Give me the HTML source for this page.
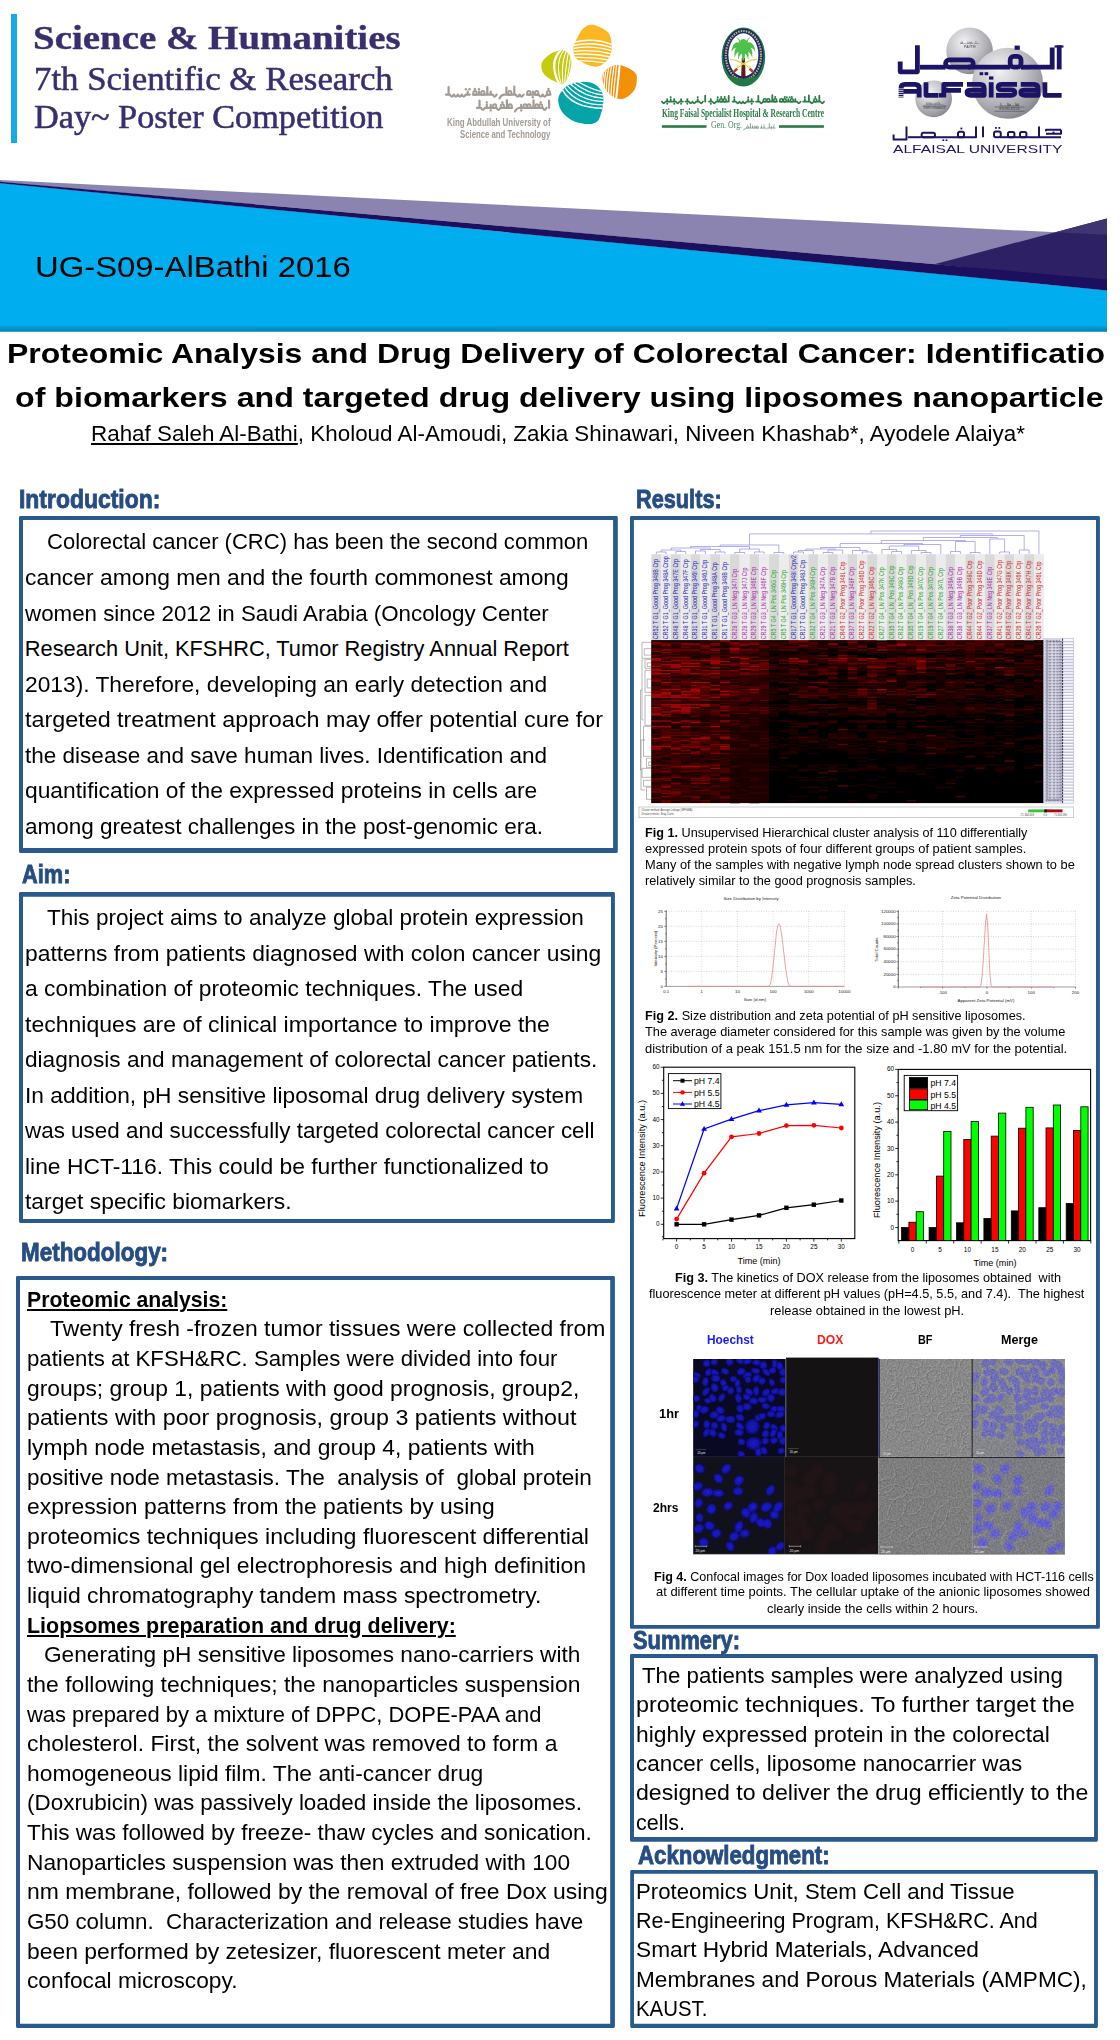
<!DOCTYPE html>
<html><head><meta charset="utf-8"><title>Poster</title>
<style>
html,body{margin:0;padding:0;background:#fff;}
body{width:1120px;height:2040px;overflow:hidden;position:relative;font-family:"Liberation Sans",sans-serif;color:#000;}
#pg{position:absolute;left:0;top:0;width:1120px;height:2040px;overflow:hidden;}
.t{position:absolute;white-space:pre;transform-origin:0 0;}
.bx{position:absolute;box-sizing:border-box;border:4px solid #285a8e;background:#fff;border-radius:1.5px;}
svg{position:absolute;overflow:visible;}
u{text-decoration-thickness:1.5px;text-underline-offset:2px;}
</style></head><body><div id="pg">

<!-- boxes -->
<svg style="left:0;top:0" width="1120" height="2040" viewBox="0 0 1120 2040"><path d="M20.4,516H616.4Q617.8,516 617.8,517.4V851.5Q617.8,852.9 616.4,852.9H20.4Q19,852.9 19,851.5V517.4Q19,516 20.4,516ZM23.0,520.1V848.1H613.1V520.1ZM20.4,892H613.5Q614.9,892 614.9,893.4V1221.5Q614.9,1222.9 613.5,1222.9H20.4Q19,1222.9 19,1221.5V893.4Q19,892 20.4,892ZM23.0,896.8V1219.0H611.0V896.8ZM17.4,1276.1H613.5Q614.9,1276.1 614.9,1277.5V2026.5Q614.9,2027.9 613.5,2027.9H17.4Q16,2027.9 16,2026.5V1277.5Q16,1276.1 17.4,1276.1ZM20.0,1280.1V2023.8H610.2V1280.1ZM631.4,516.1H1098.5Q1099.9,516.1 1099.9,517.5V1627.4Q1099.9,1628.8 1098.5,1628.8H631.4Q630,1628.8 630,1627.4V517.5Q630,516.1 631.4,516.1ZM633.9,519.9V1624.9H1096.0V519.9ZM631.4,1654.1H1096.5Q1097.9,1654.1 1097.9,1655.5V1840.3Q1097.9,1841.7 1096.5,1841.7H631.4Q630,1841.7 630,1840.3V1655.5Q630,1654.1 631.4,1654.1ZM634.0,1657.9V1837.1H1094.1V1657.9ZM631.6,1870.1H1096.5Q1097.9,1870.1 1097.9,1871.5V2026.5Q1097.9,2027.9 1096.5,2027.9H631.6Q630.2,2027.9 630.2,2026.5V1871.5Q630.2,1870.1 631.6,1870.1ZM634.0,1873.8V2023.8H1094.1V1873.8Z" fill="#285a8e" fill-rule="evenodd"/></svg>
<!-- cyan bar + banner -->
<div style="position:absolute;left:10.5px;top:14px;width:6.7px;height:129px;background:#19a9e6"></div>
<svg style="left:0;top:170px" width="1120" height="170" viewBox="0 170 1120 170">
<defs><linearGradient id="cy" x1="0" y1="0" x2="0" y2="1" gradientUnits="objectBoundingBox">
<stop offset="0" stop-color="#00aeef"/><stop offset="0.955" stop-color="#00aeef"/><stop offset="0.975" stop-color="#0294cd"/><stop offset="1" stop-color="#027fb2"/></linearGradient></defs>
<polygon points="0,183 1107,290.2 1107,331.8 0,331.8" fill="url(#cy)"/>
<polygon points="0,180 1107,234.8 1107,279.4 0,182" fill="#8b84b0"/>
<polygon points="934.4,264.3 1107,218.5 1107,281" fill="#2d2065"/>
<polygon points="0,181.8 1107,279.4 1107,290.4 0,183.2" fill="#1b0f5e"/>
<polygon points="1055.2,232.2 1107,218.5 1107,234.8" fill="#3f3570"/>
</svg>

<!-- logos -->
<svg style="left:430px;top:0" width="690" height="170" viewBox="430 0 690 170">
<defs>
<clipPath id="cy1"><path d="M592.8,24.8C596.9,25.4 604.8,28.8 607.9,32.2C611.1,35.6 611.6,41.2 611.7,45.4C611.9,49.7 611.4,54.2 608.9,57.8C606.4,61.3 601.8,66.4 596.6,66.7C591.4,67.1 581.5,62.6 577.6,59.6C573.8,56.7 573.5,52.7 573.4,49.2C573.2,45.8 575.0,42.3 576.7,38.8C578.4,35.4 580.6,30.7 583.3,28.4C586.0,26.1 588.7,24.2 592.8,24.8Z"/></clipPath>
<clipPath id="cg1"><path d="M561.1,50.2C558.6,50.7 553.4,51.8 550.2,54.0C547.0,56.2 542.6,60.0 541.7,63.4C540.7,66.9 541.7,71.5 544.5,74.8C547.4,78.1 555.4,81.9 558.7,83.3C562.0,84.7 562.7,84.7 564.4,83.3C566.1,81.9 567.9,78.1 569.1,74.8C570.3,71.5 571.3,66.6 571.5,63.4C571.6,60.3 571.1,57.9 570.1,55.9C569.0,53.8 566.8,52.1 565.3,51.1C563.8,50.2 563.6,49.7 561.1,50.2Z"/></clipPath>
<clipPath id="co1"><path d="M621.2,65.3C625.0,66.3 631.8,69.7 634.4,71.9C637.0,74.2 636.8,75.6 636.8,78.6C636.8,81.6 636.6,86.6 634.4,89.9C632.3,93.2 627.3,97.2 624.0,98.4C620.7,99.7 617.6,98.9 614.6,97.5C611.6,96.1 608.1,93.1 606.0,89.9C604.0,86.8 602.6,81.6 602.3,78.6C601.9,75.6 602.6,74.0 604.1,71.9C605.7,69.9 608.9,67.4 611.7,66.3C614.6,65.2 617.4,64.4 621.2,65.3Z"/></clipPath>
<clipPath id="ct1"><path d="M581.4,81.9C585.8,81.7 591.2,82.4 594.7,84.3C598.1,86.1 600.8,89.6 602.3,92.8C603.7,95.9 603.4,99.9 603.2,103.2C603.0,106.5 602.3,109.6 601.3,112.6C600.4,115.6 599.6,119.3 597.5,121.2C595.5,123.1 592.9,124.0 589.0,124.0C585.1,124.0 578.3,123.1 573.9,121.2C569.4,119.3 565.1,116.0 562.5,112.6C559.9,109.3 558.6,104.6 558.2,101.3C557.9,98.0 559.0,95.4 560.6,92.8C562.3,90.1 564.7,87.0 568.2,85.2C571.6,83.4 577.0,82.0 581.4,81.9Z"/></clipPath>
<radialGradient id="sp" cx="0.38" cy="0.32" r="0.75"><stop offset="0" stop-color="#f3f3f5"/><stop offset="0.42" stop-color="#cacace"/><stop offset="0.82" stop-color="#9a9aa0"/><stop offset="1" stop-color="#7e7e86"/></radialGradient>
</defs>
<g clip-path="url(#cy1)"><rect x="570" y="20" width="46" height="52" fill="#fbb823"/><path d="M572.0,42.8Q593.0,36.8 613.1,45.0" fill="none" stroke="#fff" stroke-width="1.3"/><path d="M572.0,45.7Q593.0,40.8 613.1,48.1" fill="none" stroke="#fff" stroke-width="1.3"/><path d="M572.0,48.7Q593.0,44.7 613.1,51.2" fill="none" stroke="#fff" stroke-width="1.3"/><path d="M572.0,51.6Q593.0,48.7 613.1,54.3" fill="none" stroke="#fff" stroke-width="1.3"/><path d="M572.0,54.5Q593.0,52.7 613.1,57.5" fill="none" stroke="#fff" stroke-width="1.3"/><path d="M572.0,57.5Q593.0,56.7 613.1,60.6" fill="none" stroke="#fff" stroke-width="1.3"/><path d="M572.0,60.4Q593.0,60.6 613.1,63.7" fill="none" stroke="#fff" stroke-width="1.3"/></g>
<g clip-path="url(#cg1)"><rect x="538" y="48" width="36" height="38" fill="#c7cb0f"/><path d="M561.7,49.2Q547.8,62.0 559.4,84.3" fill="none" stroke="#fff" stroke-width="2.2"/><path d="M564.4,49.7Q554.3,61.8 561.2,84.3" fill="none" stroke="#fff" stroke-width="1.1"/><path d="M566.8,50.2Q560.7,61.5 563.0,84.3" fill="none" stroke="#fff" stroke-width="1.1"/><path d="M568.8,51.1Q566.2,61.3 564.6,83.8" fill="none" stroke="#fff" stroke-width="1.1"/><path d="M570.6,53.0Q570.5,63.0 566.5,82.4" fill="none" stroke="#fff" stroke-width="1.0"/><path d="M572.0,55.9Q572.9,63.0 568.7,79.5" fill="none" stroke="#fff" stroke-width="0.9"/></g>
<g clip-path="url(#co1)"><rect x="600" y="63" width="40" height="38" fill="#f29108"/><path d="M619.7,64.4Q618.1,82.8 616.1,99.4" fill="none" stroke="#fff" stroke-width="2.0"/><path d="M616.6,64.8Q614.4,82.6 613.1,99.4" fill="none" stroke="#fff" stroke-width="1.2"/><path d="M614.0,65.3Q611.3,82.8 610.7,98.4" fill="none" stroke="#fff" stroke-width="1.2"/><path d="M611.4,65.8Q608.3,83.5 608.6,96.6" fill="none" stroke="#fff" stroke-width="1.2"/><path d="M608.9,66.7Q605.4,84.0 606.7,94.7" fill="none" stroke="#fff" stroke-width="1.1"/><path d="M606.4,68.2Q603.1,84.7 605.1,91.8" fill="none" stroke="#fff" stroke-width="1.1"/><path d="M604.3,70.5Q601.3,81.6 603.7,88.0" fill="none" stroke="#fff" stroke-width="1.0"/></g>
<g clip-path="url(#ct1)"><rect x="555" y="80" width="52" height="48" fill="#03a5a9"/><path d="M562.5,89.9Q572.0,108.1 604.1,108.4" fill="none" stroke="#fff" stroke-width="1.6"/><path d="M564.9,87.6Q576.5,104.8 604.1,104.9" fill="none" stroke="#fff" stroke-width="1.3"/><path d="M567.4,85.7Q580.9,101.4 604.1,101.5" fill="none" stroke="#fff" stroke-width="1.3"/><path d="M570.3,84.1Q585.1,97.8 604.1,98.3" fill="none" stroke="#fff" stroke-width="1.3"/><path d="M573.7,82.7Q589.3,94.5 603.7,94.9" fill="none" stroke="#fff" stroke-width="1.3"/><path d="M577.6,81.6Q593.7,90.4 602.3,91.6" fill="none" stroke="#fff" stroke-width="1.2"/></g>
<path d="M469.7,94.6H467.7V91.5M467.7,94.6H465.7Q463.7,98.7 461.8,94.6Q459.8,98.7 457.8,94.6Q455.9,98.7 453.9,94.6Q451.9,98.7 449.9,94.6H448.6V87.1M448.6,94.6H446.0M496.6,94.6Q494.6,98.7 492.7,94.6H490.7V91.5M490.7,94.6H488.7H487.3V87.1M487.3,94.6H484.8H480.8H478.9V91.5M478.9,94.6H476.9H472.9M523.6,94.6Q521.6,98.7 519.6,94.6Q517.6,98.7 515.7,94.6H514.3V86.6M514.3,94.6H511.7H507.8H506.4V87.6M506.4,94.6H503.8Q500.7,95.4 499.5,98.3M550.5,94.6H546.6Q544.6,98.7 542.6,94.6Q540.6,98.7 538.7,94.6H534.7H532.8V91.5M532.8,94.6H530.8H526.8" fill="none" stroke="#a39b94" stroke-width="2.2" stroke-linecap="round" stroke-linejoin="round"/><ellipse cx="482.8" cy="93.0" rx="1.7" ry="2.0" fill="none" stroke="#a39b94" stroke-width="1.87"/><ellipse cx="474.9" cy="93.0" rx="1.7" ry="2.0" fill="none" stroke="#a39b94" stroke-width="1.87"/><ellipse cx="509.8" cy="93.0" rx="1.7" ry="2.0" fill="none" stroke="#a39b94" stroke-width="1.87"/><ellipse cx="548.5" cy="93.0" rx="1.7" ry="2.0" fill="none" stroke="#a39b94" stroke-width="1.87"/><ellipse cx="536.7" cy="93.0" rx="1.7" ry="2.0" fill="none" stroke="#a39b94" stroke-width="1.87"/><ellipse cx="528.8" cy="93.0" rx="1.7" ry="2.0" fill="none" stroke="#a39b94" stroke-width="1.87"/><circle cx="465.9" cy="89.2" r="1.21" fill="#a39b94"/><circle cx="469.5" cy="89.2" r="1.21" fill="#a39b94"/><circle cx="478.9" cy="89.2" r="1.21" fill="#a39b94"/><circle cx="474.9" cy="89.0" r="1.21" fill="#a39b94"/><circle cx="548.5" cy="89.0" r="1.21" fill="#a39b94"/><circle cx="532.8" cy="97.2" r="1.21" fill="#a39b94"/>
<path d="M512.1,107.8H508.2H506.9V100.2M506.9,107.8H504.3H500.4Q498.5,111.8 496.5,107.8H492.6H490.7V104.8M490.7,107.8H488.7H486.8V104.8M486.8,107.8H484.8Q482.9,111.8 480.9,107.8H479.5V100.7M479.5,107.8H477.0M550.5,107.8M549.1,100.7V107.8M546.6,107.8Q544.6,111.8 542.7,107.8H538.8H534.9H533.5V100.3M533.5,107.8H531.0H527.1H523.2H521.2V104.8M521.2,107.8H519.3Q516.1,108.6 515.0,111.4" fill="none" stroke="#a39b94" stroke-width="2.2" stroke-linecap="round" stroke-linejoin="round"/><ellipse cx="510.2" cy="106.2" rx="1.6" ry="1.9" fill="none" stroke="#a39b94" stroke-width="1.87"/><ellipse cx="502.4" cy="106.2" rx="1.6" ry="1.9" fill="none" stroke="#a39b94" stroke-width="1.87"/><ellipse cx="494.6" cy="106.2" rx="1.6" ry="1.9" fill="none" stroke="#a39b94" stroke-width="1.87"/><ellipse cx="540.7" cy="106.2" rx="1.6" ry="1.9" fill="none" stroke="#a39b94" stroke-width="1.87"/><ellipse cx="536.8" cy="106.2" rx="1.6" ry="1.9" fill="none" stroke="#a39b94" stroke-width="1.87"/><ellipse cx="529.0" cy="106.2" rx="1.6" ry="1.9" fill="none" stroke="#a39b94" stroke-width="1.87"/><ellipse cx="525.1" cy="106.2" rx="1.6" ry="1.9" fill="none" stroke="#a39b94" stroke-width="1.87"/><circle cx="502.4" cy="102.4" r="1.21" fill="#a39b94"/><circle cx="490.7" cy="110.4" r="1.21" fill="#a39b94"/><circle cx="486.8" cy="102.5" r="1.21" fill="#a39b94"/><circle cx="540.7" cy="102.4" r="1.21" fill="#a39b94"/><circle cx="521.2" cy="110.4" r="1.21" fill="#a39b94"/>
<g>
<ellipse cx="743.4" cy="57" rx="21.8" ry="29.4" fill="#217a46"/>
<ellipse cx="743.4" cy="55.4" rx="20.2" ry="27" fill="#1b2a78"/>
<ellipse cx="743.4" cy="55.4" rx="17.6" ry="24.4" fill="none" stroke="#d6cb48" stroke-width="2.1" stroke-dasharray="1.5 1.1" opacity="0.9"/>
<ellipse cx="743.4" cy="54.9" rx="15" ry="21.6" fill="#fff"/>
<path d="M741.8,58 L745,58 L745.6,77.6 L741.2,77.6 Z" fill="#5e1c12"/>
<path d="M730.6,75.6 Q743.4,82.6 756.2,75.6 Q752.6,85.6 743.4,86 Q734.2,85.6 730.6,75.6Z" fill="#217a46"/>
<g fill="#4fc04a">
<path d="M743.4,46 C738,39 732.5,42 731.4,52 C734,46.5 738,46.5 743.4,51 Z"/>
<path d="M743.4,46 C748.8,39 754.3,42 755.4,52 C752.8,46.5 748.8,46.5 743.4,51 Z"/>
<path d="M743.4,47 C737.5,43 733.5,48 734.6,58 C736,52 739.5,50 743.4,52 Z"/>
<path d="M743.4,47 C749.3,43 753.3,48 752.2,58 C750.8,52 747.3,50 743.4,52 Z"/>
<path d="M743.4,48 C739.5,47 737,52 738.6,60 C739.6,55 741,53 743.4,53 Z"/>
<path d="M743.4,48 C747.3,47 749.8,52 748.2,60 C747.2,55 745.8,53 743.4,53 Z"/>
<path d="M743.4,47 C741,41 738,37.5 736.6,37 C739,40 740.6,44 741.6,50 Z"/>
<path d="M743.4,47 C745.8,41 748.8,37.5 750.2,37 C747.8,40 746.2,44 745.2,50 Z"/>
<ellipse cx="743.4" cy="46.5" rx="5.2" ry="7.6"/>
<path d="M741.6,52 L742.4,60.5 L744.4,60.5 L745.2,52 Z"/>
</g>
<path d="M729.6,59.4 Q740,59.4 752.6,70.6" fill="none" stroke="#e6d64e" stroke-width="1.2"/>
<path d="M757.2,59.4 Q746.8,59.4 734.2,70.6" fill="none" stroke="#e6d64e" stroke-width="1.2"/>
<path d="M749.6,68.8 L753.6,72.4" stroke="#a8472a" stroke-width="2.6"/>
<path d="M737.2,68.8 L733.2,72.4" stroke="#a8472a" stroke-width="2.6"/>
<circle cx="737.6" cy="66.4" r="1.1" fill="#ece468"/><circle cx="749.4" cy="66.4" r="1.1" fill="#ece468"/>
</g>
<path d="M682.9,101.6H681.1V99.1M681.1,101.6H679.4Q677.7,104.9 675.9,101.6H674.2V99.1M674.2,101.6H672.4H670.7V99.1M670.7,101.6H669.0H667.2V99.1M667.2,101.6H665.5Q663.7,104.9 662.0,101.6M706.4,101.6M705.2,95.7V101.6M702.9,101.6Q701.2,104.9 699.4,101.6H697.7V99.1M697.7,101.6H696.0Q694.2,104.9 692.5,101.6Q690.7,104.9 689.0,101.6H687.3V99.1M687.3,101.6H685.5M729.9,101.6M728.7,96.0V101.6H726.4H723.0H719.5H717.7V99.1M717.7,101.6H716.0Q714.3,104.9 712.5,101.6H710.8V99.1M710.8,101.6H709.0M753.4,101.6H751.7V99.1M751.7,101.6H750.0H748.2V99.1M748.2,101.6H746.5Q744.7,104.9 743.0,101.6Q741.3,104.9 739.5,101.6Q737.8,104.9 736.0,101.6H734.3V99.1M734.3,101.6H732.6M777.0,101.6H773.5H772.3V95.2M772.3,101.6H770.0H766.5H763.0Q761.3,104.9 759.6,101.6H758.3V95.8M758.3,101.6H756.1M800.5,101.6Q798.7,104.9 797.0,101.6H795.3V99.1M795.3,101.6H793.5H790.0H788.3V99.1M788.3,101.6H786.6H783.1H779.6M824.0,101.6Q822.3,104.9 820.5,101.6H819.3V95.7M819.3,101.6H817.0H813.6Q811.8,104.9 810.1,101.6H808.9V95.4M808.9,101.6H806.6H804.9V99.1M804.9,101.6H803.1" fill="none" stroke="#2c7a45" stroke-width="1.8" stroke-linecap="round" stroke-linejoin="round"/><ellipse cx="724.7" cy="100.3" rx="1.5" ry="1.6" fill="none" stroke="#2c7a45" stroke-width="1.53"/><ellipse cx="721.2" cy="100.3" rx="1.5" ry="1.6" fill="none" stroke="#2c7a45" stroke-width="1.53"/><ellipse cx="775.2" cy="100.3" rx="1.5" ry="1.6" fill="none" stroke="#2c7a45" stroke-width="1.53"/><ellipse cx="768.3" cy="100.3" rx="1.5" ry="1.6" fill="none" stroke="#2c7a45" stroke-width="1.53"/><ellipse cx="764.8" cy="100.3" rx="1.5" ry="1.6" fill="none" stroke="#2c7a45" stroke-width="1.53"/><ellipse cx="791.8" cy="100.3" rx="1.5" ry="1.6" fill="none" stroke="#2c7a45" stroke-width="1.53"/><ellipse cx="784.8" cy="100.3" rx="1.5" ry="1.6" fill="none" stroke="#2c7a45" stroke-width="1.53"/><ellipse cx="781.3" cy="100.3" rx="1.5" ry="1.6" fill="none" stroke="#2c7a45" stroke-width="1.53"/><ellipse cx="815.3" cy="100.3" rx="1.5" ry="1.6" fill="none" stroke="#2c7a45" stroke-width="1.53"/><circle cx="681.1" cy="103.7" r="0.99" fill="#2c7a45"/><circle cx="674.2" cy="103.7" r="0.99" fill="#2c7a45"/><circle cx="670.7" cy="97.2" r="0.99" fill="#2c7a45"/><circle cx="667.2" cy="103.7" r="0.99" fill="#2c7a45"/><circle cx="697.7" cy="97.2" r="0.99" fill="#2c7a45"/><circle cx="687.3" cy="103.7" r="0.99" fill="#2c7a45"/><circle cx="724.7" cy="97.1" r="0.99" fill="#2c7a45"/><circle cx="721.2" cy="97.1" r="0.99" fill="#2c7a45"/><circle cx="717.7" cy="97.2" r="0.99" fill="#2c7a45"/><circle cx="710.8" cy="103.7" r="0.99" fill="#2c7a45"/><circle cx="751.7" cy="103.7" r="0.99" fill="#2c7a45"/><circle cx="748.2" cy="97.2" r="0.99" fill="#2c7a45"/><circle cx="734.3" cy="97.2" r="0.99" fill="#2c7a45"/><circle cx="775.2" cy="97.1" r="0.99" fill="#2c7a45"/><circle cx="791.8" cy="97.1" r="0.99" fill="#2c7a45"/><circle cx="786.9" cy="97.2" r="0.99" fill="#2c7a45"/><circle cx="789.7" cy="97.2" r="0.99" fill="#2c7a45"/><circle cx="784.8" cy="97.1" r="0.99" fill="#2c7a45"/><circle cx="815.3" cy="97.1" r="0.99" fill="#2c7a45"/><circle cx="804.9" cy="97.2" r="0.99" fill="#2c7a45"/>
<rect x="661.9" y="125.2" width="44.6" height="2.6" fill="#2c7a45"/><rect x="779" y="125.2" width="44.9" height="2.6" fill="#2c7a45"/>
<path d="M758.6,128.0H756.2H753.7H752.5V126.3M752.5,128.0H751.3H750.4V123.6M750.4,128.0H748.9H746.4Q744.5,128.4 743.8,130.0M775.0,128.0H773.8V126.3M773.8,128.0H772.6H771.4V126.3M771.4,128.0H770.1H769.3V123.7M769.3,128.0H767.7Q766.5,130.2 765.3,128.0H764.1V126.3M764.1,128.0H762.8H761.6V126.3M761.6,128.0H760.4" fill="none" stroke="#6a8f78" stroke-width="0.8" stroke-linecap="round" stroke-linejoin="round"/><ellipse cx="757.4" cy="127.1" rx="1.0" ry="1.1" fill="none" stroke="#6a8f78" stroke-width="0.68"/><ellipse cx="755.0" cy="127.1" rx="1.0" ry="1.1" fill="none" stroke="#6a8f78" stroke-width="0.68"/><ellipse cx="747.7" cy="127.1" rx="1.0" ry="1.1" fill="none" stroke="#6a8f78" stroke-width="0.68"/><circle cx="752.5" cy="125.0" r="0.44" fill="#6a8f78"/><circle cx="747.7" cy="124.9" r="0.44" fill="#6a8f78"/><circle cx="773.1" cy="125.0" r="0.44" fill="#6a8f78"/><circle cx="774.4" cy="125.0" r="0.44" fill="#6a8f78"/><circle cx="771.4" cy="129.4" r="0.44" fill="#6a8f78"/><circle cx="763.4" cy="125.0" r="0.44" fill="#6a8f78"/><circle cx="764.7" cy="125.0" r="0.44" fill="#6a8f78"/><circle cx="761.6" cy="125.0" r="0.44" fill="#6a8f78"/>
<g>
<circle cx="969.6" cy="50.9" r="23.3" fill="url(#sp)"/>
<circle cx="933.6" cy="98.8" r="18.4" fill="url(#sp)"/>
<circle cx="1007.6" cy="83.2" r="35.5" fill="url(#sp)"/>
</g>
<g><path d="M1059.2,45.3 V69.4" fill="none" stroke="#1b1464" stroke-width="4.8" stroke-linecap="butt" stroke-linejoin="miter"/><path d="M1054.5,46.5 H1063.5" fill="none" stroke="#1b1464" stroke-width="2.2" stroke-linecap="butt" stroke-linejoin="miter"/><path d="M1052.2,47.5 V67.2 H1030" fill="none" stroke="#1b1464" stroke-width="4.8" stroke-linecap="butt" stroke-linejoin="miter"/><rect x="1010.2" y="56.3" width="10.8" height="10.9" rx="3.6" fill="none" stroke="#1b1464" stroke-width="4.8"/><rect x="1014.6" y="45.6" width="5.2" height="4.2" fill="#1b1464"/><path d="M1021,67.2 H1030" fill="none" stroke="#1b1464" stroke-width="4.8" stroke-linecap="butt" stroke-linejoin="miter"/><path d="M1010.2,67.2 H968" fill="none" stroke="#1b1464" stroke-width="4.8" stroke-linecap="butt" stroke-linejoin="miter"/><rect x="979.6" y="72.2" width="3.6" height="3" fill="#1b1464"/><rect x="984.6" y="72.2" width="3.6" height="3" fill="#1b1464"/><rect x="945.6" y="59.8" width="27.6" height="7.4" rx="3.7" fill="none" stroke="#1b1464" stroke-width="4.8"/><path d="M945.6,67.2 H920" fill="none" stroke="#1b1464" stroke-width="4.8" stroke-linecap="butt" stroke-linejoin="miter"/><path d="M917.4,45.3 V71.8 H900.2 V61.5" fill="none" stroke="#1b1464" stroke-width="4.8" stroke-linecap="butt" stroke-linejoin="round"/></g>
<g><path d="M901,97.5 V88.4 Q901,84.4 905,84.4 H915 Q919.2,84.4 919.2,88.4 V97.5 M901,91.44999999999999 H919.2" fill="none" stroke="#1b1464" stroke-width="4.8" stroke-linejoin="round"/><path d="M926,82.2 V95.3 H938.2" fill="none" stroke="#1b1464" stroke-width="4.8" stroke-linejoin="round"/><rect x="938.6" y="93.1" width="3.6" height="4.4" fill="#1b1464"/><path d="M943.8,97.5 V84.4 H963 M943.8,90.44999999999999 H961" fill="none" stroke="#1b1464" stroke-width="4.8" stroke-linejoin="round"/><path d="M967,84.4 H980 Q984.2,84.4 984.2,88.4 V95.3 H971 Q967,95.3 967,92.3 Q967,90.25 971,90.25 H984.2" fill="none" stroke="#1b1464" stroke-width="4.8" stroke-linejoin="round"/><path d="M991.2,82.2 V97.5" fill="none" stroke="#1b1464" stroke-width="4.8" stroke-linejoin="round"/><rect x="989" y="76.4" width="4.4" height="3.2" fill="#1b1464"/><path d="M1017,84.4 H1002 Q998.2,84.4 998.2,87.2 Q998.2,89.85 1002,89.85 H1011 Q1014.8,89.85 1014.8,92.55 Q1014.8,95.3 1011,95.3 H996" fill="none" stroke="#1b1464" stroke-width="4.8" stroke-linejoin="round"/><path d="M1020.8,84.4 H1034 Q1038,84.4 1038,88.4 V95.3 H1025 Q1020.8,95.3 1020.8,92.3 Q1020.8,90.25 1025,90.25 H1038" fill="none" stroke="#1b1464" stroke-width="4.8" stroke-linejoin="round"/><path d="M1044.9,82.2 V95.3 H1061.6" fill="none" stroke="#1b1464" stroke-width="4.8" stroke-linejoin="round"/></g>
<rect x="898" y="88.5" width="5.5" height="0.7" fill="#fff"/><rect x="898" y="90.4" width="5.5" height="0.7" fill="#fff"/><rect x="898" y="92.3" width="5.5" height="0.7" fill="#fff"/><rect x="898" y="94.2" width="5.5" height="0.7" fill="#fff"/><rect x="898" y="96.1" width="5.5" height="0.7" fill="#fff"/>
<g font-family="'Liberation Sans',sans-serif" font-weight="bold" fill="#55555c" text-anchor="middle">
<text x="969.9" y="48" font-size="3.4" letter-spacing="0.4">FAITH</text>
<text x="1009.5" y="110.2" font-size="3" letter-spacing="0.1">KNOWLEDGE</text>
<text x="934.5" y="108.8" font-size="2.8">PERFORMANCE</text></g>
<path d="M994.5,107 H1024.5 M994.5,111.3 H1024.5" stroke="#3a3a44" stroke-width="0.5"/>
<path d="M922.5,105.9 H946.5" stroke="#3a3a44" stroke-width="0.5"/>
<path d="M979.0,43.4Q978.3,44.7 977.7,43.4Q977.0,44.7 976.4,43.4H975.9V41.2M975.9,43.4H975.0Q974.4,44.7 973.7,43.4Q973.1,44.7 972.4,43.4H971.7V42.4M971.7,43.4H971.1H970.4V42.4M970.4,43.4H969.8H969.1V42.4M969.1,43.4H968.4H967.8V42.4M967.8,43.4H967.1Q966.4,44.7 965.8,43.4Q965.1,44.7 964.5,43.4Q963.8,44.7 963.1,43.4H962.5V42.4M962.5,43.4H961.8H960.5" fill="none" stroke="#70707a" stroke-width="0.6" stroke-linecap="round" stroke-linejoin="round"/><ellipse cx="961.2" cy="42.9" rx="0.6" ry="0.6" fill="none" stroke="#70707a" stroke-width="0.51"/><circle cx="971.7" cy="41.7" r="0.33" fill="#70707a"/><circle cx="970.4" cy="44.2" r="0.33" fill="#70707a"/><circle cx="969.1" cy="41.7" r="0.33" fill="#70707a"/><circle cx="967.8" cy="41.7" r="0.33" fill="#70707a"/><circle cx="962.5" cy="41.7" r="0.33" fill="#70707a"/><circle cx="961.2" cy="41.6" r="0.33" fill="#70707a"/>
<path d="M1019.0,105.6H1017.6H1016.3H1015.8V103.1M1015.8,105.6H1014.9Q1014.2,107.0 1013.6,105.6Q1012.9,107.0 1012.2,105.6Q1011.5,107.0 1010.9,105.6H1009.5H1008.1H1007.7V103.1M1007.7,105.6H1006.8Q1006.1,107.0 1005.4,105.6Q1004.7,107.0 1004.1,105.6Q1003.4,107.0 1002.7,105.6Q1002.0,107.0 1001.4,105.6H1000.9V103.1M1000.9,105.6H1000.0" fill="none" stroke="#50505a" stroke-width="0.6" stroke-linecap="round" stroke-linejoin="round"/><ellipse cx="1018.3" cy="105.0" rx="0.6" ry="0.7" fill="none" stroke="#50505a" stroke-width="0.51"/><ellipse cx="1017.0" cy="105.0" rx="0.6" ry="0.7" fill="none" stroke="#50505a" stroke-width="0.51"/><ellipse cx="1010.2" cy="105.0" rx="0.6" ry="0.7" fill="none" stroke="#50505a" stroke-width="0.51"/><ellipse cx="1008.8" cy="105.0" rx="0.6" ry="0.7" fill="none" stroke="#50505a" stroke-width="0.51"/><circle cx="1018.3" cy="103.7" r="0.33" fill="#50505a"/><circle cx="1017.0" cy="103.7" r="0.33" fill="#50505a"/><circle cx="1008.8" cy="103.7" r="0.33" fill="#50505a"/>
<path d="M943.0,104.4Q942.3,105.7 941.7,104.4Q941.0,105.7 940.4,104.4H939.7V103.4M939.7,104.4H939.1H938.6V101.9M938.6,104.4H937.8H937.1V103.4M937.1,104.4H936.5H935.2H933.8Q933.2,105.7 932.5,104.4H931.2H930.6V103.4M930.6,104.4H929.9H929.3V103.4M929.3,104.4H928.6H927.3H926.7V103.4M926.7,104.4H926.0" fill="none" stroke="#70707a" stroke-width="0.6" stroke-linecap="round" stroke-linejoin="round"/><ellipse cx="935.8" cy="103.9" rx="0.5" ry="0.6" fill="none" stroke="#70707a" stroke-width="0.51"/><ellipse cx="934.5" cy="103.9" rx="0.5" ry="0.6" fill="none" stroke="#70707a" stroke-width="0.51"/><ellipse cx="931.9" cy="103.9" rx="0.5" ry="0.6" fill="none" stroke="#70707a" stroke-width="0.51"/><ellipse cx="928.0" cy="103.9" rx="0.5" ry="0.6" fill="none" stroke="#70707a" stroke-width="0.51"/><circle cx="939.7" cy="102.7" r="0.33" fill="#70707a"/><circle cx="936.6" cy="102.7" r="0.33" fill="#70707a"/><circle cx="937.6" cy="102.7" r="0.33" fill="#70707a"/><circle cx="930.6" cy="102.7" r="0.33" fill="#70707a"/><circle cx="928.8" cy="102.7" r="0.33" fill="#70707a"/><circle cx="929.7" cy="102.7" r="0.33" fill="#70707a"/><circle cx="926.2" cy="102.7" r="0.33" fill="#70707a"/><circle cx="927.1" cy="102.7" r="0.33" fill="#70707a"/>
<g><path d="M1061,129.7 H1046 V131.2 M1061,129.7 V133.79999999999998 H1046 M1061,137.2 H1030" fill="none" stroke="#1b1464" stroke-width="2.0" stroke-linejoin="round"/><rect x="1052.5" y="131.6" width="2" height="1.8" fill="#1b1464"/><path d="M1039,126.6 V137.2" fill="none" stroke="#1b1464" stroke-width="2.0" stroke-linejoin="round"/><path d="M1030,137.2 H1000" fill="none" stroke="#1b1464" stroke-width="2.0" stroke-linejoin="round"/><rect x="1020" y="132.0" width="6.4" height="5.2" rx="1.6" fill="none" stroke="#1b1464" stroke-width="2"/><rect x="1008" y="132.0" width="6.4" height="5.2" rx="1.6" fill="none" stroke="#1b1464" stroke-width="2"/><rect x="994" y="131.39999999999998" width="6.8" height="5.8" rx="2" fill="none" stroke="#1b1464" stroke-width="2"/><rect x="995" y="126.99999999999999" width="1.8" height="1.8" fill="#1b1464"/><rect x="998.4" y="126.99999999999999" width="1.8" height="1.8" fill="#1b1464"/><path d="M983,126.6 V137.2" fill="none" stroke="#1b1464" stroke-width="2.0" stroke-linejoin="round"/><path d="M976,126.6 V137.2 H958" fill="none" stroke="#1b1464" stroke-width="2.0" stroke-linejoin="round"/><rect x="958" y="131.79999999999998" width="6" height="5.4" rx="1.8" fill="none" stroke="#1b1464" stroke-width="2"/><rect x="960.4" y="127.6" width="1.9" height="1.8" fill="#1b1464"/><path d="M958,137.2 H922" fill="none" stroke="#1b1464" stroke-width="2.0" stroke-linejoin="round"/><rect x="942.4" y="139.39999999999998" width="1.8" height="1.6" fill="#1b1464"/><rect x="945.6" y="139.39999999999998" width="1.8" height="1.6" fill="#1b1464"/><rect x="921.6" y="132.79999999999998" width="13.4" height="4.4" rx="2" fill="none" stroke="#1b1464" stroke-width="2"/><path d="M921.6,137.2 H908" fill="none" stroke="#1b1464" stroke-width="2.0" stroke-linejoin="round"/><path d="M906.5,126.6 V139.6 H893.6 V134.6" fill="none" stroke="#1b1464" stroke-width="2.0" stroke-linejoin="round"/></g>
</svg>
<!-- fig1 -->
<svg style="left:630px;top:515px" width="470" height="310" viewBox="630 515 470 310">
<defs>
<filter id="hm" x="0" y="0" width="100%" height="100%" color-interpolation-filters="sRGB">
<feTurbulence type="fractalNoise" baseFrequency="0.045 0.42" numOctaves="2" seed="7" result="n"/>
<feColorMatrix in="n" type="matrix" values="2.6 0 0 0 -0.95  0 0 0 0 0  0 0 0 0 0  0 0 0 0 1"/>
</filter>
<linearGradient id="hmx" x1="0" x2="1" y1="0" y2="0">
<stop offset="0" stop-color="#000" stop-opacity="0.05"/><stop offset="0.2" stop-color="#000" stop-opacity="0.25"/><stop offset="0.3" stop-color="#000" stop-opacity="0.55"/><stop offset="0.45" stop-color="#000" stop-opacity="0.72"/><stop offset="1" stop-color="#000" stop-opacity="0.8"/></linearGradient>
<linearGradient id="hmy" x1="0" x2="0" y1="0" y2="1">
<stop offset="0" stop-color="#000" stop-opacity="0"/><stop offset="0.45" stop-color="#000" stop-opacity="0.15"/><stop offset="1" stop-color="#000" stop-opacity="0.6"/></linearGradient>
<linearGradient id="hml" x1="0" x2="1" y1="0" y2="0">
<stop offset="0" stop-color="#8a0000" stop-opacity="0.6"/><stop offset="0.22" stop-color="#700000" stop-opacity="0.45"/><stop offset="0.34" stop-color="#400000" stop-opacity="0.2"/><stop offset="0.5" stop-color="#300000" stop-opacity="0"/></linearGradient>
</defs>
<rect x="651.40" y="554.2" width="9.86" height="86.1" fill="#d9d9d9"/><rect x="661.21" y="554.2" width="9.86" height="86.1" fill="#ececec"/><rect x="671.02" y="554.2" width="9.86" height="86.1" fill="#d9d9d9"/><rect x="680.83" y="554.2" width="9.86" height="86.1" fill="#ececec"/><rect x="690.64" y="554.2" width="9.86" height="86.1" fill="#d9d9d9"/><rect x="700.45" y="554.2" width="9.86" height="86.1" fill="#ececec"/><rect x="710.26" y="554.2" width="9.86" height="86.1" fill="#d9d9d9"/><rect x="720.07" y="554.2" width="9.86" height="86.1" fill="#ececec"/><rect x="729.88" y="554.2" width="9.86" height="86.1" fill="#d9d9d9"/><rect x="739.69" y="554.2" width="9.86" height="86.1" fill="#ececec"/><rect x="749.50" y="554.2" width="9.86" height="86.1" fill="#d9d9d9"/><rect x="759.31" y="554.2" width="9.86" height="86.1" fill="#ececec"/><rect x="769.12" y="554.2" width="9.86" height="86.1" fill="#d9d9d9"/><rect x="778.93" y="554.2" width="9.86" height="86.1" fill="#ececec"/><rect x="788.74" y="554.2" width="9.86" height="86.1" fill="#d9d9d9"/><rect x="798.55" y="554.2" width="9.86" height="86.1" fill="#ececec"/><rect x="808.36" y="554.2" width="9.86" height="86.1" fill="#d9d9d9"/><rect x="818.17" y="554.2" width="9.86" height="86.1" fill="#ececec"/><rect x="827.98" y="554.2" width="9.86" height="86.1" fill="#d9d9d9"/><rect x="837.79" y="554.2" width="9.86" height="86.1" fill="#ececec"/><rect x="847.60" y="554.2" width="9.86" height="86.1" fill="#d9d9d9"/><rect x="857.41" y="554.2" width="9.86" height="86.1" fill="#ececec"/><rect x="867.22" y="554.2" width="9.86" height="86.1" fill="#d9d9d9"/><rect x="877.03" y="554.2" width="9.86" height="86.1" fill="#ececec"/><rect x="886.84" y="554.2" width="9.86" height="86.1" fill="#d9d9d9"/><rect x="896.65" y="554.2" width="9.86" height="86.1" fill="#ececec"/><rect x="906.46" y="554.2" width="9.86" height="86.1" fill="#d9d9d9"/><rect x="916.27" y="554.2" width="9.86" height="86.1" fill="#ececec"/><rect x="926.08" y="554.2" width="9.86" height="86.1" fill="#d9d9d9"/><rect x="935.89" y="554.2" width="9.86" height="86.1" fill="#ececec"/><rect x="945.70" y="554.2" width="9.86" height="86.1" fill="#d9d9d9"/><rect x="955.51" y="554.2" width="9.86" height="86.1" fill="#ececec"/><rect x="965.32" y="554.2" width="9.86" height="86.1" fill="#d9d9d9"/><rect x="975.13" y="554.2" width="9.86" height="86.1" fill="#ececec"/><rect x="984.94" y="554.2" width="9.86" height="86.1" fill="#d9d9d9"/><rect x="994.75" y="554.2" width="9.86" height="86.1" fill="#ececec"/><rect x="1004.56" y="554.2" width="9.86" height="86.1" fill="#d9d9d9"/><rect x="1014.37" y="554.2" width="9.86" height="86.1" fill="#ececec"/><rect x="1024.18" y="554.2" width="9.86" height="86.1" fill="#d9d9d9"/><rect x="1033.99" y="554.2" width="9.86" height="86.1" fill="#ececec"/>
<g font-family="'Liberation Sans',sans-serif" font-size="6.4"><text transform="translate(658.20 639.3) rotate(-90) scale(.845 1)" fill="#2a2ab0">CR52 T G1_Good Prog 348B Crp</text><text transform="translate(668.01 639.3) rotate(-90) scale(.845 1)" fill="#2a2ab0">CR52 T G1_Good Prog 348A Crop</text><text transform="translate(677.82 639.3) rotate(-90) scale(.845 1)" fill="#2a2ab0">CR48 T G1_Good Prog 347E Crp</text><text transform="translate(687.63 639.3) rotate(-90) scale(.845 1)" fill="#2a2ab0">CR48 T G1_Good Prog 347F Crp</text><text transform="translate(697.44 639.3) rotate(-90) scale(.845 1)" fill="#2a2ab0">CR31 T G1_Good Prog 346I Crp</text><text transform="translate(707.25 639.3) rotate(-90) scale(.845 1)" fill="#2a2ab0">CR31 T G1_Good Prog 346J Crp</text><text transform="translate(717.06 639.3) rotate(-90) scale(.845 1)" fill="#2a2ab0">CR1 T G1_Good Prog 348A Crp</text><text transform="translate(726.87 639.3) rotate(-90) scale(.845 1)" fill="#2a2ab0">CR1 T G1_Good Prog 348B Crp</text><text transform="translate(736.68 639.3) rotate(-90) scale(.845 1)" fill="#b02ab0">CR28 T G3_LN Neg 347I Crp</text><text transform="translate(746.50 639.3) rotate(-90) scale(.845 1)" fill="#b02ab0">CR28 T G3_LN Neg 347J Crp</text><text transform="translate(756.30 639.3) rotate(-90) scale(.845 1)" fill="#b02ab0">CR29 T G3_LN Neg 346E Crp</text><text transform="translate(766.11 639.3) rotate(-90) scale(.845 1)" fill="#b02ab0">CR29 T G3_LN Neg 346F Crp</text><text transform="translate(775.92 639.3) rotate(-90) scale(.845 1)" fill="#2aa52a">CR5 T G4_LN Pos 346G Crp</text><text transform="translate(785.73 639.3) rotate(-90) scale(.845 1)" fill="#2aa52a">CR5 T G4_LN Pos 346H Crp</text><text transform="translate(795.54 639.3) rotate(-90) scale(.845 1)" fill="#2a2ab0">CR17 T G1_Good Prog 348I Crpv2</text><text transform="translate(805.35 639.3) rotate(-90) scale(.845 1)" fill="#2a2ab0">CR17 T G1_Good Prog 348J Crp</text><text transform="translate(815.16 639.3) rotate(-90) scale(.845 1)" fill="#2aa52a">CR32 T G4_LN Pos 348H Crp</text><text transform="translate(824.97 639.3) rotate(-90) scale(.845 1)" fill="#b02ab0">CR21 T G3_LN Neg 347A Crp</text><text transform="translate(834.78 639.3) rotate(-90) scale(.845 1)" fill="#b02ab0">CR21 T G3_LN Neg 347B Crp</text><text transform="translate(844.59 639.3) rotate(-90) scale(.845 1)" fill="#d42a2a">CR49 T G2_Poor Prog 348L Crp</text><text transform="translate(854.40 639.3) rotate(-90) scale(.845 1)" fill="#b02ab0">CR37 T G3_LN Neg 348F Crp</text><text transform="translate(864.21 639.3) rotate(-90) scale(.845 1)" fill="#d42a2a">CR22 T G2_Poor Prog 346D Crp</text><text transform="translate(874.02 639.3) rotate(-90) scale(.845 1)" fill="#d42a2a">CR22 T G2_LN Neg 346C Crp</text><text transform="translate(883.83 639.3) rotate(-90) scale(.845 1)" fill="#2aa52a">CR27 T G4_LN Pos 347K Crp</text><text transform="translate(893.64 639.3) rotate(-90) scale(.845 1)" fill="#2aa52a">CR35 T G4_LN_Pos 349C Crp</text><text transform="translate(903.45 639.3) rotate(-90) scale(.845 1)" fill="#2aa52a">CR32 T G4_LN Pos 348G Crp</text><text transform="translate(913.26 639.3) rotate(-90) scale(.845 1)" fill="#2aa52a">CR35 T G4_LN_Pos 349D Crp</text><text transform="translate(923.07 639.3) rotate(-90) scale(.845 1)" fill="#2aa52a">CR19 T G4_LN Pos 347C Crp</text><text transform="translate(932.88 639.3) rotate(-90) scale(.845 1)" fill="#2aa52a">CR19 T G4_LN Pos 347D Crp</text><text transform="translate(942.69 639.3) rotate(-90) scale(.845 1)" fill="#2aa52a">CR27 T G4_LN Pos 347L Crp</text><text transform="translate(952.50 639.3) rotate(-90) scale(.845 1)" fill="#b02ab0">CR38 T G3_LN Neg 349A Crp</text><text transform="translate(962.31 639.3) rotate(-90) scale(.845 1)" fill="#b02ab0">CR38 T G3_LN Neg 349B Crp</text><text transform="translate(972.12 639.3) rotate(-90) scale(.845 1)" fill="#d42a2a">CR44 T G2_Poor Prog 348C Crp</text><text transform="translate(981.93 639.3) rotate(-90) scale(.845 1)" fill="#d42a2a">CR44 T G2_Poor Prog 348D Crp</text><text transform="translate(991.74 639.3) rotate(-90) scale(.845 1)" fill="#b02ab0">CR37 T G3_LN Neg 348E Crp</text><text transform="translate(1001.55 639.3) rotate(-90) scale(.845 1)" fill="#d42a2a">CR41 T G2_Poor Prog 347G Crp</text><text transform="translate(1011.36 639.3) rotate(-90) scale(.845 1)" fill="#d42a2a">CR49 T G2_Poor Prog 348K Crp</text><text transform="translate(1021.17 639.3) rotate(-90) scale(.845 1)" fill="#d42a2a">CR26 T G2_Poor Prog 346K Crp</text><text transform="translate(1030.99 639.3) rotate(-90) scale(.845 1)" fill="#d42a2a">CR41 T G2_Poor Prog 347H Crp</text><text transform="translate(1040.80 639.3) rotate(-90) scale(.845 1)" fill="#d42a2a">CR26 T G2_Poor Prog 346L Crp</text></g>
<path d="M656.3,554.0V552.0H666.1V554.0M675.9,554.0V551.5H685.7V554.0M695.5,554.0V551.0H705.4V554.0M715.2,554.0V552.0H725.0V554.0M734.8,554.0V552.5H744.6V554.0M754.4,554.0V552.0H764.2V554.0M774.0,554.0V552.5H783.8V554.0M793.6,554.0V552.0H803.5V554.0M823.1,554.0V552.5H832.9V554.0M862.3,554.0V552.0H872.1V554.0M891.7,554.0V551.5H901.6V554.0M921.2,554.0V552.5H931.0V554.0M950.6,554.0V551.5H960.4V554.0M970.2,554.0V552.5H980.0V554.0M999.7,554.0V552.0H1009.5V554.0M1019.3,554.0V550.0H1029.1V554.0M661.2,552.0V550.0H680.8V551.5M700.5,551.0V549.5H720.1V552.0M671.0,550.0V548.0H710.3V549.5M739.7,552.5V549.0H759.3V552.0M690.6,548.0V546.5H749.5V549.0M778.9,552.5V545.0H720.1V546.5M798.5,552.0V550.5H813.3V554.0M828.0,552.5V550.0H842.7V554.0M805.9,550.5V549.0H835.3V550.0M852.5,554.0V550.5H867.2V552.0M820.6,549.0V547.5H859.9V550.5M881.9,554.0V549.5H896.6V551.5M911.4,554.0V550.5H926.1V552.5M889.3,549.5V546.0H918.7V550.5M904.0,546.0V544.5H940.8V554.0M840.2,547.5V543.5H922.4V544.5M955.5,551.5V541.5H975.1V552.5M881.3,543.5V540.5H965.3V541.5M989.8,554.0V539.0H1004.6V552.0M923.3,540.5V537.5H997.2V539.0M960.3,537.5V535.5H1024.2V550.0M749.5,545.0V533.9H992.2V535.5M870.9,533.9V531.0H1038.9V554.0" fill="none" stroke="#7b7be6" stroke-width="0.6"/>
<rect x="651.4" y="640.3" width="392.4" height="162.8" fill="#000"/>
<path d="M651.4,640.3h9.81v1.48h-9.81zM651.4,644.7h9.81v1.48h-9.81zM651.4,652.1h9.81v2.96h-9.81zM651.4,684.7h9.81v1.48h-9.81zM651.4,698.0h9.81v1.48h-9.81zM651.4,705.4h9.81v1.48h-9.81zM651.4,715.8h9.81v1.48h-9.81zM651.4,718.7h9.81v1.48h-9.81zM651.4,723.2h9.81v1.48h-9.81zM651.4,729.1h9.81v1.48h-9.81zM651.4,732.1h9.81v1.48h-9.81zM651.4,735.0h9.81v1.48h-9.81zM651.4,760.2h9.81v1.48h-9.81zM651.4,766.1h9.81v1.48h-9.81zM651.4,773.5h9.81v4.44h-9.81zM651.4,782.4h9.81v1.48h-9.81zM651.4,792.7h9.81v1.48h-9.81zM651.4,795.7h9.81v1.48h-9.81zM651.4,798.7h9.81v1.48h-9.81zM651.4,801.6h9.81v1.48h-9.81zM661.2,640.3h9.81v1.48h-9.81zM661.2,655.1h9.81v1.48h-9.81zM661.2,659.5h9.81v1.48h-9.81zM661.2,671.4h9.81v1.48h-9.81zM661.2,717.3h9.81v2.96h-9.81zM661.2,721.7h9.81v1.48h-9.81zM661.2,740.9h9.81v1.48h-9.81zM661.2,748.3h9.81v1.48h-9.81zM661.2,757.2h9.81v2.96h-9.81zM661.2,761.7h9.81v2.96h-9.81zM661.2,769.1h9.81v1.48h-9.81zM661.2,773.5h9.81v2.96h-9.81zM661.2,780.9h9.81v1.48h-9.81zM661.2,788.3h9.81v1.48h-9.81zM661.2,797.2h9.81v1.48h-9.81zM671.0,640.3h9.81v1.48h-9.81zM671.0,652.1h9.81v1.48h-9.81zM671.0,655.1h9.81v1.48h-9.81zM671.0,668.4h9.81v1.48h-9.81zM671.0,672.9h9.81v1.48h-9.81zM671.0,675.8h9.81v1.48h-9.81zM671.0,680.3h9.81v1.48h-9.81zM671.0,683.2h9.81v1.48h-9.81zM671.0,702.5h9.81v1.48h-9.81zM671.0,717.3h9.81v1.48h-9.81zM671.0,723.2h9.81v5.92h-9.81zM671.0,730.6h9.81v1.48h-9.81zM671.0,736.5h9.81v1.48h-9.81zM671.0,751.3h9.81v1.48h-9.81zM671.0,767.6h9.81v1.48h-9.81zM671.0,773.5h9.81v1.48h-9.81zM671.0,777.9h9.81v4.44h-9.81zM671.0,786.8h9.81v1.48h-9.81zM671.0,801.6h9.81v1.48h-9.81zM680.8,640.3h9.81v1.48h-9.81zM680.8,675.8h9.81v1.48h-9.81zM680.8,701.0h9.81v1.48h-9.81zM680.8,714.3h9.81v5.92h-9.81zM680.8,736.5h9.81v1.48h-9.81zM680.8,742.4h9.81v1.48h-9.81zM680.8,751.3h9.81v1.48h-9.81zM680.8,754.3h9.81v1.48h-9.81zM680.8,761.7h9.81v2.96h-9.81zM680.8,773.5h9.81v1.48h-9.81zM680.8,779.4h9.81v2.96h-9.81zM680.8,783.9h9.81v1.48h-9.81zM680.8,792.7h9.81v1.48h-9.81zM680.8,797.2h9.81v1.48h-9.81zM680.8,800.1h9.81v1.48h-9.81zM690.6,640.3h9.81v2.96h-9.81zM690.6,652.1h9.81v2.96h-9.81zM690.6,656.6h9.81v2.96h-9.81zM690.6,675.8h9.81v1.48h-9.81zM690.6,678.8h9.81v1.48h-9.81zM690.6,683.2h9.81v1.48h-9.81zM690.6,705.4h9.81v1.48h-9.81zM690.6,717.3h9.81v2.96h-9.81zM690.6,723.2h9.81v1.48h-9.81zM690.6,727.6h9.81v2.96h-9.81zM690.6,748.3h9.81v2.96h-9.81zM690.6,755.7h9.81v1.48h-9.81zM690.6,758.7h9.81v2.96h-9.81zM690.6,772.0h9.81v1.48h-9.81zM690.6,775.0h9.81v1.48h-9.81zM690.6,780.9h9.81v1.48h-9.81zM690.6,783.9h9.81v1.48h-9.81zM690.6,788.3h9.81v1.48h-9.81zM690.6,801.6h9.81v1.48h-9.81zM700.4,655.1h9.81v2.96h-9.81zM700.4,662.5h9.81v2.96h-9.81zM700.4,680.3h9.81v1.48h-9.81zM700.4,701.0h9.81v1.48h-9.81zM700.4,706.9h9.81v1.48h-9.81zM700.4,709.9h9.81v1.48h-9.81zM700.4,715.8h9.81v5.92h-9.81zM700.4,724.7h9.81v1.48h-9.81zM700.4,743.9h9.81v1.48h-9.81zM700.4,755.7h9.81v1.48h-9.81zM700.4,760.2h9.81v2.96h-9.81zM700.4,767.6h9.81v1.48h-9.81zM700.4,783.9h9.81v1.48h-9.81zM700.4,794.2h9.81v1.48h-9.81zM700.4,797.2h9.81v2.96h-9.81zM710.3,641.8h9.81v1.48h-9.81zM710.3,646.2h9.81v1.48h-9.81zM710.3,653.6h9.81v1.48h-9.81zM710.3,665.5h9.81v1.48h-9.81zM710.3,668.4h9.81v1.48h-9.81zM710.3,678.8h9.81v1.48h-9.81zM710.3,681.7h9.81v2.96h-9.81zM710.3,690.6h9.81v2.96h-9.81zM710.3,701.0h9.81v2.96h-9.81zM710.3,706.9h9.81v1.48h-9.81zM710.3,717.3h9.81v2.96h-9.81zM710.3,727.6h9.81v1.48h-9.81zM710.3,757.2h9.81v1.48h-9.81zM710.3,760.2h9.81v1.48h-9.81zM710.3,769.1h9.81v1.48h-9.81zM710.3,776.5h9.81v1.48h-9.81zM710.3,779.4h9.81v2.96h-9.81zM710.3,783.9h9.81v1.48h-9.81zM710.3,788.3h9.81v2.96h-9.81zM710.3,800.1h9.81v2.96h-9.81zM720.1,643.3h9.81v1.48h-9.81zM720.1,646.2h9.81v1.48h-9.81zM720.1,649.2h9.81v2.96h-9.81zM720.1,653.6h9.81v1.48h-9.81zM720.1,656.6h9.81v1.48h-9.81zM720.1,659.5h9.81v1.48h-9.81zM720.1,665.5h9.81v1.48h-9.81zM720.1,668.4h9.81v1.48h-9.81zM720.1,677.3h9.81v2.96h-9.81zM720.1,698.0h9.81v1.48h-9.81zM720.1,701.0h9.81v1.48h-9.81zM720.1,711.3h9.81v2.96h-9.81zM720.1,717.3h9.81v2.96h-9.81zM720.1,726.1h9.81v1.48h-9.81zM720.1,729.1h9.81v1.48h-9.81zM720.1,732.1h9.81v1.48h-9.81zM720.1,739.5h9.81v1.48h-9.81zM720.1,751.3h9.81v1.48h-9.81zM720.1,755.7h9.81v1.48h-9.81zM720.1,761.7h9.81v1.48h-9.81zM720.1,766.1h9.81v1.48h-9.81zM720.1,773.5h9.81v2.96h-9.81zM720.1,792.7h9.81v2.96h-9.81zM720.1,798.7h9.81v1.48h-9.81zM729.9,640.3h9.81v1.48h-9.81zM729.9,653.6h9.81v1.48h-9.81zM729.9,661.0h9.81v1.48h-9.81zM729.9,666.9h9.81v1.48h-9.81zM729.9,677.3h9.81v1.48h-9.81zM729.9,680.3h9.81v1.48h-9.81zM729.9,683.2h9.81v1.48h-9.81zM729.9,698.0h9.81v1.48h-9.81zM729.9,714.3h9.81v5.92h-9.81zM729.9,721.7h9.81v1.48h-9.81zM729.9,724.7h9.81v1.48h-9.81zM729.9,727.6h9.81v2.96h-9.81zM729.9,732.1h9.81v2.96h-9.81zM729.9,742.4h9.81v4.44h-9.81zM729.9,751.3h9.81v1.48h-9.81zM729.9,754.3h9.81v2.96h-9.81zM729.9,758.7h9.81v7.40h-9.81zM729.9,767.6h9.81v10.36h-9.81zM729.9,779.4h9.81v2.96h-9.81zM729.9,783.9h9.81v1.48h-9.81zM729.9,786.8h9.81v4.44h-9.81zM729.9,792.7h9.81v1.48h-9.81zM729.9,795.7h9.81v1.48h-9.81zM729.9,798.7h9.81v4.44h-9.81zM739.7,641.8h9.81v1.48h-9.81zM739.7,646.2h9.81v1.48h-9.81zM739.7,653.6h9.81v1.48h-9.81zM739.7,669.9h9.81v1.48h-9.81zM739.7,675.8h9.81v1.48h-9.81zM739.7,684.7h9.81v1.48h-9.81zM739.7,687.7h9.81v1.48h-9.81zM739.7,702.5h9.81v2.96h-9.81zM739.7,711.3h9.81v1.48h-9.81zM739.7,714.3h9.81v1.48h-9.81zM739.7,717.3h9.81v2.96h-9.81zM739.7,721.7h9.81v1.48h-9.81zM739.7,727.6h9.81v2.96h-9.81zM739.7,732.1h9.81v7.40h-9.81zM739.7,740.9h9.81v1.48h-9.81zM739.7,743.9h9.81v2.96h-9.81zM739.7,751.3h9.81v1.48h-9.81zM739.7,754.3h9.81v10.36h-9.81zM739.7,766.1h9.81v10.36h-9.81zM739.7,777.9h9.81v11.84h-9.81zM739.7,791.3h9.81v2.96h-9.81zM739.7,795.7h9.81v1.48h-9.81zM739.7,798.7h9.81v2.96h-9.81zM749.5,653.6h9.81v2.96h-9.81zM749.5,658.1h9.81v1.48h-9.81zM749.5,662.5h9.81v1.48h-9.81zM749.5,683.2h9.81v2.96h-9.81zM749.5,702.5h9.81v1.48h-9.81zM749.5,712.8h9.81v1.48h-9.81zM749.5,715.8h9.81v1.48h-9.81zM749.5,718.7h9.81v1.48h-9.81zM749.5,721.7h9.81v1.48h-9.81zM749.5,726.1h9.81v4.44h-9.81zM749.5,732.1h9.81v8.88h-9.81zM749.5,742.4h9.81v1.48h-9.81zM749.5,746.9h9.81v5.92h-9.81zM749.5,754.3h9.81v10.36h-9.81zM749.5,766.1h9.81v2.96h-9.81zM749.5,772.0h9.81v4.44h-9.81zM749.5,780.9h9.81v4.44h-9.81zM749.5,788.3h9.81v2.96h-9.81zM749.5,794.2h9.81v2.96h-9.81zM749.5,798.7h9.81v4.44h-9.81zM759.3,643.3h9.81v1.48h-9.81zM759.3,647.7h9.81v1.48h-9.81zM759.3,650.7h9.81v1.48h-9.81zM759.3,656.6h9.81v1.48h-9.81zM759.3,661.0h9.81v1.48h-9.81zM759.3,677.3h9.81v2.96h-9.81zM759.3,689.1h9.81v1.48h-9.81zM759.3,701.0h9.81v2.96h-9.81zM759.3,705.4h9.81v1.48h-9.81zM759.3,714.3h9.81v16.28h-9.81zM759.3,733.5h9.81v1.48h-9.81zM759.3,736.5h9.81v1.48h-9.81zM759.3,742.4h9.81v1.48h-9.81zM759.3,745.4h9.81v1.48h-9.81zM759.3,749.8h9.81v2.96h-9.81zM759.3,754.3h9.81v10.36h-9.81zM759.3,766.1h9.81v2.96h-9.81zM759.3,772.0h9.81v13.32h-9.81zM759.3,788.3h9.81v2.96h-9.81zM759.3,794.2h9.81v8.88h-9.81zM769.1,640.3h9.81v1.48h-9.81zM769.1,646.2h9.81v2.96h-9.81zM769.1,652.1h9.81v1.48h-9.81zM769.1,658.1h9.81v4.44h-9.81zM769.1,671.4h9.81v1.48h-9.81zM769.1,674.3h9.81v1.48h-9.81zM769.1,677.3h9.81v2.96h-9.81zM769.1,686.2h9.81v2.96h-9.81zM769.1,690.6h9.81v1.48h-9.81zM769.1,695.1h9.81v5.92h-9.81zM769.1,703.9h9.81v1.48h-9.81zM769.1,706.9h9.81v1.48h-9.81zM769.1,712.8h9.81v4.44h-9.81zM769.1,720.2h9.81v1.48h-9.81zM769.1,736.5h9.81v1.48h-9.81zM769.1,739.5h9.81v1.48h-9.81zM769.1,742.4h9.81v1.48h-9.81zM769.1,745.4h9.81v2.96h-9.81zM769.1,766.1h9.81v1.48h-9.81zM769.1,769.1h9.81v1.48h-9.81zM778.9,640.3h9.81v1.48h-9.81zM778.9,653.6h9.81v5.92h-9.81zM778.9,665.5h9.81v1.48h-9.81zM778.9,668.4h9.81v4.44h-9.81zM778.9,675.8h9.81v5.92h-9.81zM778.9,690.6h9.81v1.48h-9.81zM778.9,695.1h9.81v4.44h-9.81zM778.9,703.9h9.81v1.48h-9.81zM778.9,706.9h9.81v1.48h-9.81zM778.9,709.9h9.81v1.48h-9.81zM778.9,730.6h9.81v1.48h-9.81zM778.9,738.0h9.81v1.48h-9.81zM778.9,743.9h9.81v2.96h-9.81zM778.9,751.3h9.81v2.96h-9.81zM778.9,764.6h9.81v1.48h-9.81zM778.9,769.1h9.81v1.48h-9.81zM788.7,650.7h9.81v1.48h-9.81zM788.7,653.6h9.81v2.96h-9.81zM788.7,666.9h9.81v1.48h-9.81zM788.7,680.3h9.81v1.48h-9.81zM788.7,687.7h9.81v1.48h-9.81zM788.7,690.6h9.81v2.96h-9.81zM788.7,696.5h9.81v1.48h-9.81zM788.7,701.0h9.81v1.48h-9.81zM788.7,703.9h9.81v1.48h-9.81zM788.7,709.9h9.81v4.44h-9.81zM788.7,720.2h9.81v4.44h-9.81zM788.7,729.1h9.81v5.92h-9.81zM788.7,738.0h9.81v1.48h-9.81zM788.7,740.9h9.81v1.48h-9.81zM788.7,743.9h9.81v1.48h-9.81zM788.7,746.9h9.81v7.40h-9.81zM788.7,764.6h9.81v2.96h-9.81zM788.7,776.5h9.81v1.48h-9.81zM788.7,795.7h9.81v1.48h-9.81zM788.7,800.1h9.81v1.48h-9.81zM798.5,643.3h9.81v1.48h-9.81zM798.5,647.7h9.81v1.48h-9.81zM798.5,650.7h9.81v4.44h-9.81zM798.5,658.1h9.81v1.48h-9.81zM798.5,665.5h9.81v4.44h-9.81zM798.5,675.8h9.81v1.48h-9.81zM798.5,681.7h9.81v4.44h-9.81zM798.5,699.5h9.81v2.96h-9.81zM798.5,703.9h9.81v1.48h-9.81zM798.5,706.9h9.81v1.48h-9.81zM798.5,714.3h9.81v1.48h-9.81zM798.5,721.7h9.81v4.44h-9.81zM798.5,733.5h9.81v1.48h-9.81zM798.5,738.0h9.81v5.92h-9.81zM798.5,745.4h9.81v1.48h-9.81zM798.5,748.3h9.81v1.48h-9.81zM798.5,769.1h9.81v2.96h-9.81zM798.5,776.5h9.81v1.48h-9.81zM798.5,779.4h9.81v1.48h-9.81zM798.5,786.8h9.81v1.48h-9.81zM798.5,795.7h9.81v1.48h-9.81zM808.4,640.3h9.81v1.48h-9.81zM808.4,644.7h9.81v1.48h-9.81zM808.4,649.2h9.81v1.48h-9.81zM808.4,659.5h9.81v4.44h-9.81zM808.4,665.5h9.81v2.96h-9.81zM808.4,671.4h9.81v1.48h-9.81zM808.4,675.8h9.81v1.48h-9.81zM808.4,680.3h9.81v1.48h-9.81zM808.4,690.6h9.81v1.48h-9.81zM808.4,693.6h9.81v1.48h-9.81zM808.4,705.4h9.81v1.48h-9.81zM808.4,712.8h9.81v1.48h-9.81zM808.4,729.1h9.81v4.44h-9.81zM808.4,735.0h9.81v5.92h-9.81zM808.4,746.9h9.81v1.48h-9.81zM808.4,752.8h9.81v1.48h-9.81zM808.4,764.6h9.81v2.96h-9.81zM808.4,769.1h9.81v1.48h-9.81zM808.4,779.4h9.81v1.48h-9.81zM808.4,791.3h9.81v1.48h-9.81zM818.2,640.3h9.81v7.40h-9.81zM818.2,656.6h9.81v1.48h-9.81zM818.2,659.5h9.81v1.48h-9.81zM818.2,662.5h9.81v1.48h-9.81zM818.2,665.5h9.81v1.48h-9.81zM818.2,678.8h9.81v1.48h-9.81zM818.2,683.2h9.81v2.96h-9.81zM818.2,708.4h9.81v2.96h-9.81zM818.2,715.8h9.81v1.48h-9.81zM818.2,721.7h9.81v4.44h-9.81zM818.2,738.0h9.81v4.44h-9.81zM818.2,743.9h9.81v1.48h-9.81zM818.2,746.9h9.81v1.48h-9.81zM818.2,764.6h9.81v1.48h-9.81zM818.2,767.6h9.81v1.48h-9.81zM818.2,776.5h9.81v1.48h-9.81zM818.2,779.4h9.81v1.48h-9.81zM818.2,786.8h9.81v1.48h-9.81zM818.2,795.7h9.81v2.96h-9.81zM828.0,647.7h9.81v1.48h-9.81zM828.0,652.1h9.81v1.48h-9.81zM828.0,664.0h9.81v1.48h-9.81zM828.0,674.3h9.81v2.96h-9.81zM828.0,678.8h9.81v1.48h-9.81zM828.0,683.2h9.81v1.48h-9.81zM828.0,686.2h9.81v1.48h-9.81zM828.0,690.6h9.81v1.48h-9.81zM828.0,698.0h9.81v1.48h-9.81zM828.0,705.4h9.81v1.48h-9.81zM828.0,735.0h9.81v1.48h-9.81zM828.0,738.0h9.81v1.48h-9.81zM828.0,740.9h9.81v5.92h-9.81zM828.0,764.6h9.81v4.44h-9.81zM828.0,777.9h9.81v2.96h-9.81zM837.8,640.3h9.81v1.48h-9.81zM837.8,647.7h9.81v1.48h-9.81zM837.8,650.7h9.81v4.44h-9.81zM837.8,665.5h9.81v1.48h-9.81zM837.8,668.4h9.81v1.48h-9.81zM837.8,671.4h9.81v1.48h-9.81zM837.8,675.8h9.81v1.48h-9.81zM837.8,678.8h9.81v1.48h-9.81zM837.8,681.7h9.81v2.96h-9.81zM837.8,687.7h9.81v1.48h-9.81zM837.8,692.1h9.81v1.48h-9.81zM837.8,696.5h9.81v4.44h-9.81zM837.8,702.5h9.81v2.96h-9.81zM837.8,706.9h9.81v1.48h-9.81zM837.8,709.9h9.81v2.96h-9.81zM837.8,714.3h9.81v2.96h-9.81zM837.8,727.6h9.81v1.48h-9.81zM837.8,732.1h9.81v4.44h-9.81zM837.8,739.5h9.81v1.48h-9.81zM837.8,742.4h9.81v1.48h-9.81zM837.8,746.9h9.81v4.44h-9.81zM837.8,764.6h9.81v1.48h-9.81zM837.8,767.6h9.81v1.48h-9.81zM837.8,770.5h9.81v1.48h-9.81zM847.6,650.7h9.81v1.48h-9.81zM847.6,665.5h9.81v1.48h-9.81zM847.6,674.3h9.81v2.96h-9.81zM847.6,680.3h9.81v2.96h-9.81zM847.6,687.7h9.81v1.48h-9.81zM847.6,690.6h9.81v1.48h-9.81zM847.6,699.5h9.81v1.48h-9.81zM847.6,703.9h9.81v2.96h-9.81zM847.6,711.3h9.81v4.44h-9.81zM847.6,721.7h9.81v1.48h-9.81zM847.6,729.1h9.81v1.48h-9.81zM847.6,733.5h9.81v2.96h-9.81zM847.6,738.0h9.81v2.96h-9.81zM847.6,742.4h9.81v1.48h-9.81zM847.6,748.3h9.81v5.92h-9.81zM847.6,757.2h9.81v1.48h-9.81zM847.6,769.1h9.81v2.96h-9.81zM847.6,776.5h9.81v1.48h-9.81zM847.6,785.3h9.81v1.48h-9.81zM847.6,791.3h9.81v1.48h-9.81zM847.6,800.1h9.81v1.48h-9.81zM857.4,641.8h9.81v2.96h-9.81zM857.4,650.7h9.81v1.48h-9.81zM857.4,656.6h9.81v1.48h-9.81zM857.4,664.0h9.81v1.48h-9.81zM857.4,668.4h9.81v2.96h-9.81zM857.4,683.2h9.81v1.48h-9.81zM857.4,699.5h9.81v1.48h-9.81zM857.4,702.5h9.81v1.48h-9.81zM857.4,706.9h9.81v1.48h-9.81zM857.4,724.7h9.81v1.48h-9.81zM857.4,729.1h9.81v2.96h-9.81zM857.4,738.0h9.81v2.96h-9.81zM857.4,743.9h9.81v1.48h-9.81zM857.4,746.9h9.81v2.96h-9.81zM857.4,751.3h9.81v2.96h-9.81zM857.4,757.2h9.81v1.48h-9.81zM857.4,760.2h9.81v1.48h-9.81zM857.4,764.6h9.81v1.48h-9.81zM857.4,767.6h9.81v2.96h-9.81zM857.4,783.9h9.81v1.48h-9.81zM867.2,641.8h9.81v2.96h-9.81zM867.2,650.7h9.81v1.48h-9.81zM867.2,653.6h9.81v1.48h-9.81zM867.2,664.0h9.81v1.48h-9.81zM867.2,668.4h9.81v1.48h-9.81zM867.2,683.2h9.81v1.48h-9.81zM867.2,686.2h9.81v1.48h-9.81zM867.2,690.6h9.81v1.48h-9.81zM867.2,698.0h9.81v1.48h-9.81zM867.2,701.0h9.81v1.48h-9.81zM867.2,709.9h9.81v1.48h-9.81zM867.2,712.8h9.81v4.44h-9.81zM867.2,721.7h9.81v1.48h-9.81zM867.2,729.1h9.81v7.40h-9.81zM867.2,738.0h9.81v2.96h-9.81zM867.2,742.4h9.81v1.48h-9.81zM867.2,745.4h9.81v1.48h-9.81zM867.2,748.3h9.81v1.48h-9.81zM867.2,751.3h9.81v1.48h-9.81zM867.2,758.7h9.81v1.48h-9.81zM867.2,764.6h9.81v1.48h-9.81zM867.2,767.6h9.81v2.96h-9.81zM867.2,779.4h9.81v1.48h-9.81zM867.2,785.3h9.81v1.48h-9.81zM867.2,794.2h9.81v4.44h-9.81zM877.0,655.1h9.81v1.48h-9.81zM877.0,658.1h9.81v1.48h-9.81zM877.0,668.4h9.81v1.48h-9.81zM877.0,671.4h9.81v2.96h-9.81zM877.0,678.8h9.81v1.48h-9.81zM877.0,683.2h9.81v2.96h-9.81zM877.0,698.0h9.81v1.48h-9.81zM877.0,701.0h9.81v1.48h-9.81zM877.0,706.9h9.81v4.44h-9.81zM877.0,715.8h9.81v1.48h-9.81zM877.0,726.1h9.81v1.48h-9.81zM877.0,729.1h9.81v2.96h-9.81zM877.0,733.5h9.81v2.96h-9.81zM877.0,739.5h9.81v1.48h-9.81zM877.0,742.4h9.81v1.48h-9.81zM877.0,745.4h9.81v4.44h-9.81zM877.0,752.8h9.81v1.48h-9.81zM877.0,767.6h9.81v2.96h-9.81zM877.0,776.5h9.81v1.48h-9.81zM877.0,786.8h9.81v1.48h-9.81zM877.0,791.3h9.81v1.48h-9.81zM886.8,640.3h9.81v2.96h-9.81zM886.8,652.1h9.81v5.92h-9.81zM886.8,666.9h9.81v7.40h-9.81zM886.8,675.8h9.81v2.96h-9.81zM886.8,681.7h9.81v2.96h-9.81zM886.8,686.2h9.81v2.96h-9.81zM886.8,696.5h9.81v2.96h-9.81zM886.8,701.0h9.81v2.96h-9.81zM886.8,705.4h9.81v1.48h-9.81zM886.8,721.7h9.81v1.48h-9.81zM886.8,730.6h9.81v2.96h-9.81zM886.8,735.0h9.81v1.48h-9.81zM886.8,740.9h9.81v4.44h-9.81zM886.8,746.9h9.81v1.48h-9.81zM886.8,751.3h9.81v1.48h-9.81zM886.8,764.6h9.81v1.48h-9.81zM886.8,782.4h9.81v1.48h-9.81zM886.8,786.8h9.81v1.48h-9.81zM896.6,646.2h9.81v2.96h-9.81zM896.6,652.1h9.81v1.48h-9.81zM896.6,668.4h9.81v1.48h-9.81zM896.6,674.3h9.81v7.40h-9.81zM896.6,683.2h9.81v1.48h-9.81zM896.6,686.2h9.81v1.48h-9.81zM896.6,696.5h9.81v10.36h-9.81zM896.6,708.4h9.81v2.96h-9.81zM896.6,712.8h9.81v4.44h-9.81zM896.6,720.2h9.81v4.44h-9.81zM896.6,730.6h9.81v1.48h-9.81zM896.6,735.0h9.81v5.92h-9.81zM896.6,743.9h9.81v8.88h-9.81zM896.6,766.1h9.81v5.92h-9.81zM896.6,791.3h9.81v1.48h-9.81zM906.5,647.7h9.81v1.48h-9.81zM906.5,653.6h9.81v1.48h-9.81zM906.5,666.9h9.81v2.96h-9.81zM906.5,674.3h9.81v1.48h-9.81zM906.5,677.3h9.81v1.48h-9.81zM906.5,683.2h9.81v1.48h-9.81zM906.5,687.7h9.81v1.48h-9.81zM906.5,692.1h9.81v1.48h-9.81zM906.5,698.0h9.81v1.48h-9.81zM906.5,706.9h9.81v1.48h-9.81zM906.5,712.8h9.81v4.44h-9.81zM906.5,720.2h9.81v1.48h-9.81zM906.5,732.1h9.81v4.44h-9.81zM906.5,738.0h9.81v1.48h-9.81zM906.5,743.9h9.81v1.48h-9.81zM906.5,746.9h9.81v1.48h-9.81zM906.5,752.8h9.81v1.48h-9.81zM906.5,764.6h9.81v4.44h-9.81zM906.5,770.5h9.81v1.48h-9.81zM916.3,655.1h9.81v1.48h-9.81zM916.3,669.9h9.81v1.48h-9.81zM916.3,672.9h9.81v4.44h-9.81zM916.3,678.8h9.81v1.48h-9.81zM916.3,683.2h9.81v1.48h-9.81zM916.3,692.1h9.81v1.48h-9.81zM916.3,695.1h9.81v1.48h-9.81zM916.3,708.4h9.81v4.44h-9.81zM916.3,715.8h9.81v1.48h-9.81zM916.3,724.7h9.81v1.48h-9.81zM916.3,733.5h9.81v1.48h-9.81zM916.3,740.9h9.81v5.92h-9.81zM916.3,748.3h9.81v1.48h-9.81zM916.3,752.8h9.81v1.48h-9.81zM916.3,770.5h9.81v1.48h-9.81zM926.1,652.1h9.81v1.48h-9.81zM926.1,659.5h9.81v1.48h-9.81zM926.1,662.5h9.81v2.96h-9.81zM926.1,668.4h9.81v1.48h-9.81zM926.1,672.9h9.81v1.48h-9.81zM926.1,675.8h9.81v1.48h-9.81zM926.1,687.7h9.81v1.48h-9.81zM926.1,702.5h9.81v1.48h-9.81zM926.1,709.9h9.81v2.96h-9.81zM926.1,714.3h9.81v1.48h-9.81zM926.1,721.7h9.81v1.48h-9.81zM926.1,736.5h9.81v10.36h-9.81zM926.1,749.8h9.81v1.48h-9.81zM926.1,764.6h9.81v1.48h-9.81zM926.1,767.6h9.81v1.48h-9.81zM926.1,776.5h9.81v1.48h-9.81zM935.9,647.7h9.81v1.48h-9.81zM935.9,659.5h9.81v1.48h-9.81zM935.9,662.5h9.81v2.96h-9.81zM935.9,671.4h9.81v11.84h-9.81zM935.9,684.7h9.81v4.44h-9.81zM935.9,692.1h9.81v1.48h-9.81zM935.9,696.5h9.81v1.48h-9.81zM935.9,699.5h9.81v2.96h-9.81zM935.9,703.9h9.81v2.96h-9.81zM935.9,708.4h9.81v5.92h-9.81zM935.9,720.2h9.81v1.48h-9.81zM935.9,726.1h9.81v1.48h-9.81zM935.9,729.1h9.81v1.48h-9.81zM935.9,733.5h9.81v1.48h-9.81zM935.9,738.0h9.81v5.92h-9.81zM935.9,745.4h9.81v2.96h-9.81zM935.9,749.8h9.81v4.44h-9.81zM935.9,766.1h9.81v1.48h-9.81zM935.9,786.8h9.81v1.48h-9.81zM945.7,652.1h9.81v2.96h-9.81zM945.7,661.0h9.81v1.48h-9.81zM945.7,666.9h9.81v1.48h-9.81zM945.7,669.9h9.81v2.96h-9.81zM945.7,678.8h9.81v1.48h-9.81zM945.7,683.2h9.81v1.48h-9.81zM945.7,687.7h9.81v1.48h-9.81zM945.7,693.6h9.81v2.96h-9.81zM945.7,698.0h9.81v1.48h-9.81zM945.7,701.0h9.81v7.40h-9.81zM945.7,709.9h9.81v7.40h-9.81zM945.7,726.1h9.81v1.48h-9.81zM945.7,729.1h9.81v2.96h-9.81zM945.7,733.5h9.81v4.44h-9.81zM945.7,739.5h9.81v5.92h-9.81zM945.7,746.9h9.81v1.48h-9.81zM945.7,751.3h9.81v2.96h-9.81zM945.7,764.6h9.81v2.96h-9.81zM945.7,779.4h9.81v1.48h-9.81zM945.7,786.8h9.81v1.48h-9.81zM955.5,641.8h9.81v2.96h-9.81zM955.5,649.2h9.81v5.92h-9.81zM955.5,658.1h9.81v1.48h-9.81zM955.5,665.5h9.81v1.48h-9.81zM955.5,675.8h9.81v1.48h-9.81zM955.5,678.8h9.81v1.48h-9.81zM955.5,683.2h9.81v2.96h-9.81zM955.5,687.7h9.81v1.48h-9.81zM955.5,690.6h9.81v1.48h-9.81zM955.5,693.6h9.81v1.48h-9.81zM955.5,698.0h9.81v4.44h-9.81zM955.5,705.4h9.81v2.96h-9.81zM955.5,712.8h9.81v1.48h-9.81zM955.5,715.8h9.81v1.48h-9.81zM955.5,720.2h9.81v2.96h-9.81zM955.5,729.1h9.81v1.48h-9.81zM955.5,738.0h9.81v1.48h-9.81zM955.5,740.9h9.81v1.48h-9.81zM955.5,743.9h9.81v1.48h-9.81zM955.5,751.3h9.81v1.48h-9.81zM955.5,766.1h9.81v1.48h-9.81zM955.5,769.1h9.81v2.96h-9.81zM955.5,776.5h9.81v1.48h-9.81zM965.3,653.6h9.81v1.48h-9.81zM965.3,666.9h9.81v2.96h-9.81zM965.3,672.9h9.81v1.48h-9.81zM965.3,678.8h9.81v2.96h-9.81zM965.3,683.2h9.81v1.48h-9.81zM965.3,687.7h9.81v1.48h-9.81zM965.3,690.6h9.81v1.48h-9.81zM965.3,699.5h9.81v2.96h-9.81zM965.3,703.9h9.81v2.96h-9.81zM965.3,711.3h9.81v2.96h-9.81zM965.3,715.8h9.81v1.48h-9.81zM965.3,720.2h9.81v1.48h-9.81zM965.3,724.7h9.81v1.48h-9.81zM965.3,729.1h9.81v2.96h-9.81zM965.3,733.5h9.81v1.48h-9.81zM965.3,738.0h9.81v1.48h-9.81zM965.3,740.9h9.81v1.48h-9.81zM965.3,743.9h9.81v4.44h-9.81zM965.3,764.6h9.81v2.96h-9.81zM975.1,655.1h9.81v1.48h-9.81zM975.1,659.5h9.81v1.48h-9.81zM975.1,665.5h9.81v1.48h-9.81zM975.1,669.9h9.81v2.96h-9.81zM975.1,675.8h9.81v1.48h-9.81zM975.1,678.8h9.81v1.48h-9.81zM975.1,683.2h9.81v1.48h-9.81zM975.1,690.6h9.81v2.96h-9.81zM975.1,695.1h9.81v1.48h-9.81zM975.1,698.0h9.81v1.48h-9.81zM975.1,702.5h9.81v1.48h-9.81zM975.1,705.4h9.81v2.96h-9.81zM975.1,715.8h9.81v1.48h-9.81zM975.1,721.7h9.81v1.48h-9.81zM975.1,726.1h9.81v1.48h-9.81zM975.1,729.1h9.81v1.48h-9.81zM975.1,732.1h9.81v1.48h-9.81zM975.1,735.0h9.81v4.44h-9.81zM975.1,740.9h9.81v1.48h-9.81zM975.1,743.9h9.81v2.96h-9.81zM975.1,749.8h9.81v1.48h-9.81zM975.1,752.8h9.81v1.48h-9.81zM975.1,764.6h9.81v2.96h-9.81zM984.9,644.7h9.81v1.48h-9.81zM984.9,656.6h9.81v1.48h-9.81zM984.9,662.5h9.81v1.48h-9.81zM984.9,666.9h9.81v1.48h-9.81zM984.9,669.9h9.81v1.48h-9.81zM984.9,675.8h9.81v2.96h-9.81zM984.9,680.3h9.81v1.48h-9.81zM984.9,683.2h9.81v1.48h-9.81zM984.9,690.6h9.81v4.44h-9.81zM984.9,696.5h9.81v1.48h-9.81zM984.9,699.5h9.81v1.48h-9.81zM984.9,703.9h9.81v1.48h-9.81zM984.9,711.3h9.81v2.96h-9.81zM984.9,720.2h9.81v2.96h-9.81zM984.9,736.5h9.81v2.96h-9.81zM984.9,740.9h9.81v1.48h-9.81zM984.9,745.4h9.81v1.48h-9.81zM984.9,751.3h9.81v2.96h-9.81zM984.9,764.6h9.81v1.48h-9.81zM994.8,652.1h9.81v1.48h-9.81zM994.8,656.6h9.81v1.48h-9.81zM994.8,662.5h9.81v2.96h-9.81zM994.8,671.4h9.81v2.96h-9.81zM994.8,678.8h9.81v1.48h-9.81zM994.8,690.6h9.81v1.48h-9.81zM994.8,693.6h9.81v1.48h-9.81zM994.8,698.0h9.81v1.48h-9.81zM994.8,701.0h9.81v1.48h-9.81zM994.8,703.9h9.81v4.44h-9.81zM994.8,711.3h9.81v1.48h-9.81zM994.8,721.7h9.81v1.48h-9.81zM994.8,726.1h9.81v1.48h-9.81zM994.8,732.1h9.81v1.48h-9.81zM994.8,735.0h9.81v1.48h-9.81zM994.8,740.9h9.81v1.48h-9.81zM994.8,745.4h9.81v1.48h-9.81zM994.8,748.3h9.81v1.48h-9.81zM994.8,751.3h9.81v2.96h-9.81zM994.8,764.6h9.81v1.48h-9.81zM994.8,767.6h9.81v4.44h-9.81zM1004.6,641.8h9.81v1.48h-9.81zM1004.6,646.2h9.81v1.48h-9.81zM1004.6,665.5h9.81v1.48h-9.81zM1004.6,677.3h9.81v1.48h-9.81zM1004.6,681.7h9.81v1.48h-9.81zM1004.6,695.1h9.81v2.96h-9.81zM1004.6,703.9h9.81v4.44h-9.81zM1004.6,709.9h9.81v2.96h-9.81zM1004.6,715.8h9.81v1.48h-9.81zM1004.6,721.7h9.81v1.48h-9.81zM1004.6,726.1h9.81v1.48h-9.81zM1004.6,729.1h9.81v1.48h-9.81zM1004.6,735.0h9.81v1.48h-9.81zM1004.6,738.0h9.81v1.48h-9.81zM1004.6,743.9h9.81v4.44h-9.81zM1004.6,766.1h9.81v4.44h-9.81zM1014.4,640.3h9.81v1.48h-9.81zM1014.4,646.2h9.81v1.48h-9.81zM1014.4,652.1h9.81v4.44h-9.81zM1014.4,658.1h9.81v1.48h-9.81zM1014.4,664.0h9.81v1.48h-9.81zM1014.4,668.4h9.81v1.48h-9.81zM1014.4,671.4h9.81v1.48h-9.81zM1014.4,678.8h9.81v2.96h-9.81zM1014.4,684.7h9.81v4.44h-9.81zM1014.4,690.6h9.81v1.48h-9.81zM1014.4,693.6h9.81v1.48h-9.81zM1014.4,696.5h9.81v1.48h-9.81zM1014.4,709.9h9.81v1.48h-9.81zM1014.4,714.3h9.81v1.48h-9.81zM1014.4,721.7h9.81v1.48h-9.81zM1014.4,726.1h9.81v1.48h-9.81zM1014.4,738.0h9.81v2.96h-9.81zM1014.4,749.8h9.81v1.48h-9.81zM1024.2,643.3h9.81v1.48h-9.81zM1024.2,649.2h9.81v2.96h-9.81zM1024.2,655.1h9.81v4.44h-9.81zM1024.2,664.0h9.81v1.48h-9.81zM1024.2,668.4h9.81v4.44h-9.81zM1024.2,675.8h9.81v1.48h-9.81zM1024.2,681.7h9.81v4.44h-9.81zM1024.2,687.7h9.81v2.96h-9.81zM1024.2,692.1h9.81v1.48h-9.81zM1024.2,699.5h9.81v1.48h-9.81zM1024.2,705.4h9.81v2.96h-9.81zM1024.2,709.9h9.81v1.48h-9.81zM1024.2,712.8h9.81v1.48h-9.81zM1024.2,715.8h9.81v1.48h-9.81zM1024.2,720.2h9.81v1.48h-9.81zM1024.2,736.5h9.81v1.48h-9.81zM1024.2,745.4h9.81v4.44h-9.81zM1024.2,751.3h9.81v1.48h-9.81zM1024.2,766.1h9.81v2.96h-9.81zM1034.0,640.3h9.81v2.96h-9.81zM1034.0,646.2h9.81v2.96h-9.81zM1034.0,650.7h9.81v2.96h-9.81zM1034.0,659.5h9.81v1.48h-9.81zM1034.0,664.0h9.81v1.48h-9.81zM1034.0,666.9h9.81v1.48h-9.81zM1034.0,669.9h9.81v1.48h-9.81zM1034.0,674.3h9.81v2.96h-9.81zM1034.0,678.8h9.81v1.48h-9.81zM1034.0,681.7h9.81v1.48h-9.81zM1034.0,686.2h9.81v14.80h-9.81zM1034.0,703.9h9.81v1.48h-9.81zM1034.0,706.9h9.81v2.96h-9.81zM1034.0,711.3h9.81v1.48h-9.81zM1034.0,720.2h9.81v2.96h-9.81zM1034.0,735.0h9.81v4.44h-9.81zM1034.0,745.4h9.81v1.48h-9.81zM1034.0,749.8h9.81v2.96h-9.81z" fill="#1c0000"/>
<path d="M651.4,646.2h9.81v1.48h-9.81zM651.4,656.6h9.81v1.48h-9.81zM651.4,666.9h9.81v1.48h-9.81zM651.4,675.8h9.81v1.48h-9.81zM651.4,681.7h9.81v1.48h-9.81zM651.4,717.3h9.81v1.48h-9.81zM651.4,724.7h9.81v1.48h-9.81zM651.4,730.6h9.81v1.48h-9.81zM651.4,739.5h9.81v1.48h-9.81zM651.4,742.4h9.81v2.96h-9.81zM651.4,751.3h9.81v1.48h-9.81zM651.4,754.3h9.81v1.48h-9.81zM651.4,758.7h9.81v1.48h-9.81zM651.4,761.7h9.81v2.96h-9.81zM651.4,767.6h9.81v1.48h-9.81zM651.4,783.9h9.81v1.48h-9.81zM651.4,786.8h9.81v1.48h-9.81zM651.4,794.2h9.81v1.48h-9.81zM651.4,800.1h9.81v1.48h-9.81zM661.2,641.8h9.81v1.48h-9.81zM661.2,646.2h9.81v2.96h-9.81zM661.2,650.7h9.81v1.48h-9.81zM661.2,668.4h9.81v1.48h-9.81zM661.2,674.3h9.81v1.48h-9.81zM661.2,680.3h9.81v1.48h-9.81zM661.2,686.2h9.81v1.48h-9.81zM661.2,698.0h9.81v1.48h-9.81zM661.2,701.0h9.81v1.48h-9.81zM661.2,709.9h9.81v1.48h-9.81zM661.2,712.8h9.81v1.48h-9.81zM661.2,723.2h9.81v1.48h-9.81zM661.2,727.6h9.81v1.48h-9.81zM661.2,749.8h9.81v1.48h-9.81zM661.2,752.8h9.81v1.48h-9.81zM661.2,782.4h9.81v1.48h-9.81zM661.2,794.2h9.81v1.48h-9.81zM661.2,798.7h9.81v1.48h-9.81zM671.0,644.7h9.81v4.44h-9.81zM671.0,658.1h9.81v1.48h-9.81zM671.0,677.3h9.81v1.48h-9.81zM671.0,693.6h9.81v1.48h-9.81zM671.0,714.3h9.81v1.48h-9.81zM671.0,718.7h9.81v1.48h-9.81zM671.0,733.5h9.81v1.48h-9.81zM671.0,745.4h9.81v1.48h-9.81zM671.0,749.8h9.81v1.48h-9.81zM671.0,755.7h9.81v1.48h-9.81zM671.0,758.7h9.81v1.48h-9.81zM671.0,769.1h9.81v4.44h-9.81zM671.0,789.8h9.81v1.48h-9.81zM671.0,795.7h9.81v1.48h-9.81zM671.0,798.7h9.81v1.48h-9.81zM680.8,641.8h9.81v1.48h-9.81zM680.8,647.7h9.81v1.48h-9.81zM680.8,650.7h9.81v5.92h-9.81zM680.8,666.9h9.81v1.48h-9.81zM680.8,677.3h9.81v1.48h-9.81zM680.8,686.2h9.81v1.48h-9.81zM680.8,689.1h9.81v1.48h-9.81zM680.8,724.7h9.81v1.48h-9.81zM680.8,727.6h9.81v2.96h-9.81zM680.8,757.2h9.81v4.44h-9.81zM680.8,769.1h9.81v1.48h-9.81zM680.8,772.0h9.81v1.48h-9.81zM680.8,775.0h9.81v1.48h-9.81zM680.8,777.9h9.81v1.48h-9.81zM680.8,782.4h9.81v1.48h-9.81zM680.8,786.8h9.81v1.48h-9.81zM680.8,794.2h9.81v1.48h-9.81zM680.8,798.7h9.81v1.48h-9.81zM690.6,646.2h9.81v2.96h-9.81zM690.6,655.1h9.81v1.48h-9.81zM690.6,661.0h9.81v1.48h-9.81zM690.6,674.3h9.81v1.48h-9.81zM690.6,695.1h9.81v1.48h-9.81zM690.6,701.0h9.81v1.48h-9.81zM690.6,712.8h9.81v2.96h-9.81zM690.6,724.7h9.81v1.48h-9.81zM690.6,730.6h9.81v1.48h-9.81zM690.6,733.5h9.81v1.48h-9.81zM690.6,739.5h9.81v1.48h-9.81zM690.6,757.2h9.81v1.48h-9.81zM690.6,761.7h9.81v1.48h-9.81zM690.6,769.1h9.81v1.48h-9.81zM690.6,773.5h9.81v1.48h-9.81zM690.6,776.5h9.81v1.48h-9.81zM690.6,791.3h9.81v4.44h-9.81zM690.6,798.7h9.81v1.48h-9.81zM700.4,640.3h9.81v4.44h-9.81zM700.4,649.2h9.81v1.48h-9.81zM700.4,653.6h9.81v1.48h-9.81zM700.4,668.4h9.81v1.48h-9.81zM700.4,675.8h9.81v1.48h-9.81zM700.4,702.5h9.81v1.48h-9.81zM700.4,712.8h9.81v2.96h-9.81zM700.4,723.2h9.81v1.48h-9.81zM700.4,727.6h9.81v5.92h-9.81zM700.4,735.0h9.81v1.48h-9.81zM700.4,752.8h9.81v2.96h-9.81zM700.4,757.2h9.81v2.96h-9.81zM700.4,763.1h9.81v1.48h-9.81zM700.4,772.0h9.81v4.44h-9.81zM700.4,780.9h9.81v1.48h-9.81zM700.4,785.3h9.81v2.96h-9.81zM700.4,791.3h9.81v1.48h-9.81zM700.4,795.7h9.81v1.48h-9.81zM710.3,650.7h9.81v1.48h-9.81zM710.3,674.3h9.81v1.48h-9.81zM710.3,686.2h9.81v1.48h-9.81zM710.3,695.1h9.81v1.48h-9.81zM710.3,698.0h9.81v1.48h-9.81zM710.3,715.8h9.81v1.48h-9.81zM710.3,721.7h9.81v1.48h-9.81zM710.3,729.1h9.81v1.48h-9.81zM710.3,732.1h9.81v1.48h-9.81zM710.3,735.0h9.81v1.48h-9.81zM710.3,738.0h9.81v2.96h-9.81zM710.3,746.9h9.81v1.48h-9.81zM710.3,749.8h9.81v1.48h-9.81zM710.3,754.3h9.81v2.96h-9.81zM710.3,761.7h9.81v2.96h-9.81zM710.3,766.1h9.81v1.48h-9.81zM710.3,772.0h9.81v1.48h-9.81zM710.3,782.4h9.81v1.48h-9.81zM710.3,795.7h9.81v1.48h-9.81zM710.3,798.7h9.81v1.48h-9.81zM720.1,641.8h9.81v1.48h-9.81zM720.1,644.7h9.81v1.48h-9.81zM720.1,652.1h9.81v1.48h-9.81zM720.1,662.5h9.81v1.48h-9.81zM720.1,683.2h9.81v2.96h-9.81zM720.1,687.7h9.81v1.48h-9.81zM720.1,703.9h9.81v1.48h-9.81zM720.1,723.2h9.81v2.96h-9.81zM720.1,727.6h9.81v1.48h-9.81zM720.1,740.9h9.81v2.96h-9.81zM720.1,749.8h9.81v1.48h-9.81zM720.1,754.3h9.81v1.48h-9.81zM720.1,757.2h9.81v2.96h-9.81zM720.1,763.1h9.81v2.96h-9.81zM720.1,780.9h9.81v8.88h-9.81zM720.1,791.3h9.81v1.48h-9.81zM720.1,800.1h9.81v2.96h-9.81zM729.9,655.1h9.81v1.48h-9.81zM729.9,658.1h9.81v2.96h-9.81zM729.9,668.4h9.81v1.48h-9.81zM729.9,671.4h9.81v1.48h-9.81zM729.9,675.8h9.81v1.48h-9.81zM729.9,689.1h9.81v1.48h-9.81zM729.9,696.5h9.81v1.48h-9.81zM729.9,701.0h9.81v5.92h-9.81zM729.9,711.3h9.81v1.48h-9.81zM729.9,726.1h9.81v1.48h-9.81zM729.9,730.6h9.81v1.48h-9.81zM729.9,735.0h9.81v2.96h-9.81zM729.9,739.5h9.81v2.96h-9.81zM729.9,746.9h9.81v1.48h-9.81zM729.9,749.8h9.81v1.48h-9.81zM729.9,752.8h9.81v1.48h-9.81zM729.9,757.2h9.81v1.48h-9.81zM729.9,777.9h9.81v1.48h-9.81zM729.9,782.4h9.81v1.48h-9.81zM729.9,785.3h9.81v1.48h-9.81zM729.9,791.3h9.81v1.48h-9.81zM729.9,794.2h9.81v1.48h-9.81zM729.9,797.2h9.81v1.48h-9.81zM739.7,647.7h9.81v1.48h-9.81zM739.7,650.7h9.81v1.48h-9.81zM739.7,655.1h9.81v1.48h-9.81zM739.7,659.5h9.81v1.48h-9.81zM739.7,666.9h9.81v1.48h-9.81zM739.7,678.8h9.81v1.48h-9.81zM739.7,681.7h9.81v2.96h-9.81zM739.7,695.1h9.81v1.48h-9.81zM739.7,701.0h9.81v1.48h-9.81zM739.7,705.4h9.81v1.48h-9.81zM739.7,708.4h9.81v1.48h-9.81zM739.7,715.8h9.81v1.48h-9.81zM739.7,720.2h9.81v1.48h-9.81zM739.7,723.2h9.81v2.96h-9.81zM739.7,730.6h9.81v1.48h-9.81zM739.7,742.4h9.81v1.48h-9.81zM739.7,746.9h9.81v4.44h-9.81zM739.7,752.8h9.81v1.48h-9.81zM739.7,764.6h9.81v1.48h-9.81zM739.7,776.5h9.81v1.48h-9.81zM739.7,789.8h9.81v1.48h-9.81zM739.7,794.2h9.81v1.48h-9.81zM739.7,797.2h9.81v1.48h-9.81zM739.7,801.6h9.81v1.48h-9.81zM749.5,644.7h9.81v1.48h-9.81zM749.5,647.7h9.81v1.48h-9.81zM749.5,650.7h9.81v1.48h-9.81zM749.5,671.4h9.81v1.48h-9.81zM749.5,675.8h9.81v7.40h-9.81zM749.5,693.6h9.81v4.44h-9.81zM749.5,699.5h9.81v2.96h-9.81zM749.5,703.9h9.81v2.96h-9.81zM749.5,711.3h9.81v1.48h-9.81zM749.5,714.3h9.81v1.48h-9.81zM749.5,723.2h9.81v2.96h-9.81zM749.5,730.6h9.81v1.48h-9.81zM749.5,740.9h9.81v1.48h-9.81zM749.5,752.8h9.81v1.48h-9.81zM749.5,764.6h9.81v1.48h-9.81zM749.5,769.1h9.81v2.96h-9.81zM749.5,776.5h9.81v4.44h-9.81zM749.5,785.3h9.81v2.96h-9.81zM749.5,791.3h9.81v2.96h-9.81zM749.5,797.2h9.81v1.48h-9.81zM759.3,640.3h9.81v1.48h-9.81zM759.3,649.2h9.81v1.48h-9.81zM759.3,653.6h9.81v2.96h-9.81zM759.3,658.1h9.81v1.48h-9.81zM759.3,669.9h9.81v1.48h-9.81zM759.3,674.3h9.81v2.96h-9.81zM759.3,680.3h9.81v4.44h-9.81zM759.3,690.6h9.81v8.88h-9.81zM759.3,703.9h9.81v1.48h-9.81zM759.3,708.4h9.81v1.48h-9.81zM759.3,730.6h9.81v2.96h-9.81zM759.3,735.0h9.81v1.48h-9.81zM759.3,739.5h9.81v2.96h-9.81zM759.3,743.9h9.81v1.48h-9.81zM759.3,746.9h9.81v2.96h-9.81zM759.3,752.8h9.81v1.48h-9.81zM759.3,764.6h9.81v1.48h-9.81zM759.3,769.1h9.81v2.96h-9.81zM759.3,785.3h9.81v2.96h-9.81zM759.3,791.3h9.81v2.96h-9.81zM769.1,641.8h9.81v1.48h-9.81zM769.1,656.6h9.81v1.48h-9.81zM769.1,664.0h9.81v5.92h-9.81zM769.1,672.9h9.81v1.48h-9.81zM769.1,675.8h9.81v1.48h-9.81zM769.1,680.3h9.81v1.48h-9.81zM769.1,689.1h9.81v1.48h-9.81zM769.1,692.1h9.81v1.48h-9.81zM769.1,708.4h9.81v1.48h-9.81zM769.1,711.3h9.81v1.48h-9.81zM778.9,641.8h9.81v4.44h-9.81zM778.9,647.7h9.81v1.48h-9.81zM778.9,661.0h9.81v1.48h-9.81zM778.9,672.9h9.81v2.96h-9.81zM778.9,687.7h9.81v1.48h-9.81zM778.9,708.4h9.81v1.48h-9.81zM778.9,720.2h9.81v1.48h-9.81zM778.9,757.2h9.81v1.48h-9.81zM788.7,647.7h9.81v1.48h-9.81zM788.7,656.6h9.81v1.48h-9.81zM788.7,665.5h9.81v1.48h-9.81zM788.7,669.9h9.81v1.48h-9.81zM788.7,674.3h9.81v1.48h-9.81zM788.7,677.3h9.81v2.96h-9.81zM788.7,686.2h9.81v1.48h-9.81zM788.7,699.5h9.81v1.48h-9.81zM788.7,705.4h9.81v2.96h-9.81zM788.7,726.1h9.81v1.48h-9.81zM788.7,736.5h9.81v1.48h-9.81zM798.5,655.1h9.81v2.96h-9.81zM798.5,662.5h9.81v1.48h-9.81zM798.5,669.9h9.81v2.96h-9.81zM798.5,680.3h9.81v1.48h-9.81zM798.5,686.2h9.81v4.44h-9.81zM798.5,692.1h9.81v1.48h-9.81zM798.5,705.4h9.81v1.48h-9.81zM798.5,711.3h9.81v2.96h-9.81zM798.5,726.1h9.81v1.48h-9.81zM808.4,647.7h9.81v1.48h-9.81zM808.4,650.7h9.81v1.48h-9.81zM808.4,655.1h9.81v1.48h-9.81zM808.4,658.1h9.81v1.48h-9.81zM808.4,668.4h9.81v2.96h-9.81zM808.4,674.3h9.81v1.48h-9.81zM808.4,687.7h9.81v2.96h-9.81zM808.4,692.1h9.81v1.48h-9.81zM808.4,696.5h9.81v2.96h-9.81zM808.4,706.9h9.81v1.48h-9.81zM808.4,714.3h9.81v1.48h-9.81zM808.4,721.7h9.81v1.48h-9.81zM808.4,786.8h9.81v1.48h-9.81zM818.2,649.2h9.81v1.48h-9.81zM818.2,652.1h9.81v1.48h-9.81zM818.2,661.0h9.81v1.48h-9.81zM818.2,666.9h9.81v1.48h-9.81zM818.2,674.3h9.81v1.48h-9.81zM818.2,680.3h9.81v1.48h-9.81zM818.2,693.6h9.81v1.48h-9.81zM818.2,699.5h9.81v1.48h-9.81zM818.2,711.3h9.81v1.48h-9.81zM818.2,789.8h9.81v1.48h-9.81zM828.0,640.3h9.81v1.48h-9.81zM828.0,644.7h9.81v1.48h-9.81zM828.0,656.6h9.81v1.48h-9.81zM828.0,661.0h9.81v1.48h-9.81zM828.0,665.5h9.81v1.48h-9.81zM828.0,668.4h9.81v2.96h-9.81zM828.0,681.7h9.81v1.48h-9.81zM828.0,684.7h9.81v1.48h-9.81zM828.0,687.7h9.81v1.48h-9.81zM828.0,692.1h9.81v1.48h-9.81zM828.0,695.1h9.81v1.48h-9.81zM828.0,712.8h9.81v2.96h-9.81zM828.0,720.2h9.81v2.96h-9.81zM828.0,733.5h9.81v1.48h-9.81zM828.0,736.5h9.81v1.48h-9.81zM828.0,746.9h9.81v1.48h-9.81zM837.8,641.8h9.81v1.48h-9.81zM837.8,664.0h9.81v1.48h-9.81zM837.8,666.9h9.81v1.48h-9.81zM837.8,684.7h9.81v1.48h-9.81zM837.8,690.6h9.81v1.48h-9.81zM837.8,705.4h9.81v1.48h-9.81zM837.8,712.8h9.81v1.48h-9.81zM837.8,736.5h9.81v2.96h-9.81zM847.6,643.3h9.81v4.44h-9.81zM847.6,649.2h9.81v1.48h-9.81zM847.6,655.1h9.81v1.48h-9.81zM847.6,659.5h9.81v2.96h-9.81zM847.6,669.9h9.81v1.48h-9.81zM847.6,672.9h9.81v1.48h-9.81zM847.6,678.8h9.81v1.48h-9.81zM847.6,684.7h9.81v1.48h-9.81zM847.6,689.1h9.81v1.48h-9.81zM847.6,693.6h9.81v1.48h-9.81zM847.6,696.5h9.81v1.48h-9.81zM847.6,709.9h9.81v1.48h-9.81zM847.6,720.2h9.81v1.48h-9.81zM847.6,736.5h9.81v1.48h-9.81zM847.6,745.4h9.81v1.48h-9.81zM857.4,640.3h9.81v1.48h-9.81zM857.4,665.5h9.81v2.96h-9.81zM857.4,675.8h9.81v5.92h-9.81zM857.4,684.7h9.81v1.48h-9.81zM857.4,696.5h9.81v1.48h-9.81zM857.4,705.4h9.81v1.48h-9.81zM857.4,709.9h9.81v1.48h-9.81zM857.4,712.8h9.81v2.96h-9.81zM857.4,720.2h9.81v2.96h-9.81zM857.4,726.1h9.81v1.48h-9.81zM867.2,649.2h9.81v1.48h-9.81zM867.2,652.1h9.81v1.48h-9.81zM867.2,671.4h9.81v1.48h-9.81zM867.2,678.8h9.81v1.48h-9.81zM867.2,684.7h9.81v1.48h-9.81zM867.2,693.6h9.81v1.48h-9.81zM867.2,736.5h9.81v1.48h-9.81zM867.2,766.1h9.81v1.48h-9.81zM877.0,644.7h9.81v1.48h-9.81zM877.0,647.7h9.81v1.48h-9.81zM877.0,652.1h9.81v1.48h-9.81zM877.0,677.3h9.81v1.48h-9.81zM877.0,680.3h9.81v1.48h-9.81zM877.0,686.2h9.81v1.48h-9.81zM877.0,693.6h9.81v1.48h-9.81zM877.0,696.5h9.81v1.48h-9.81zM877.0,705.4h9.81v1.48h-9.81zM877.0,711.3h9.81v4.44h-9.81zM877.0,720.2h9.81v2.96h-9.81zM877.0,736.5h9.81v1.48h-9.81zM877.0,749.8h9.81v1.48h-9.81zM886.8,643.3h9.81v1.48h-9.81zM886.8,647.7h9.81v1.48h-9.81zM886.8,664.0h9.81v1.48h-9.81zM886.8,684.7h9.81v1.48h-9.81zM886.8,689.1h9.81v1.48h-9.81zM886.8,695.1h9.81v1.48h-9.81zM886.8,709.9h9.81v2.96h-9.81zM886.8,736.5h9.81v2.96h-9.81zM896.6,650.7h9.81v1.48h-9.81zM896.6,655.1h9.81v1.48h-9.81zM896.6,661.0h9.81v1.48h-9.81zM896.6,665.5h9.81v1.48h-9.81zM896.6,671.4h9.81v1.48h-9.81zM896.6,687.7h9.81v1.48h-9.81zM896.6,690.6h9.81v1.48h-9.81zM896.6,695.1h9.81v1.48h-9.81zM896.6,726.1h9.81v1.48h-9.81zM896.6,742.4h9.81v1.48h-9.81zM906.5,641.8h9.81v1.48h-9.81zM906.5,646.2h9.81v1.48h-9.81zM906.5,650.7h9.81v2.96h-9.81zM906.5,665.5h9.81v1.48h-9.81zM906.5,669.9h9.81v2.96h-9.81zM906.5,680.3h9.81v1.48h-9.81zM906.5,684.7h9.81v1.48h-9.81zM906.5,695.1h9.81v1.48h-9.81zM906.5,699.5h9.81v1.48h-9.81zM906.5,703.9h9.81v1.48h-9.81zM906.5,711.3h9.81v1.48h-9.81zM906.5,736.5h9.81v1.48h-9.81zM916.3,640.3h9.81v1.48h-9.81zM916.3,652.1h9.81v1.48h-9.81zM916.3,680.3h9.81v1.48h-9.81zM916.3,684.7h9.81v1.48h-9.81zM916.3,687.7h9.81v1.48h-9.81zM916.3,705.4h9.81v1.48h-9.81zM916.3,714.3h9.81v1.48h-9.81zM916.3,720.2h9.81v1.48h-9.81zM916.3,736.5h9.81v1.48h-9.81zM916.3,773.5h9.81v1.48h-9.81zM926.1,646.2h9.81v2.96h-9.81zM926.1,665.5h9.81v1.48h-9.81zM926.1,671.4h9.81v1.48h-9.81zM926.1,674.3h9.81v1.48h-9.81zM926.1,680.3h9.81v2.96h-9.81zM926.1,695.1h9.81v2.96h-9.81zM926.1,705.4h9.81v1.48h-9.81zM926.1,708.4h9.81v1.48h-9.81zM926.1,712.8h9.81v1.48h-9.81zM926.1,726.1h9.81v1.48h-9.81zM935.9,641.8h9.81v1.48h-9.81zM935.9,652.1h9.81v1.48h-9.81zM935.9,655.1h9.81v2.96h-9.81zM935.9,661.0h9.81v1.48h-9.81zM935.9,668.4h9.81v1.48h-9.81zM935.9,690.6h9.81v1.48h-9.81zM935.9,693.6h9.81v2.96h-9.81zM935.9,698.0h9.81v1.48h-9.81zM935.9,706.9h9.81v1.48h-9.81zM935.9,736.5h9.81v1.48h-9.81zM945.7,646.2h9.81v1.48h-9.81zM945.7,656.6h9.81v1.48h-9.81zM945.7,659.5h9.81v1.48h-9.81zM945.7,662.5h9.81v1.48h-9.81zM945.7,680.3h9.81v1.48h-9.81zM945.7,684.7h9.81v2.96h-9.81zM945.7,692.1h9.81v1.48h-9.81zM945.7,696.5h9.81v1.48h-9.81zM945.7,708.4h9.81v1.48h-9.81zM945.7,745.4h9.81v1.48h-9.81zM945.7,782.4h9.81v1.48h-9.81zM955.5,646.2h9.81v1.48h-9.81zM955.5,656.6h9.81v1.48h-9.81zM955.5,668.4h9.81v1.48h-9.81zM955.5,671.4h9.81v2.96h-9.81zM955.5,680.3h9.81v2.96h-9.81zM955.5,686.2h9.81v1.48h-9.81zM955.5,689.1h9.81v1.48h-9.81zM955.5,692.1h9.81v1.48h-9.81zM955.5,695.1h9.81v1.48h-9.81zM955.5,708.4h9.81v1.48h-9.81zM955.5,745.4h9.81v1.48h-9.81zM965.3,640.3h9.81v1.48h-9.81zM965.3,644.7h9.81v1.48h-9.81zM965.3,650.7h9.81v2.96h-9.81zM965.3,655.1h9.81v5.92h-9.81zM965.3,664.0h9.81v2.96h-9.81zM965.3,669.9h9.81v1.48h-9.81zM965.3,692.1h9.81v1.48h-9.81zM965.3,698.0h9.81v1.48h-9.81zM965.3,709.9h9.81v1.48h-9.81zM965.3,721.7h9.81v1.48h-9.81zM975.1,646.2h9.81v4.44h-9.81zM975.1,652.1h9.81v1.48h-9.81zM975.1,656.6h9.81v1.48h-9.81zM975.1,661.0h9.81v1.48h-9.81zM975.1,664.0h9.81v1.48h-9.81zM975.1,672.9h9.81v2.96h-9.81zM975.1,680.3h9.81v1.48h-9.81zM975.1,684.7h9.81v1.48h-9.81zM975.1,687.7h9.81v2.96h-9.81zM975.1,693.6h9.81v1.48h-9.81zM975.1,703.9h9.81v1.48h-9.81zM975.1,708.4h9.81v4.44h-9.81zM975.1,742.4h9.81v1.48h-9.81zM984.9,641.8h9.81v1.48h-9.81zM984.9,647.7h9.81v1.48h-9.81zM984.9,652.1h9.81v1.48h-9.81zM984.9,659.5h9.81v2.96h-9.81zM984.9,665.5h9.81v1.48h-9.81zM984.9,668.4h9.81v1.48h-9.81zM984.9,681.7h9.81v1.48h-9.81zM984.9,695.1h9.81v1.48h-9.81zM984.9,706.9h9.81v2.96h-9.81zM984.9,755.7h9.81v1.48h-9.81zM994.8,647.7h9.81v1.48h-9.81zM994.8,655.1h9.81v1.48h-9.81zM994.8,661.0h9.81v1.48h-9.81zM994.8,668.4h9.81v2.96h-9.81zM994.8,674.3h9.81v1.48h-9.81zM994.8,680.3h9.81v1.48h-9.81zM994.8,684.7h9.81v1.48h-9.81zM994.8,687.7h9.81v2.96h-9.81zM994.8,692.1h9.81v1.48h-9.81zM994.8,695.1h9.81v1.48h-9.81zM994.8,708.4h9.81v1.48h-9.81zM1004.6,644.7h9.81v1.48h-9.81zM1004.6,650.7h9.81v1.48h-9.81zM1004.6,656.6h9.81v1.48h-9.81zM1004.6,671.4h9.81v1.48h-9.81zM1004.6,684.7h9.81v2.96h-9.81zM1004.6,689.1h9.81v1.48h-9.81zM1004.6,692.1h9.81v1.48h-9.81zM1004.6,708.4h9.81v1.48h-9.81zM1004.6,712.8h9.81v1.48h-9.81zM1004.6,720.2h9.81v1.48h-9.81zM1014.4,641.8h9.81v2.96h-9.81zM1014.4,647.7h9.81v1.48h-9.81zM1014.4,650.7h9.81v1.48h-9.81zM1014.4,665.5h9.81v2.96h-9.81zM1014.4,669.9h9.81v1.48h-9.81zM1014.4,681.7h9.81v1.48h-9.81zM1014.4,692.1h9.81v1.48h-9.81zM1014.4,708.4h9.81v1.48h-9.81zM1024.2,641.8h9.81v1.48h-9.81zM1024.2,652.1h9.81v1.48h-9.81zM1024.2,661.0h9.81v1.48h-9.81zM1024.2,665.5h9.81v2.96h-9.81zM1024.2,672.9h9.81v1.48h-9.81zM1024.2,690.6h9.81v1.48h-9.81zM1024.2,693.6h9.81v1.48h-9.81zM1024.2,738.0h9.81v1.48h-9.81zM1034.0,649.2h9.81v1.48h-9.81zM1034.0,656.6h9.81v1.48h-9.81zM1034.0,661.0h9.81v2.96h-9.81zM1034.0,665.5h9.81v1.48h-9.81zM1034.0,672.9h9.81v1.48h-9.81zM1034.0,684.7h9.81v1.48h-9.81zM1034.0,780.9h9.81v1.48h-9.81z" fill="#300000"/>
<path d="M651.4,647.7h9.81v1.48h-9.81zM651.4,661.0h9.81v1.48h-9.81zM651.4,677.3h9.81v1.48h-9.81zM651.4,683.2h9.81v1.48h-9.81zM651.4,687.7h9.81v2.96h-9.81zM651.4,699.5h9.81v4.44h-9.81zM651.4,721.7h9.81v1.48h-9.81zM651.4,727.6h9.81v1.48h-9.81zM651.4,733.5h9.81v1.48h-9.81zM651.4,736.5h9.81v1.48h-9.81zM651.4,740.9h9.81v1.48h-9.81zM651.4,749.8h9.81v1.48h-9.81zM651.4,752.8h9.81v1.48h-9.81zM651.4,755.7h9.81v2.96h-9.81zM651.4,769.1h9.81v4.44h-9.81zM651.4,780.9h9.81v1.48h-9.81zM651.4,785.3h9.81v1.48h-9.81zM661.2,653.6h9.81v1.48h-9.81zM661.2,662.5h9.81v1.48h-9.81zM661.2,677.3h9.81v1.48h-9.81zM661.2,684.7h9.81v1.48h-9.81zM661.2,687.7h9.81v1.48h-9.81zM661.2,702.5h9.81v1.48h-9.81zM661.2,706.9h9.81v1.48h-9.81zM661.2,724.7h9.81v1.48h-9.81zM661.2,729.1h9.81v1.48h-9.81zM661.2,732.1h9.81v2.96h-9.81zM661.2,742.4h9.81v1.48h-9.81zM661.2,751.3h9.81v1.48h-9.81zM661.2,754.3h9.81v2.96h-9.81zM661.2,760.2h9.81v1.48h-9.81zM661.2,766.1h9.81v1.48h-9.81zM661.2,772.0h9.81v1.48h-9.81zM661.2,776.5h9.81v1.48h-9.81zM661.2,783.9h9.81v1.48h-9.81zM671.0,641.8h9.81v2.96h-9.81zM671.0,653.6h9.81v1.48h-9.81zM671.0,661.0h9.81v2.96h-9.81zM671.0,678.8h9.81v1.48h-9.81zM671.0,687.7h9.81v1.48h-9.81zM671.0,692.1h9.81v1.48h-9.81zM671.0,698.0h9.81v1.48h-9.81zM671.0,708.4h9.81v1.48h-9.81zM671.0,712.8h9.81v1.48h-9.81zM671.0,715.8h9.81v1.48h-9.81zM671.0,720.2h9.81v1.48h-9.81zM671.0,739.5h9.81v1.48h-9.81zM671.0,742.4h9.81v2.96h-9.81zM671.0,754.3h9.81v1.48h-9.81zM671.0,757.2h9.81v1.48h-9.81zM671.0,760.2h9.81v5.92h-9.81zM671.0,775.0h9.81v1.48h-9.81zM671.0,783.9h9.81v2.96h-9.81zM671.0,797.2h9.81v1.48h-9.81zM671.0,800.1h9.81v1.48h-9.81zM680.8,644.7h9.81v1.48h-9.81zM680.8,678.8h9.81v1.48h-9.81zM680.8,683.2h9.81v2.96h-9.81zM680.8,698.0h9.81v2.96h-9.81zM680.8,702.5h9.81v1.48h-9.81zM680.8,721.7h9.81v2.96h-9.81zM680.8,730.6h9.81v1.48h-9.81zM680.8,733.5h9.81v1.48h-9.81zM680.8,738.0h9.81v1.48h-9.81zM680.8,740.9h9.81v1.48h-9.81zM680.8,748.3h9.81v1.48h-9.81zM680.8,755.7h9.81v1.48h-9.81zM680.8,767.6h9.81v1.48h-9.81zM680.8,776.5h9.81v1.48h-9.81zM680.8,788.3h9.81v2.96h-9.81zM680.8,801.6h9.81v1.48h-9.81zM690.6,644.7h9.81v1.48h-9.81zM690.6,650.7h9.81v1.48h-9.81zM690.6,666.9h9.81v1.48h-9.81zM690.6,669.9h9.81v2.96h-9.81zM690.6,677.3h9.81v1.48h-9.81zM690.6,702.5h9.81v1.48h-9.81zM690.6,708.4h9.81v2.96h-9.81zM690.6,726.1h9.81v1.48h-9.81zM690.6,732.1h9.81v1.48h-9.81zM690.6,736.5h9.81v1.48h-9.81zM690.6,754.3h9.81v1.48h-9.81zM690.6,763.1h9.81v1.48h-9.81zM690.6,767.6h9.81v1.48h-9.81zM690.6,785.3h9.81v2.96h-9.81zM690.6,789.8h9.81v1.48h-9.81zM690.6,800.1h9.81v1.48h-9.81zM700.4,652.1h9.81v1.48h-9.81zM700.4,658.1h9.81v1.48h-9.81zM700.4,666.9h9.81v1.48h-9.81zM700.4,671.4h9.81v1.48h-9.81zM700.4,677.3h9.81v2.96h-9.81zM700.4,683.2h9.81v2.96h-9.81zM700.4,690.6h9.81v4.44h-9.81zM700.4,696.5h9.81v1.48h-9.81zM700.4,708.4h9.81v1.48h-9.81zM700.4,711.3h9.81v1.48h-9.81zM700.4,721.7h9.81v1.48h-9.81zM700.4,726.1h9.81v1.48h-9.81zM700.4,733.5h9.81v1.48h-9.81zM700.4,739.5h9.81v1.48h-9.81zM700.4,742.4h9.81v1.48h-9.81zM700.4,751.3h9.81v1.48h-9.81zM700.4,769.1h9.81v1.48h-9.81zM700.4,788.3h9.81v1.48h-9.81zM700.4,792.7h9.81v1.48h-9.81zM700.4,801.6h9.81v1.48h-9.81zM710.3,640.3h9.81v1.48h-9.81zM710.3,655.1h9.81v1.48h-9.81zM710.3,680.3h9.81v1.48h-9.81zM710.3,708.4h9.81v1.48h-9.81zM710.3,712.8h9.81v2.96h-9.81zM710.3,720.2h9.81v1.48h-9.81zM710.3,723.2h9.81v2.96h-9.81zM710.3,736.5h9.81v1.48h-9.81zM710.3,740.9h9.81v2.96h-9.81zM710.3,758.7h9.81v1.48h-9.81zM710.3,770.5h9.81v1.48h-9.81zM710.3,773.5h9.81v2.96h-9.81zM710.3,786.8h9.81v1.48h-9.81zM710.3,792.7h9.81v2.96h-9.81zM710.3,797.2h9.81v1.48h-9.81zM720.1,655.1h9.81v1.48h-9.81zM720.1,666.9h9.81v1.48h-9.81zM720.1,671.4h9.81v5.92h-9.81zM720.1,689.1h9.81v1.48h-9.81zM720.1,692.1h9.81v1.48h-9.81zM720.1,696.5h9.81v1.48h-9.81zM720.1,699.5h9.81v1.48h-9.81zM720.1,702.5h9.81v1.48h-9.81zM720.1,715.8h9.81v1.48h-9.81zM720.1,721.7h9.81v1.48h-9.81zM720.1,733.5h9.81v2.96h-9.81zM720.1,760.2h9.81v1.48h-9.81zM720.1,767.6h9.81v5.92h-9.81zM720.1,776.5h9.81v1.48h-9.81zM720.1,789.8h9.81v1.48h-9.81zM729.9,644.7h9.81v2.96h-9.81zM729.9,665.5h9.81v1.48h-9.81zM729.9,672.9h9.81v1.48h-9.81zM729.9,678.8h9.81v1.48h-9.81zM729.9,681.7h9.81v1.48h-9.81zM729.9,686.2h9.81v2.96h-9.81zM729.9,693.6h9.81v1.48h-9.81zM729.9,699.5h9.81v1.48h-9.81zM729.9,706.9h9.81v4.44h-9.81zM729.9,712.8h9.81v1.48h-9.81zM729.9,738.0h9.81v1.48h-9.81zM729.9,748.3h9.81v1.48h-9.81zM729.9,766.1h9.81v1.48h-9.81zM739.7,652.1h9.81v1.48h-9.81zM739.7,677.3h9.81v1.48h-9.81zM739.7,680.3h9.81v1.48h-9.81zM739.7,690.6h9.81v4.44h-9.81zM739.7,696.5h9.81v2.96h-9.81zM739.7,706.9h9.81v1.48h-9.81zM739.7,709.9h9.81v1.48h-9.81zM739.7,726.1h9.81v1.48h-9.81zM739.7,739.5h9.81v1.48h-9.81zM749.5,640.3h9.81v1.48h-9.81zM749.5,646.2h9.81v1.48h-9.81zM749.5,652.1h9.81v1.48h-9.81zM749.5,661.0h9.81v1.48h-9.81zM749.5,666.9h9.81v1.48h-9.81zM749.5,687.7h9.81v1.48h-9.81zM749.5,690.6h9.81v1.48h-9.81zM749.5,698.0h9.81v1.48h-9.81zM749.5,706.9h9.81v1.48h-9.81zM749.5,709.9h9.81v1.48h-9.81zM749.5,717.3h9.81v1.48h-9.81zM749.5,720.2h9.81v1.48h-9.81zM749.5,743.9h9.81v2.96h-9.81zM759.3,641.8h9.81v1.48h-9.81zM759.3,644.7h9.81v1.48h-9.81zM759.3,652.1h9.81v1.48h-9.81zM759.3,671.4h9.81v1.48h-9.81zM759.3,684.7h9.81v1.48h-9.81zM759.3,687.7h9.81v1.48h-9.81zM759.3,709.9h9.81v1.48h-9.81zM759.3,712.8h9.81v1.48h-9.81zM759.3,738.0h9.81v1.48h-9.81zM769.1,643.3h9.81v2.96h-9.81zM769.1,649.2h9.81v1.48h-9.81zM778.9,646.2h9.81v1.48h-9.81zM778.9,662.5h9.81v1.48h-9.81zM778.9,666.9h9.81v1.48h-9.81zM778.9,681.7h9.81v1.48h-9.81zM778.9,689.1h9.81v1.48h-9.81zM788.7,643.3h9.81v1.48h-9.81zM788.7,671.4h9.81v2.96h-9.81zM788.7,681.7h9.81v1.48h-9.81zM788.7,708.4h9.81v1.48h-9.81zM798.5,641.8h9.81v1.48h-9.81zM798.5,664.0h9.81v1.48h-9.81zM798.5,672.9h9.81v2.96h-9.81zM798.5,690.6h9.81v1.48h-9.81zM798.5,693.6h9.81v4.44h-9.81zM798.5,708.4h9.81v1.48h-9.81zM798.5,736.5h9.81v1.48h-9.81zM808.4,641.8h9.81v1.48h-9.81zM808.4,646.2h9.81v1.48h-9.81zM808.4,656.6h9.81v1.48h-9.81zM808.4,664.0h9.81v1.48h-9.81zM808.4,703.9h9.81v1.48h-9.81zM808.4,723.2h9.81v1.48h-9.81zM808.4,740.9h9.81v1.48h-9.81zM818.2,647.7h9.81v1.48h-9.81zM818.2,669.9h9.81v2.96h-9.81zM818.2,687.7h9.81v5.92h-9.81zM818.2,695.1h9.81v1.48h-9.81zM818.2,703.9h9.81v1.48h-9.81zM818.2,706.9h9.81v1.48h-9.81zM818.2,772.0h9.81v1.48h-9.81zM828.0,646.2h9.81v1.48h-9.81zM828.0,662.5h9.81v1.48h-9.81zM828.0,671.4h9.81v1.48h-9.81zM828.0,693.6h9.81v1.48h-9.81zM828.0,696.5h9.81v1.48h-9.81zM828.0,703.9h9.81v1.48h-9.81zM828.0,706.9h9.81v1.48h-9.81zM837.8,649.2h9.81v1.48h-9.81zM837.8,656.6h9.81v1.48h-9.81zM837.8,662.5h9.81v1.48h-9.81zM837.8,693.6h9.81v1.48h-9.81zM847.6,656.6h9.81v2.96h-9.81zM847.6,664.0h9.81v1.48h-9.81zM847.6,671.4h9.81v1.48h-9.81zM847.6,692.1h9.81v1.48h-9.81zM847.6,695.1h9.81v1.48h-9.81zM847.6,706.9h9.81v2.96h-9.81zM857.4,644.7h9.81v1.48h-9.81zM857.4,681.7h9.81v1.48h-9.81zM857.4,687.7h9.81v1.48h-9.81zM857.4,690.6h9.81v1.48h-9.81zM857.4,695.1h9.81v1.48h-9.81zM857.4,708.4h9.81v1.48h-9.81zM867.2,640.3h9.81v1.48h-9.81zM867.2,659.5h9.81v1.48h-9.81zM867.2,662.5h9.81v1.48h-9.81zM867.2,669.9h9.81v1.48h-9.81zM867.2,672.9h9.81v1.48h-9.81zM867.2,689.1h9.81v1.48h-9.81zM867.2,692.1h9.81v1.48h-9.81zM867.2,699.5h9.81v1.48h-9.81zM867.2,703.9h9.81v2.96h-9.81zM867.2,711.3h9.81v1.48h-9.81zM867.2,720.2h9.81v1.48h-9.81zM877.0,641.8h9.81v2.96h-9.81zM877.0,662.5h9.81v2.96h-9.81zM877.0,669.9h9.81v1.48h-9.81zM877.0,674.3h9.81v1.48h-9.81zM877.0,690.6h9.81v2.96h-9.81zM886.8,646.2h9.81v1.48h-9.81zM886.8,659.5h9.81v1.48h-9.81zM886.8,678.8h9.81v1.48h-9.81zM886.8,690.6h9.81v1.48h-9.81zM886.8,708.4h9.81v1.48h-9.81zM896.6,641.8h9.81v1.48h-9.81zM896.6,649.2h9.81v1.48h-9.81zM896.6,656.6h9.81v4.44h-9.81zM896.6,664.0h9.81v1.48h-9.81zM896.6,666.9h9.81v1.48h-9.81zM896.6,692.1h9.81v2.96h-9.81zM896.6,711.3h9.81v1.48h-9.81zM906.5,644.7h9.81v1.48h-9.81zM906.5,656.6h9.81v1.48h-9.81zM906.5,661.0h9.81v4.44h-9.81zM906.5,672.9h9.81v1.48h-9.81zM906.5,681.7h9.81v1.48h-9.81zM906.5,686.2h9.81v1.48h-9.81zM906.5,693.6h9.81v1.48h-9.81zM906.5,800.1h9.81v1.48h-9.81zM916.3,641.8h9.81v2.96h-9.81zM916.3,646.2h9.81v2.96h-9.81zM916.3,650.7h9.81v1.48h-9.81zM916.3,656.6h9.81v2.96h-9.81zM916.3,690.6h9.81v1.48h-9.81zM916.3,706.9h9.81v1.48h-9.81zM916.3,726.1h9.81v1.48h-9.81zM926.1,641.8h9.81v1.48h-9.81zM926.1,649.2h9.81v1.48h-9.81zM926.1,692.1h9.81v1.48h-9.81zM935.9,640.3h9.81v1.48h-9.81zM935.9,646.2h9.81v1.48h-9.81zM935.9,658.1h9.81v1.48h-9.81zM935.9,689.1h9.81v1.48h-9.81zM935.9,748.3h9.81v1.48h-9.81zM945.7,641.8h9.81v4.44h-9.81zM945.7,647.7h9.81v1.48h-9.81zM945.7,690.6h9.81v1.48h-9.81zM955.5,640.3h9.81v1.48h-9.81zM955.5,647.7h9.81v1.48h-9.81zM955.5,659.5h9.81v1.48h-9.81zM955.5,662.5h9.81v1.48h-9.81zM955.5,666.9h9.81v1.48h-9.81zM955.5,696.5h9.81v1.48h-9.81zM955.5,795.7h9.81v1.48h-9.81zM965.3,641.8h9.81v1.48h-9.81zM965.3,647.7h9.81v1.48h-9.81zM965.3,662.5h9.81v1.48h-9.81zM965.3,689.1h9.81v1.48h-9.81zM965.3,693.6h9.81v1.48h-9.81zM965.3,706.9h9.81v2.96h-9.81zM965.3,755.7h9.81v1.48h-9.81zM975.1,641.8h9.81v1.48h-9.81zM975.1,644.7h9.81v1.48h-9.81zM975.1,662.5h9.81v1.48h-9.81zM975.1,668.4h9.81v1.48h-9.81zM975.1,718.7h9.81v1.48h-9.81zM975.1,767.6h9.81v1.48h-9.81zM984.9,640.3h9.81v1.48h-9.81zM984.9,643.3h9.81v1.48h-9.81zM984.9,646.2h9.81v1.48h-9.81zM984.9,649.2h9.81v2.96h-9.81zM994.8,640.3h9.81v1.48h-9.81zM994.8,646.2h9.81v1.48h-9.81zM994.8,650.7h9.81v1.48h-9.81zM994.8,712.8h9.81v1.48h-9.81zM1004.6,640.3h9.81v1.48h-9.81zM1004.6,643.3h9.81v1.48h-9.81zM1004.6,647.7h9.81v1.48h-9.81zM1004.6,661.0h9.81v1.48h-9.81zM1004.6,666.9h9.81v2.96h-9.81zM1004.6,672.9h9.81v1.48h-9.81zM1004.6,690.6h9.81v1.48h-9.81zM1004.6,693.6h9.81v1.48h-9.81zM1004.6,699.5h9.81v1.48h-9.81zM1004.6,742.4h9.81v1.48h-9.81zM1014.4,662.5h9.81v1.48h-9.81zM1014.4,672.9h9.81v1.48h-9.81zM1014.4,695.1h9.81v1.48h-9.81zM1024.2,644.7h9.81v4.44h-9.81zM1024.2,659.5h9.81v1.48h-9.81zM1024.2,662.5h9.81v1.48h-9.81zM1024.2,674.3h9.81v1.48h-9.81zM1024.2,708.4h9.81v1.48h-9.81zM1034.0,643.3h9.81v1.48h-9.81zM1034.0,668.4h9.81v1.48h-9.81zM1034.0,764.6h9.81v1.48h-9.81z" fill="#460000"/>
<path d="M651.4,649.2h9.81v1.48h-9.81zM651.4,655.1h9.81v1.48h-9.81zM651.4,662.5h9.81v2.96h-9.81zM651.4,678.8h9.81v1.48h-9.81zM651.4,686.2h9.81v1.48h-9.81zM651.4,692.1h9.81v1.48h-9.81zM651.4,703.9h9.81v1.48h-9.81zM651.4,711.3h9.81v1.48h-9.81zM651.4,777.9h9.81v2.96h-9.81zM651.4,788.3h9.81v2.96h-9.81zM651.4,797.2h9.81v1.48h-9.81zM661.2,656.6h9.81v2.96h-9.81zM661.2,665.5h9.81v2.96h-9.81zM661.2,675.8h9.81v1.48h-9.81zM661.2,678.8h9.81v1.48h-9.81zM661.2,683.2h9.81v1.48h-9.81zM661.2,690.6h9.81v1.48h-9.81zM661.2,699.5h9.81v1.48h-9.81zM661.2,708.4h9.81v1.48h-9.81zM661.2,715.8h9.81v1.48h-9.81zM661.2,730.6h9.81v1.48h-9.81zM661.2,735.0h9.81v1.48h-9.81zM661.2,738.0h9.81v1.48h-9.81zM661.2,743.9h9.81v1.48h-9.81zM661.2,746.9h9.81v1.48h-9.81zM661.2,764.6h9.81v1.48h-9.81zM661.2,767.6h9.81v1.48h-9.81zM661.2,779.4h9.81v1.48h-9.81zM661.2,789.8h9.81v2.96h-9.81zM661.2,800.1h9.81v2.96h-9.81zM671.0,650.7h9.81v1.48h-9.81zM671.0,674.3h9.81v1.48h-9.81zM671.0,684.7h9.81v2.96h-9.81zM671.0,690.6h9.81v1.48h-9.81zM671.0,701.0h9.81v1.48h-9.81zM671.0,729.1h9.81v1.48h-9.81zM671.0,732.1h9.81v1.48h-9.81zM671.0,735.0h9.81v1.48h-9.81zM671.0,738.0h9.81v1.48h-9.81zM671.0,788.3h9.81v1.48h-9.81zM671.0,794.2h9.81v1.48h-9.81zM680.8,658.1h9.81v1.48h-9.81zM680.8,661.0h9.81v1.48h-9.81zM680.8,664.0h9.81v1.48h-9.81zM680.8,674.3h9.81v1.48h-9.81zM680.8,680.3h9.81v2.96h-9.81zM680.8,687.7h9.81v1.48h-9.81zM680.8,732.1h9.81v1.48h-9.81zM680.8,735.0h9.81v1.48h-9.81zM680.8,743.9h9.81v1.48h-9.81zM680.8,746.9h9.81v1.48h-9.81zM680.8,752.8h9.81v1.48h-9.81zM680.8,764.6h9.81v1.48h-9.81zM680.8,770.5h9.81v1.48h-9.81zM680.8,785.3h9.81v1.48h-9.81zM680.8,791.3h9.81v1.48h-9.81zM680.8,795.7h9.81v1.48h-9.81zM690.6,664.0h9.81v1.48h-9.81zM690.6,668.4h9.81v1.48h-9.81zM690.6,680.3h9.81v1.48h-9.81zM690.6,686.2h9.81v1.48h-9.81zM690.6,699.5h9.81v1.48h-9.81zM690.6,711.3h9.81v1.48h-9.81zM690.6,715.8h9.81v1.48h-9.81zM690.6,735.0h9.81v1.48h-9.81zM690.6,743.9h9.81v1.48h-9.81zM690.6,764.6h9.81v1.48h-9.81zM690.6,770.5h9.81v1.48h-9.81zM690.6,779.4h9.81v1.48h-9.81zM690.6,795.7h9.81v2.96h-9.81zM700.4,647.7h9.81v1.48h-9.81zM700.4,650.7h9.81v1.48h-9.81zM700.4,661.0h9.81v1.48h-9.81zM700.4,665.5h9.81v1.48h-9.81zM700.4,687.7h9.81v2.96h-9.81zM700.4,698.0h9.81v1.48h-9.81zM700.4,740.9h9.81v1.48h-9.81zM700.4,745.4h9.81v2.96h-9.81zM700.4,749.8h9.81v1.48h-9.81zM700.4,764.6h9.81v1.48h-9.81zM700.4,770.5h9.81v1.48h-9.81zM700.4,777.9h9.81v1.48h-9.81zM700.4,789.8h9.81v1.48h-9.81zM700.4,800.1h9.81v1.48h-9.81zM710.3,644.7h9.81v1.48h-9.81zM710.3,647.7h9.81v1.48h-9.81zM710.3,652.1h9.81v1.48h-9.81zM710.3,656.6h9.81v1.48h-9.81zM710.3,664.0h9.81v1.48h-9.81zM710.3,671.4h9.81v1.48h-9.81zM710.3,675.8h9.81v2.96h-9.81zM710.3,687.7h9.81v1.48h-9.81zM710.3,693.6h9.81v1.48h-9.81zM710.3,699.5h9.81v1.48h-9.81zM710.3,703.9h9.81v2.96h-9.81zM710.3,709.9h9.81v2.96h-9.81zM710.3,730.6h9.81v1.48h-9.81zM710.3,733.5h9.81v1.48h-9.81zM710.3,745.4h9.81v1.48h-9.81zM710.3,748.3h9.81v1.48h-9.81zM710.3,751.3h9.81v1.48h-9.81zM710.3,777.9h9.81v1.48h-9.81zM710.3,785.3h9.81v1.48h-9.81zM710.3,791.3h9.81v1.48h-9.81zM720.1,647.7h9.81v1.48h-9.81zM720.1,658.1h9.81v1.48h-9.81zM720.1,669.9h9.81v1.48h-9.81zM720.1,680.3h9.81v1.48h-9.81zM720.1,686.2h9.81v1.48h-9.81zM720.1,706.9h9.81v2.96h-9.81zM720.1,730.6h9.81v1.48h-9.81zM720.1,746.9h9.81v1.48h-9.81zM720.1,752.8h9.81v1.48h-9.81zM720.1,779.4h9.81v1.48h-9.81zM720.1,795.7h9.81v2.96h-9.81zM729.9,650.7h9.81v2.96h-9.81zM729.9,662.5h9.81v1.48h-9.81zM729.9,674.3h9.81v1.48h-9.81zM729.9,684.7h9.81v1.48h-9.81zM729.9,692.1h9.81v1.48h-9.81zM729.9,695.1h9.81v1.48h-9.81zM729.9,720.2h9.81v1.48h-9.81zM729.9,723.2h9.81v1.48h-9.81zM739.7,640.3h9.81v1.48h-9.81zM739.7,661.0h9.81v1.48h-9.81zM739.7,664.0h9.81v2.96h-9.81zM739.7,671.4h9.81v1.48h-9.81zM739.7,674.3h9.81v1.48h-9.81zM739.7,686.2h9.81v1.48h-9.81zM739.7,689.1h9.81v1.48h-9.81zM739.7,699.5h9.81v1.48h-9.81zM739.7,712.8h9.81v1.48h-9.81zM749.5,641.8h9.81v1.48h-9.81zM749.5,656.6h9.81v1.48h-9.81zM749.5,659.5h9.81v1.48h-9.81zM749.5,672.9h9.81v2.96h-9.81zM749.5,686.2h9.81v1.48h-9.81zM749.5,708.4h9.81v1.48h-9.81zM759.3,664.0h9.81v4.44h-9.81zM759.3,672.9h9.81v1.48h-9.81zM759.3,686.2h9.81v1.48h-9.81zM759.3,699.5h9.81v1.48h-9.81zM759.3,706.9h9.81v1.48h-9.81zM759.3,711.3h9.81v1.48h-9.81zM778.9,649.2h9.81v1.48h-9.81zM778.9,659.5h9.81v1.48h-9.81zM788.7,641.8h9.81v1.48h-9.81zM788.7,646.2h9.81v1.48h-9.81zM788.7,649.2h9.81v1.48h-9.81zM788.7,659.5h9.81v1.48h-9.81zM788.7,662.5h9.81v1.48h-9.81zM788.7,668.4h9.81v1.48h-9.81zM788.7,693.6h9.81v1.48h-9.81zM798.5,646.2h9.81v1.48h-9.81zM808.4,643.3h9.81v1.48h-9.81zM808.4,681.7h9.81v1.48h-9.81zM808.4,695.1h9.81v1.48h-9.81zM808.4,711.3h9.81v1.48h-9.81zM818.2,655.1h9.81v1.48h-9.81zM818.2,658.1h9.81v1.48h-9.81zM818.2,668.4h9.81v1.48h-9.81zM818.2,672.9h9.81v1.48h-9.81zM828.0,658.1h9.81v1.48h-9.81zM828.0,666.9h9.81v1.48h-9.81zM828.0,672.9h9.81v1.48h-9.81zM828.0,677.3h9.81v1.48h-9.81zM828.0,770.5h9.81v1.48h-9.81zM837.8,646.2h9.81v1.48h-9.81zM837.8,661.0h9.81v1.48h-9.81zM837.8,729.1h9.81v1.48h-9.81zM837.8,743.9h9.81v1.48h-9.81zM837.8,785.3h9.81v1.48h-9.81zM847.6,640.3h9.81v1.48h-9.81zM847.6,647.7h9.81v1.48h-9.81zM847.6,662.5h9.81v1.48h-9.81zM847.6,666.9h9.81v1.48h-9.81zM857.4,649.2h9.81v1.48h-9.81zM857.4,662.5h9.81v1.48h-9.81zM857.4,692.1h9.81v2.96h-9.81zM867.2,647.7h9.81v1.48h-9.81zM867.2,661.0h9.81v1.48h-9.81zM867.2,674.3h9.81v2.96h-9.81zM867.2,680.3h9.81v2.96h-9.81zM867.2,696.5h9.81v1.48h-9.81zM867.2,702.5h9.81v1.48h-9.81zM867.2,706.9h9.81v2.96h-9.81zM877.0,659.5h9.81v2.96h-9.81zM877.0,665.5h9.81v1.48h-9.81zM877.0,681.7h9.81v1.48h-9.81zM877.0,740.9h9.81v1.48h-9.81zM886.8,649.2h9.81v1.48h-9.81zM886.8,658.1h9.81v1.48h-9.81zM886.8,661.0h9.81v1.48h-9.81zM886.8,665.5h9.81v1.48h-9.81zM886.8,693.6h9.81v1.48h-9.81zM896.6,640.3h9.81v1.48h-9.81zM896.6,662.5h9.81v1.48h-9.81zM896.6,672.9h9.81v1.48h-9.81zM896.6,689.1h9.81v1.48h-9.81zM906.5,640.3h9.81v1.48h-9.81zM906.5,643.3h9.81v1.48h-9.81zM906.5,649.2h9.81v1.48h-9.81zM906.5,659.5h9.81v1.48h-9.81zM906.5,690.6h9.81v1.48h-9.81zM916.3,644.7h9.81v1.48h-9.81zM916.3,662.5h9.81v4.44h-9.81zM916.3,681.7h9.81v1.48h-9.81zM916.3,689.1h9.81v1.48h-9.81zM916.3,693.6h9.81v1.48h-9.81zM916.3,696.5h9.81v1.48h-9.81zM926.1,640.3h9.81v1.48h-9.81zM926.1,643.3h9.81v1.48h-9.81zM926.1,650.7h9.81v1.48h-9.81zM926.1,658.1h9.81v1.48h-9.81zM926.1,661.0h9.81v1.48h-9.81zM926.1,666.9h9.81v1.48h-9.81zM926.1,735.0h9.81v1.48h-9.81zM926.1,746.9h9.81v1.48h-9.81zM926.1,752.8h9.81v1.48h-9.81zM935.9,644.7h9.81v1.48h-9.81zM935.9,649.2h9.81v1.48h-9.81zM945.7,640.3h9.81v1.48h-9.81zM945.7,649.2h9.81v1.48h-9.81zM945.7,658.1h9.81v1.48h-9.81zM945.7,664.0h9.81v2.96h-9.81zM945.7,668.4h9.81v1.48h-9.81zM945.7,672.9h9.81v1.48h-9.81zM945.7,681.7h9.81v1.48h-9.81zM955.5,644.7h9.81v1.48h-9.81zM965.3,643.3h9.81v1.48h-9.81zM965.3,646.2h9.81v1.48h-9.81zM965.3,649.2h9.81v1.48h-9.81zM965.3,681.7h9.81v1.48h-9.81zM975.1,640.3h9.81v1.48h-9.81zM975.1,643.3h9.81v1.48h-9.81zM975.1,658.1h9.81v1.48h-9.81zM975.1,666.9h9.81v1.48h-9.81zM994.8,644.7h9.81v1.48h-9.81zM994.8,658.1h9.81v1.48h-9.81zM1004.6,649.2h9.81v1.48h-9.81zM1004.6,652.1h9.81v1.48h-9.81zM1004.6,659.5h9.81v1.48h-9.81zM1004.6,669.9h9.81v1.48h-9.81zM1004.6,714.3h9.81v1.48h-9.81zM1004.6,760.2h9.81v1.48h-9.81zM1014.4,649.2h9.81v1.48h-9.81zM1034.0,655.1h9.81v1.48h-9.81zM1034.0,680.3h9.81v1.48h-9.81z" fill="#5e0000"/>
<path d="M651.4,641.8h9.81v2.96h-9.81zM651.4,650.7h9.81v1.48h-9.81zM651.4,671.4h9.81v1.48h-9.81zM651.4,674.3h9.81v1.48h-9.81zM651.4,690.6h9.81v1.48h-9.81zM651.4,708.4h9.81v2.96h-9.81zM651.4,746.9h9.81v1.48h-9.81zM651.4,764.6h9.81v1.48h-9.81zM651.4,791.3h9.81v1.48h-9.81zM661.2,643.3h9.81v2.96h-9.81zM661.2,652.1h9.81v1.48h-9.81zM661.2,661.0h9.81v1.48h-9.81zM661.2,695.1h9.81v1.48h-9.81zM661.2,705.4h9.81v1.48h-9.81zM661.2,739.5h9.81v1.48h-9.81zM661.2,770.5h9.81v1.48h-9.81zM661.2,777.9h9.81v1.48h-9.81zM661.2,785.3h9.81v2.96h-9.81zM661.2,792.7h9.81v1.48h-9.81zM661.2,795.7h9.81v1.48h-9.81zM671.0,649.2h9.81v1.48h-9.81zM671.0,656.6h9.81v1.48h-9.81zM671.0,671.4h9.81v1.48h-9.81zM671.0,681.7h9.81v1.48h-9.81zM671.0,699.5h9.81v1.48h-9.81zM671.0,711.3h9.81v1.48h-9.81zM671.0,740.9h9.81v1.48h-9.81zM671.0,746.9h9.81v1.48h-9.81zM671.0,752.8h9.81v1.48h-9.81zM671.0,766.1h9.81v1.48h-9.81zM671.0,776.5h9.81v1.48h-9.81zM671.0,782.4h9.81v1.48h-9.81zM671.0,791.3h9.81v2.96h-9.81zM680.8,646.2h9.81v1.48h-9.81zM680.8,649.2h9.81v1.48h-9.81zM680.8,656.6h9.81v1.48h-9.81zM680.8,659.5h9.81v1.48h-9.81zM680.8,669.9h9.81v4.44h-9.81zM680.8,692.1h9.81v1.48h-9.81zM680.8,695.1h9.81v1.48h-9.81zM680.8,705.4h9.81v1.48h-9.81zM680.8,712.8h9.81v1.48h-9.81zM680.8,739.5h9.81v1.48h-9.81zM680.8,745.4h9.81v1.48h-9.81zM680.8,749.8h9.81v1.48h-9.81zM690.6,649.2h9.81v1.48h-9.81zM690.6,659.5h9.81v1.48h-9.81zM690.6,684.7h9.81v1.48h-9.81zM690.6,687.7h9.81v1.48h-9.81zM690.6,692.1h9.81v2.96h-9.81zM690.6,698.0h9.81v1.48h-9.81zM690.6,720.2h9.81v1.48h-9.81zM690.6,740.9h9.81v2.96h-9.81zM690.6,745.4h9.81v2.96h-9.81zM690.6,751.3h9.81v2.96h-9.81zM690.6,777.9h9.81v1.48h-9.81zM690.6,782.4h9.81v1.48h-9.81zM700.4,644.7h9.81v2.96h-9.81zM700.4,669.9h9.81v1.48h-9.81zM700.4,672.9h9.81v2.96h-9.81zM700.4,695.1h9.81v1.48h-9.81zM700.4,699.5h9.81v1.48h-9.81zM700.4,766.1h9.81v1.48h-9.81zM700.4,776.5h9.81v1.48h-9.81zM700.4,779.4h9.81v1.48h-9.81zM700.4,782.4h9.81v1.48h-9.81zM710.3,658.1h9.81v1.48h-9.81zM710.3,669.9h9.81v1.48h-9.81zM710.3,743.9h9.81v1.48h-9.81zM710.3,752.8h9.81v1.48h-9.81zM710.3,764.6h9.81v1.48h-9.81zM720.1,664.0h9.81v1.48h-9.81zM720.1,695.1h9.81v1.48h-9.81zM720.1,705.4h9.81v1.48h-9.81zM720.1,709.9h9.81v1.48h-9.81zM720.1,714.3h9.81v1.48h-9.81zM720.1,738.0h9.81v1.48h-9.81zM720.1,743.9h9.81v1.48h-9.81zM720.1,777.9h9.81v1.48h-9.81zM729.9,641.8h9.81v2.96h-9.81zM729.9,664.0h9.81v1.48h-9.81zM729.9,669.9h9.81v1.48h-9.81zM729.9,690.6h9.81v1.48h-9.81zM739.7,643.3h9.81v2.96h-9.81zM739.7,649.2h9.81v1.48h-9.81zM739.7,656.6h9.81v1.48h-9.81zM739.7,672.9h9.81v1.48h-9.81zM749.5,649.2h9.81v1.48h-9.81zM749.5,664.0h9.81v1.48h-9.81zM749.5,668.4h9.81v2.96h-9.81zM749.5,692.1h9.81v1.48h-9.81zM759.3,646.2h9.81v1.48h-9.81zM759.3,659.5h9.81v1.48h-9.81zM759.3,662.5h9.81v1.48h-9.81zM759.3,668.4h9.81v1.48h-9.81zM788.7,640.3h9.81v1.48h-9.81zM788.7,661.0h9.81v1.48h-9.81zM798.5,644.7h9.81v1.48h-9.81zM798.5,659.5h9.81v1.48h-9.81zM808.4,686.2h9.81v1.48h-9.81zM818.2,681.7h9.81v1.48h-9.81zM828.0,659.5h9.81v1.48h-9.81zM837.8,655.1h9.81v1.48h-9.81zM837.8,659.5h9.81v1.48h-9.81zM847.6,641.8h9.81v1.48h-9.81zM847.6,668.4h9.81v1.48h-9.81zM847.6,677.3h9.81v1.48h-9.81zM857.4,646.2h9.81v1.48h-9.81zM857.4,658.1h9.81v2.96h-9.81zM857.4,689.1h9.81v1.48h-9.81zM867.2,665.5h9.81v2.96h-9.81zM877.0,646.2h9.81v1.48h-9.81zM877.0,666.9h9.81v1.48h-9.81zM886.8,644.7h9.81v1.48h-9.81zM896.6,669.9h9.81v1.48h-9.81zM906.5,658.1h9.81v1.48h-9.81zM916.3,659.5h9.81v1.48h-9.81zM916.3,666.9h9.81v2.96h-9.81zM916.3,671.4h9.81v1.48h-9.81zM926.1,644.7h9.81v1.48h-9.81zM926.1,693.6h9.81v1.48h-9.81zM935.9,666.9h9.81v1.48h-9.81zM965.3,661.0h9.81v1.48h-9.81zM984.9,658.1h9.81v1.48h-9.81zM994.8,643.3h9.81v1.48h-9.81zM1004.6,674.3h9.81v1.48h-9.81z" fill="#7a0000"/>
<path d="M651.4,658.1h9.81v2.96h-9.81zM651.4,665.5h9.81v1.48h-9.81zM651.4,668.4h9.81v2.96h-9.81zM651.4,672.9h9.81v1.48h-9.81zM651.4,680.3h9.81v1.48h-9.81zM651.4,693.6h9.81v4.44h-9.81zM651.4,706.9h9.81v1.48h-9.81zM651.4,712.8h9.81v2.96h-9.81zM651.4,720.2h9.81v1.48h-9.81zM651.4,726.1h9.81v1.48h-9.81zM651.4,738.0h9.81v1.48h-9.81zM651.4,745.4h9.81v1.48h-9.81zM651.4,748.3h9.81v1.48h-9.81zM661.2,649.2h9.81v1.48h-9.81zM661.2,664.0h9.81v1.48h-9.81zM661.2,669.9h9.81v1.48h-9.81zM661.2,672.9h9.81v1.48h-9.81zM661.2,681.7h9.81v1.48h-9.81zM661.2,689.1h9.81v1.48h-9.81zM661.2,692.1h9.81v2.96h-9.81zM661.2,696.5h9.81v1.48h-9.81zM661.2,703.9h9.81v1.48h-9.81zM661.2,711.3h9.81v1.48h-9.81zM661.2,714.3h9.81v1.48h-9.81zM661.2,720.2h9.81v1.48h-9.81zM661.2,726.1h9.81v1.48h-9.81zM661.2,736.5h9.81v1.48h-9.81zM661.2,745.4h9.81v1.48h-9.81zM671.0,659.5h9.81v1.48h-9.81zM671.0,664.0h9.81v4.44h-9.81zM671.0,669.9h9.81v1.48h-9.81zM671.0,689.1h9.81v1.48h-9.81zM671.0,695.1h9.81v2.96h-9.81zM671.0,703.9h9.81v4.44h-9.81zM671.0,709.9h9.81v1.48h-9.81zM671.0,721.7h9.81v1.48h-9.81zM671.0,748.3h9.81v1.48h-9.81zM680.8,643.3h9.81v1.48h-9.81zM680.8,662.5h9.81v1.48h-9.81zM680.8,665.5h9.81v1.48h-9.81zM680.8,668.4h9.81v1.48h-9.81zM680.8,690.6h9.81v1.48h-9.81zM680.8,693.6h9.81v1.48h-9.81zM680.8,696.5h9.81v1.48h-9.81zM680.8,703.9h9.81v1.48h-9.81zM680.8,706.9h9.81v5.92h-9.81zM680.8,720.2h9.81v1.48h-9.81zM680.8,726.1h9.81v1.48h-9.81zM680.8,766.1h9.81v1.48h-9.81zM690.6,643.3h9.81v1.48h-9.81zM690.6,662.5h9.81v1.48h-9.81zM690.6,665.5h9.81v1.48h-9.81zM690.6,672.9h9.81v1.48h-9.81zM690.6,681.7h9.81v1.48h-9.81zM690.6,689.1h9.81v2.96h-9.81zM690.6,696.5h9.81v1.48h-9.81zM690.6,703.9h9.81v1.48h-9.81zM690.6,706.9h9.81v1.48h-9.81zM690.6,721.7h9.81v1.48h-9.81zM690.6,738.0h9.81v1.48h-9.81zM690.6,766.1h9.81v1.48h-9.81zM700.4,659.5h9.81v1.48h-9.81zM700.4,681.7h9.81v1.48h-9.81zM700.4,686.2h9.81v1.48h-9.81zM700.4,703.9h9.81v2.96h-9.81zM700.4,736.5h9.81v2.96h-9.81zM700.4,748.3h9.81v1.48h-9.81zM710.3,643.3h9.81v1.48h-9.81zM710.3,649.2h9.81v1.48h-9.81zM710.3,659.5h9.81v4.44h-9.81zM710.3,666.9h9.81v1.48h-9.81zM710.3,672.9h9.81v1.48h-9.81zM710.3,684.7h9.81v1.48h-9.81zM710.3,689.1h9.81v1.48h-9.81zM710.3,696.5h9.81v1.48h-9.81zM710.3,726.1h9.81v1.48h-9.81zM710.3,767.6h9.81v1.48h-9.81zM720.1,640.3h9.81v1.48h-9.81zM720.1,661.0h9.81v1.48h-9.81zM720.1,681.7h9.81v1.48h-9.81zM720.1,690.6h9.81v1.48h-9.81zM720.1,693.6h9.81v1.48h-9.81zM720.1,720.2h9.81v1.48h-9.81zM720.1,736.5h9.81v1.48h-9.81zM720.1,745.4h9.81v1.48h-9.81zM720.1,748.3h9.81v1.48h-9.81zM729.9,647.7h9.81v2.96h-9.81zM729.9,656.6h9.81v1.48h-9.81zM739.7,658.1h9.81v1.48h-9.81zM739.7,662.5h9.81v1.48h-9.81zM739.7,668.4h9.81v1.48h-9.81zM749.5,643.3h9.81v1.48h-9.81zM749.5,665.5h9.81v1.48h-9.81zM749.5,689.1h9.81v1.48h-9.81zM788.7,658.1h9.81v1.48h-9.81zM798.5,640.3h9.81v1.48h-9.81zM798.5,661.0h9.81v1.48h-9.81zM828.0,643.3h9.81v1.48h-9.81zM837.8,658.1h9.81v1.48h-9.81zM867.2,658.1h9.81v1.48h-9.81zM877.0,649.2h9.81v1.48h-9.81zM877.0,689.1h9.81v1.48h-9.81zM886.8,680.3h9.81v1.48h-9.81zM896.6,643.3h9.81v2.96h-9.81zM916.3,649.2h9.81v1.48h-9.81zM916.3,661.0h9.81v1.48h-9.81zM994.8,666.9h9.81v1.48h-9.81z" fill="#9a0505"/>
<path d="M651,642.3H642V658.3H651M651,648.7H644.2V655.1H651M651,659.3H645V668.3H651M651,662.9H647.2V666.5H651M651,670.3H645V692.3H651M651,679.1H647.2V687.9H651M651,695.3H645V725.3H651M651,726.3H643.5V756.3H651M651,758.3H646.5V767.3H651M651,761.9H648.7V765.5H651M651,768.3H642V777.3H651M651,780.3H643.5V786.3H651M651,787.3H646.5V799.3H651M642,690H640.5V770H642 M643.5,660H642V720H643.5 M645,740H641V790H645" fill="none" stroke="#888" stroke-width="0.6"/>
<rect x="1043.8" y="638.6" width="29.6" height="164.5" fill="#fafaff" stroke="#a2a2b8" stroke-width="0.5"/><rect x="1043.8" y="638.6" width="18.6" height="164.5" fill="#e2e2ee"/>
<path d="M1043.8,641.59H1073.3999999999999M1043.8,644.58H1073.3999999999999M1043.8,647.57H1073.3999999999999M1043.8,650.56H1073.3999999999999M1043.8,653.55H1073.3999999999999M1043.8,656.55H1073.3999999999999M1043.8,659.54H1073.3999999999999M1043.8,662.53H1073.3999999999999M1043.8,665.52H1073.3999999999999M1043.8,668.51H1073.3999999999999M1043.8,671.50H1073.3999999999999M1043.8,674.49H1073.3999999999999M1043.8,677.48H1073.3999999999999M1043.8,680.47H1073.3999999999999M1043.8,683.46H1073.3999999999999M1043.8,686.45H1073.3999999999999M1043.8,689.45H1073.3999999999999M1043.8,692.44H1073.3999999999999M1043.8,695.43H1073.3999999999999M1043.8,698.42H1073.3999999999999M1043.8,701.41H1073.3999999999999M1043.8,704.40H1073.3999999999999M1043.8,707.39H1073.3999999999999M1043.8,710.38H1073.3999999999999M1043.8,713.37H1073.3999999999999M1043.8,716.36H1073.3999999999999M1043.8,719.35H1073.3999999999999M1043.8,722.35H1073.3999999999999M1043.8,725.34H1073.3999999999999M1043.8,728.33H1073.3999999999999M1043.8,731.32H1073.3999999999999M1043.8,734.31H1073.3999999999999M1043.8,737.30H1073.3999999999999M1043.8,740.29H1073.3999999999999M1043.8,743.28H1073.3999999999999M1043.8,746.27H1073.3999999999999M1043.8,749.26H1073.3999999999999M1043.8,752.25H1073.3999999999999M1043.8,755.25H1073.3999999999999M1043.8,758.24H1073.3999999999999M1043.8,761.23H1073.3999999999999M1043.8,764.22H1073.3999999999999M1043.8,767.21H1073.3999999999999M1043.8,770.20H1073.3999999999999M1043.8,773.19H1073.3999999999999M1043.8,776.18H1073.3999999999999M1043.8,779.17H1073.3999999999999M1043.8,782.16H1073.3999999999999M1043.8,785.15H1073.3999999999999M1043.8,788.15H1073.3999999999999M1043.8,791.14H1073.3999999999999M1043.8,794.13H1073.3999999999999M1043.8,797.12H1073.3999999999999M1043.8,800.11H1073.3999999999999" stroke="#c2c2da" stroke-width="1.35" fill="none"/>
<path d="M1062.6,638.6V803.1" stroke="#1a1a3a" stroke-width="0.9" stroke-dasharray="2.2 0.75"/>
<rect x="1047" y="641" width="13.5" height="159.1" fill="none" stroke="#50506a" stroke-width="2.6" stroke-dasharray="0.9 0.6" opacity="0.55"/>
<path d="M1050,641V801.1M1054,641V801.1M1057.5,641V801.1" stroke="#606078" stroke-width="2.4" stroke-dasharray="0.8 0.7" opacity="0.6" fill="none"/>
<rect x="639" y="807" width="434.6" height="10.7" fill="#fff" stroke="#a8a8a8" stroke-width="0.6"/>
<g font-family="'Liberation Sans',sans-serif" font-size="2.6" fill="#444"><text x="641.5" y="811.2">Cluster method: Average Linkage (WPGMA)</text><text x="641.5" y="815.4">Distance metric: Bray-Curtis</text><text x="1020" y="815.8">-71,304.603</text><text x="1043.5" y="815.8">0.0</text><text x="1054" y="815.8">71,304.590</text></g>
<rect x="1028.2" y="809.4" width="17.1" height="2.9" fill="#3fc03f"/><rect x="1045.3" y="809.4" width="17.2" height="2.9" fill="#a01010"/><rect x="1044.3" y="809.4" width="2.4" height="2.9" fill="#1a0a0a"/>
</svg>
<!-- fig2 -->
<svg style="left:635px;top:890px" width="460" height="120" viewBox="635 890 460 120">
<path d="M666.2,971.38H844.4M666.2,956.36H844.4M666.2,941.34H844.4M666.2,926.32H844.4M666.2,911.30H844.4M701.84,911.3V986.4M737.48,911.3V986.4M773.12,911.3V986.4M808.76,911.3V986.4M844.40,911.3V986.4" stroke="#8c8c8c" stroke-width="0.55" stroke-dasharray="0.6 1.9" fill="none"/>
<path d="M666.2,910.3V986.4" stroke="#222" stroke-width="0.7" fill="none"/><path d="M666.2,986.4H844.4" stroke="#777" stroke-width="0.7" fill="none"/>
<path d="M664.2,986.40H666.2M665.0,978.89H666.2M664.2,971.38H666.2M665.0,963.87H666.2M664.2,956.36H666.2M665.0,948.85H666.2M664.2,941.34H666.2M665.0,933.83H666.2M664.2,926.32H666.2M665.0,918.81H666.2M664.2,911.30H666.2" stroke="#222" stroke-width="0.5" fill="none"/>
<path d="M687.4,986.4 L768.5,986.4 L770.5,984.0 L772.5,972.0 L774.5,952.0 L776.5,932.0 L778.2,924.4 L779.0,923.8 L780.0,925.5 L781.6,934.0 L783.6,951.0 L785.6,968.0 L787.6,981.0 L789.4,985.8 L791.0,986.4 L844.4,986.4" stroke="#e58a8a" stroke-width="0.8" fill="none"/>
<g font-family="'Liberation Sans',sans-serif" font-size="4.4" fill="#222"><text x="751" y="899.8" text-anchor="middle">Size Distribution by Intensity</text><text x="663.0" y="987.6" text-anchor="end">0</text><text x="663.0" y="972.6" text-anchor="end">5</text><text x="663.0" y="957.6" text-anchor="end">10</text><text x="663.0" y="942.5" text-anchor="end">15</text><text x="663.0" y="927.5" text-anchor="end">20</text><text x="663.0" y="912.5" text-anchor="end">25</text><text x="666.2" y="993.4" text-anchor="middle">0.1</text><text x="701.8" y="993.4" text-anchor="middle">1</text><text x="737.5" y="993.4" text-anchor="middle">10</text><text x="773.1" y="993.4" text-anchor="middle">100</text><text x="808.8" y="993.4" text-anchor="middle">1000</text><text x="844.4" y="993.4" text-anchor="middle">10000</text><text x="755" y="1000.8" text-anchor="middle">Size (d.nm)</text><text transform="translate(656.6 948.7) rotate(-90)" text-anchor="middle">Intensity (Percent)</text></g>
<path d="M898.3,974.38H1075.5M898.3,961.77H1075.5M898.3,949.15H1075.5M898.3,936.53H1075.5M898.3,923.92H1075.5M898.3,911.30H1075.5M942.60,911.3V987.0M986.90,911.3V987.0M1031.20,911.3V987.0M1075.50,911.3V987.0" stroke="#8c8c8c" stroke-width="0.55" stroke-dasharray="0.6 1.9" fill="none"/>
<path d="M898.3,910.3V987.0" stroke="#222" stroke-width="0.7" fill="none"/><path d="M898.3,987.0H1075.5" stroke="#777" stroke-width="0.7" fill="none"/>
<path d="M896.3,987.00H898.3M897.0999999999999,980.69H898.3M896.3,974.38H898.3M897.0999999999999,968.08H898.3M896.3,961.77H898.3M897.0999999999999,955.46H898.3M896.3,949.15H898.3M897.0999999999999,942.84H898.3M896.3,936.53H898.3M897.0999999999999,930.22H898.3M896.3,923.92H898.3M897.0999999999999,917.61H898.3M896.3,911.30H898.3M898.30,987.0V988.6M920.45,987.0V988.0M942.60,987.0V988.6M964.75,987.0V988.0M986.90,987.0V988.6M1009.05,987.0V988.0M1031.20,987.0V988.6M1053.35,987.0V988.0M1075.50,987.0V988.6" stroke="#222" stroke-width="0.5" fill="none"/>
<path d="M920.4,987.0 L979.6,987.0 L981.0,985.0 L982.2,975.0 L983.4,958.0 L984.6,938.0 L985.6,922.0 L986.6,914.4 L987.6,924.0 L988.4,940.0 L989.2,958.0 L990.0,975.0 L991.0,985.0 L992.2,987.0 L1051.9,987.0" stroke="#e58a8a" stroke-width="0.8" fill="none"/>
<g font-family="'Liberation Sans',sans-serif" font-size="4.4" fill="#222"><text x="975.9" y="899.4" text-anchor="middle">Zeta Potential Distribution</text><text x="895.6999999999999" y="988.2" text-anchor="end">0</text><text x="895.6999999999999" y="975.6" text-anchor="end">20000</text><text x="895.6999999999999" y="963.0" text-anchor="end">40000</text><text x="895.6999999999999" y="950.4" text-anchor="end">60000</text><text x="895.6999999999999" y="937.7" text-anchor="end">80000</text><text x="895.6999999999999" y="925.1" text-anchor="end">100000</text><text x="895.6999999999999" y="912.5" text-anchor="end">120000</text><text x="898.3" y="994" text-anchor="middle"></text><text x="942.6" y="994" text-anchor="middle">-100</text><text x="986.9" y="994" text-anchor="middle">0</text><text x="1031.2" y="994" text-anchor="middle">100</text><text x="1075.5" y="994" text-anchor="middle">200</text><text x="986" y="1002.2" text-anchor="middle">Apparent Zeta Potential (mV)</text><text transform="translate(878.2 949.7) rotate(-90)" text-anchor="middle">Total Counts</text></g>
</svg>
<!-- fig3 -->
<svg style="left:635px;top:1060px" width="462" height="212" viewBox="635 1060 462 212">
<rect x="663.7" y="1067.2" width="191.1" height="171.4" fill="#fff" stroke="#000" stroke-width="1.1"/>
<path d="M660.7,1224.30H663.7M661.9000000000001,1211.21H663.7M660.7,1198.12H663.7M661.9000000000001,1185.03H663.7M660.7,1171.94H663.7M661.9000000000001,1158.85H663.7M660.7,1145.76H663.7M661.9000000000001,1132.67H663.7M660.7,1119.58H663.7M661.9000000000001,1106.49H663.7M660.7,1093.40H663.7M661.9000000000001,1080.31H663.7M660.7,1067.22H663.7M661.9000000000001,1236.79H663.7M676.60,1238.6V1241.6M690.33,1238.6V1240.3999999999999M704.05,1238.6V1241.6M717.78,1238.6V1240.3999999999999M731.50,1238.6V1241.6M745.23,1238.6V1240.3999999999999M758.95,1238.6V1241.6M772.68,1238.6V1240.3999999999999M786.40,1238.6V1241.6M800.12,1238.6V1240.3999999999999M813.85,1238.6V1241.6M827.58,1238.6V1240.3999999999999M841.30,1238.6V1241.6M662.88,1238.6V1240.3999999999999" stroke="#000" stroke-width="0.8" fill="none"/>
<path d="M676.6,1224.3 L704.1,1224.3 L731.5,1219.6 L759.0,1215.4 L786.4,1207.8 L813.9,1204.7 L841.3,1200.5" stroke="#000" stroke-width="1.25" fill="none"/>
<rect x="674.4" y="1222.1" width="4.4" height="4.4" fill="#000"/><rect x="701.9" y="1222.1" width="4.4" height="4.4" fill="#000"/><rect x="729.3" y="1217.4" width="4.4" height="4.4" fill="#000"/><rect x="756.8" y="1213.2" width="4.4" height="4.4" fill="#000"/><rect x="784.2" y="1205.6" width="4.4" height="4.4" fill="#000"/><rect x="811.6" y="1202.5" width="4.4" height="4.4" fill="#000"/><rect x="839.1" y="1198.3" width="4.4" height="4.4" fill="#000"/>
<path d="M676.6,1219.1 L704.1,1173.2 L731.5,1136.9 L759.0,1133.5 L786.4,1125.6 L813.9,1125.3 L841.3,1128.0" stroke="#ff0000" stroke-width="1.25" fill="none"/>
<circle cx="676.6" cy="1219.1" r="2.4" fill="#ff0000"/><circle cx="704.1" cy="1173.2" r="2.4" fill="#ff0000"/><circle cx="731.5" cy="1136.9" r="2.4" fill="#ff0000"/><circle cx="759.0" cy="1133.5" r="2.4" fill="#ff0000"/><circle cx="786.4" cy="1125.6" r="2.4" fill="#ff0000"/><circle cx="813.9" cy="1125.3" r="2.4" fill="#ff0000"/><circle cx="841.3" cy="1128.0" r="2.4" fill="#ff0000"/>
<path d="M676.6,1208.6 L704.1,1129.0 L731.5,1119.1 L759.0,1110.7 L786.4,1104.9 L813.9,1102.6 L841.3,1104.4" stroke="#0000ff" stroke-width="1.25" fill="none"/>
<path d="M676.6,1205.5l2.9,4.9h-5.8z" fill="#0000ff"/><path d="M704.1,1125.9l2.9,4.9h-5.8z" fill="#0000ff"/><path d="M731.5,1116.0l2.9,4.9h-5.8z" fill="#0000ff"/><path d="M759.0,1107.6l2.9,4.9h-5.8z" fill="#0000ff"/><path d="M786.4,1101.8l2.9,4.9h-5.8z" fill="#0000ff"/><path d="M813.9,1099.5l2.9,4.9h-5.8z" fill="#0000ff"/><path d="M841.3,1101.3l2.9,4.9h-5.8z" fill="#0000ff"/>
<rect x="668.4" y="1073.6" width="52.5" height="35" fill="#fff" stroke="#000" stroke-width="0.9"/>
<path d="M673,1080.7H692" stroke="#000" stroke-width="1"/><rect x="680.5" y="1078.7" width="4" height="4" fill="#000"/>
<path d="M673,1092.4H692" stroke="#f00" stroke-width="1"/><circle cx="682.5" cy="1092.4" r="2.2" fill="#f00"/>
<path d="M673,1104H692" stroke="#00f" stroke-width="1"/><path d="M682.5,1101.3l2.6,4.4h-5.2z" fill="#00f"/>
<g font-family="'Liberation Sans',sans-serif" fill="#000"><g font-size="9" textLength="25.6" lengthAdjust="spacingAndGlyphs"><text x="694" y="1083.8" textLength="25.6" lengthAdjust="spacingAndGlyphs">pH 7.4</text><text x="694" y="1095.5" textLength="25.6" lengthAdjust="spacingAndGlyphs">pH 5.5</text><text x="694" y="1107.1" textLength="25.6" lengthAdjust="spacingAndGlyphs">pH 4.5</text></g><g font-size="6.4" text-anchor="end"><text x="659.6" y="1226.3">0</text><text x="659.6" y="1200.1">10</text><text x="659.6" y="1173.9">20</text><text x="659.6" y="1147.8">30</text><text x="659.6" y="1121.6">40</text><text x="659.6" y="1095.4">50</text><text x="659.6" y="1069.2">60</text></g><g font-size="6.4" text-anchor="middle"><text x="676.6" y="1248.8">0</text><text x="704.1" y="1248.8">5</text><text x="731.5" y="1248.8">10</text><text x="759.0" y="1248.8">15</text><text x="786.4" y="1248.8">20</text><text x="813.9" y="1248.8">25</text><text x="841.3" y="1248.8">30</text></g><text x="759" y="1263.6" font-size="9.2" text-anchor="middle" textLength="43" lengthAdjust="spacingAndGlyphs">Time (min)</text><text transform="translate(644.8 1158.4) rotate(-90)" font-size="9" text-anchor="middle" textLength="117" lengthAdjust="spacingAndGlyphs">Fluorescence Intensity (a.u.)</text></g>
<rect x="898.2" y="1069.4" width="192.4" height="171.2" fill="#fff" stroke="#000" stroke-width="1.1"/>
<g stroke="#000" stroke-width="0.8"><rect x="901.6" y="1227.5" width="7.3" height="13.1" fill="#000"/><rect x="908.9" y="1222.2" width="7.3" height="18.4" fill="#ff0000"/><rect x="916.2" y="1211.7" width="7.3" height="28.9" fill="#00ff00"/><rect x="929.1" y="1227.5" width="7.3" height="13.1" fill="#000"/><rect x="936.4" y="1176.1" width="7.3" height="64.5" fill="#ff0000"/><rect x="943.7" y="1131.6" width="7.3" height="109.0" fill="#00ff00"/><rect x="956.5" y="1222.8" width="7.3" height="17.8" fill="#000"/><rect x="963.8" y="1139.5" width="7.3" height="101.1" fill="#ff0000"/><rect x="971.1" y="1121.6" width="7.3" height="119.0" fill="#00ff00"/><rect x="983.9" y="1218.5" width="7.3" height="22.1" fill="#000"/><rect x="991.2" y="1136.1" width="7.3" height="104.5" fill="#ff0000"/><rect x="998.5" y="1113.1" width="7.3" height="127.5" fill="#00ff00"/><rect x="1011.3" y="1210.9" width="7.3" height="29.7" fill="#000"/><rect x="1018.6" y="1128.2" width="7.3" height="112.4" fill="#ff0000"/><rect x="1025.9" y="1107.3" width="7.3" height="133.3" fill="#00ff00"/><rect x="1038.8" y="1207.7" width="7.3" height="32.9" fill="#000"/><rect x="1046.0" y="1127.9" width="7.3" height="112.7" fill="#ff0000"/><rect x="1053.3" y="1105.0" width="7.3" height="135.6" fill="#00ff00"/><rect x="1066.2" y="1203.5" width="7.3" height="37.1" fill="#000"/><rect x="1073.5" y="1130.5" width="7.3" height="110.1" fill="#ff0000"/><rect x="1080.8" y="1106.8" width="7.3" height="133.8" fill="#00ff00"/></g>
<path d="M895.2,1227.50H898.2M896.4000000000001,1214.33H898.2M895.2,1201.15H898.2M896.4000000000001,1187.98H898.2M895.2,1174.80H898.2M896.4000000000001,1161.62H898.2M895.2,1148.45H898.2M896.4000000000001,1135.28H898.2M895.2,1122.10H898.2M896.4000000000001,1108.92H898.2M895.2,1095.75H898.2M896.4000000000001,1082.58H898.2M895.2,1069.40H898.2M898.89,1240.6V1243.6M926.31,1240.6V1243.6M953.73,1240.6V1243.6M981.15,1240.6V1243.6M1008.57,1240.6V1243.6M1035.99,1240.6V1243.6M1063.41,1240.6V1243.6M1090.83,1240.6V1243.6" stroke="#000" stroke-width="0.8" fill="none"/>
<rect x="904.2" y="1075.4" width="53.4" height="35.3" fill="#fff" stroke="#000" stroke-width="0.9"/>
<g stroke="#000" stroke-width="0.8"><rect x="909.4" y="1077.6" width="18.2" height="10.6" fill="#000"/><rect x="909.4" y="1088.9" width="18.2" height="10.6" fill="#f00"/><rect x="909.4" y="1100.1" width="18.2" height="9.6" fill="#0f0"/></g>
<g font-family="'Liberation Sans',sans-serif" fill="#000"><g font-size="9"><text x="930.4" y="1086.2" textLength="25.6" lengthAdjust="spacingAndGlyphs">pH 7.4</text><text x="930.4" y="1097.6" textLength="25.6" lengthAdjust="spacingAndGlyphs">pH 5.5</text><text x="930.4" y="1109" textLength="25.6" lengthAdjust="spacingAndGlyphs">pH 4.5</text></g><g font-size="6.4" text-anchor="end"><text x="894" y="1229.5">0</text><text x="894" y="1203.2">10</text><text x="894" y="1176.8">20</text><text x="894" y="1150.5">30</text><text x="894" y="1124.1">40</text><text x="894" y="1097.8">50</text><text x="894" y="1071.4">60</text></g><g font-size="6.4" text-anchor="middle"><text x="912.6" y="1251.6">0</text><text x="940.0" y="1251.6">5</text><text x="967.4" y="1251.6">10</text><text x="994.9" y="1251.6">15</text><text x="1022.3" y="1251.6">20</text><text x="1049.7" y="1251.6">25</text><text x="1077.1" y="1251.6">30</text></g><text x="995" y="1266.2" font-size="9.2" text-anchor="middle" textLength="43" lengthAdjust="spacingAndGlyphs">Time (min)</text><text transform="translate(880 1160) rotate(-90)" font-size="9" text-anchor="middle" textLength="116" lengthAdjust="spacingAndGlyphs">Fluorescence Intensity (a.u.)</text></g>
</svg>
<!-- fig4 -->
<svg style="left:690px;top:1355px" width="380" height="202" viewBox="690 1355 380 202">
<defs>
<filter id="b5" x="-20%" y="-20%" width="140%" height="140%"><feGaussianBlur stdDeviation="0.55"/></filter>
<filter id="b10" x="-20%" y="-20%" width="140%" height="140%"><feGaussianBlur stdDeviation="1.1"/></filter>
<filter id="b20" x="-20%" y="-20%" width="140%" height="140%"><feGaussianBlur stdDeviation="2.2"/></filter>
<filter id="gr" x="0" y="0" width="100%" height="100%" color-interpolation-filters="sRGB"><feTurbulence type="fractalNoise" baseFrequency="0.55" numOctaves="2" seed="3"/><feColorMatrix type="matrix" values="2.4 0 0 0 -0.7  2.4 0 0 0 -0.7  2.4 0 0 0 -0.7  0 0 0 0 0.09"/></filter>
<radialGradient id="ng"><stop offset="0" stop-color="#1b1bc6"/><stop offset="0.6" stop-color="#1313a6"/><stop offset="1" stop-color="#0a0a70"/></radialGradient>
<radialGradient id="ng2"><stop offset="0" stop-color="#1c1ce0"/><stop offset="0.65" stop-color="#1515c4"/><stop offset="1" stop-color="#0e0e90"/></radialGradient>
<clipPath id="cH1"><rect x="693.2" y="1359" width="92.6" height="97.9"/></clipPath>
<clipPath id="cM1"><rect x="972.2" y="1359" width="92.7" height="97.9"/></clipPath>
<clipPath id="cH2"><rect x="693.2" y="1456.9" width="91" height="97.2"/></clipPath>
<clipPath id="cM2"><rect x="972.2" y="1458" width="92.7" height="96.2"/></clipPath>
<clipPath id="cB1"><rect x="878.8" y="1359" width="93.4" height="97.9"/></clipPath>
<clipPath id="cB2"><rect x="878.8" y="1458" width="93.4" height="96.2"/></clipPath>
<clipPath id="cD2"><rect x="784.1" y="1456.9" width="94.3" height="97.2"/></clipPath>
</defs>
<rect x="693.2" y="1359" width="92.6" height="97.9" fill="#09091a"/>
<rect x="786" y="1357.6" width="92.4" height="99.3" fill="#141213"/>
<rect x="693.2" y="1456.9" width="91" height="97.2" fill="#11111b"/>
<rect x="784.1" y="1456.9" width="94.3" height="97.2" fill="#181315"/>
<rect x="878.8" y="1359" width="93.4" height="97.9" fill="#898989"/>
<rect x="972.2" y="1359" width="92.7" height="97.9" fill="#84848c"/>
<rect x="878.8" y="1458" width="93.4" height="96.2" fill="#7d7d7d"/>
<rect x="972.2" y="1458" width="92.7" height="96.2" fill="#7b7b83"/>
<g clip-path="url(#cH1)"><rect x="693" y="1359" width="93" height="98" fill="#10106a" opacity="0.12"/><g filter="url(#b5)" fill="url(#ng)"><ellipse rx="4.1" ry="3.9" transform="translate(706.6 1363.3)rotate(145)"/><ellipse rx="3.8" ry="3.4" transform="translate(714.3 1361.9)rotate(105)"/><ellipse rx="3.9" ry="4.1" transform="translate(729.6 1361.8)rotate(133)"/><ellipse rx="4.3" ry="3.5" transform="translate(740.2 1360.7)rotate(21)"/><ellipse rx="4.9" ry="3.1" transform="translate(747.2 1361.4)rotate(167)"/><ellipse rx="4.5" ry="3.2" transform="translate(756.6 1362.5)rotate(7)"/><ellipse rx="4.1" ry="4.1" transform="translate(763.3 1365.1)rotate(161)"/><ellipse rx="4.8" ry="3.1" transform="translate(774.7 1363.9)rotate(86)"/><ellipse rx="5.0" ry="3.5" transform="translate(779.9 1366.0)rotate(66)"/><ellipse rx="4.3" ry="3.0" transform="translate(696.8 1375.3)rotate(17)"/><ellipse rx="4.5" ry="3.6" transform="translate(708.6 1372.3)rotate(135)"/><ellipse rx="4.7" ry="3.2" transform="translate(714.9 1372.7)rotate(31)"/><ellipse rx="4.6" ry="3.3" transform="translate(725.1 1371.4)rotate(19)"/><ellipse rx="4.8" ry="3.7" transform="translate(741.1 1371.6)rotate(162)"/><ellipse rx="5.1" ry="3.6" transform="translate(747.4 1375.3)rotate(159)"/><ellipse rx="5.0" ry="3.2" transform="translate(755.7 1370.8)rotate(12)"/><ellipse rx="5.0" ry="3.1" transform="translate(766.3 1372.2)rotate(46)"/><ellipse rx="3.9" ry="3.4" transform="translate(772.7 1370.4)rotate(162)"/><ellipse rx="4.2" ry="4.1" transform="translate(783.0 1372.2)rotate(95)"/><ellipse rx="5.0" ry="3.9" transform="translate(694.8 1379.5)rotate(159)"/><ellipse rx="5.0" ry="3.3" transform="translate(705.4 1381.7)rotate(96)"/><ellipse rx="4.8" ry="4.0" transform="translate(715.8 1378.3)rotate(4)"/><ellipse rx="4.6" ry="3.3" transform="translate(723.5 1383.4)rotate(73)"/><ellipse rx="3.9" ry="3.1" transform="translate(733.4 1379.1)rotate(5)"/><ellipse rx="4.7" ry="3.1" transform="translate(737.5 1383.5)rotate(97)"/><ellipse rx="4.0" ry="3.2" transform="translate(747.9 1379.6)rotate(68)"/><ellipse rx="4.8" ry="4.0" transform="translate(756.6 1378.5)rotate(139)"/><ellipse rx="3.9" ry="3.8" transform="translate(762.0 1381.0)rotate(32)"/><ellipse rx="4.2" ry="3.0" transform="translate(771.8 1382.4)rotate(70)"/><ellipse rx="4.5" ry="3.6" transform="translate(783.9 1380.0)rotate(171)"/><ellipse rx="5.2" ry="3.3" transform="translate(705.9 1391.6)rotate(126)"/><ellipse rx="4.9" ry="4.1" transform="translate(714.6 1387.5)rotate(64)"/><ellipse rx="3.9" ry="3.1" transform="translate(725.4 1387.8)rotate(147)"/><ellipse rx="3.8" ry="3.7" transform="translate(730.8 1390.9)rotate(80)"/><ellipse rx="4.1" ry="3.1" transform="translate(738.9 1389.6)rotate(78)"/><ellipse rx="4.8" ry="3.5" transform="translate(749.1 1392.1)rotate(43)"/><ellipse rx="5.1" ry="3.1" transform="translate(756.3 1390.9)rotate(86)"/><ellipse rx="4.9" ry="3.7" transform="translate(766.0 1392.5)rotate(137)"/><ellipse rx="4.8" ry="3.3" transform="translate(775.2 1391.3)rotate(165)"/><ellipse rx="5.1" ry="4.1" transform="translate(782.3 1392.1)rotate(1)"/><ellipse rx="4.0" ry="3.6" transform="translate(696.4 1398.4)rotate(14)"/><ellipse rx="4.4" ry="3.1" transform="translate(708.3 1400.5)rotate(172)"/><ellipse rx="4.7" ry="3.7" transform="translate(712.6 1398.1)rotate(47)"/><ellipse rx="5.0" ry="3.2" transform="translate(721.7 1397.6)rotate(123)"/><ellipse rx="5.1" ry="3.5" transform="translate(738.3 1398.3)rotate(79)"/><ellipse rx="4.3" ry="3.3" transform="translate(746.7 1397.1)rotate(34)"/><ellipse rx="5.1" ry="3.8" transform="translate(753.7 1400.9)rotate(3)"/><ellipse rx="4.8" ry="3.3" transform="translate(762.2 1399.7)rotate(1)"/><ellipse rx="4.4" ry="4.0" transform="translate(770.9 1397.9)rotate(67)"/><ellipse rx="3.9" ry="3.2" transform="translate(699.2 1408.1)rotate(73)"/><ellipse rx="5.0" ry="4.0" transform="translate(704.3 1409.8)rotate(159)"/><ellipse rx="4.8" ry="3.8" transform="translate(720.3 1410.3)rotate(34)"/><ellipse rx="4.5" ry="3.9" transform="translate(740.1 1408.7)rotate(61)"/><ellipse rx="4.7" ry="4.0" transform="translate(747.1 1406.7)rotate(13)"/><ellipse rx="4.2" ry="3.1" transform="translate(765.8 1406.1)rotate(7)"/><ellipse rx="4.0" ry="3.1" transform="translate(774.2 1408.9)rotate(168)"/><ellipse rx="4.8" ry="3.6" transform="translate(781.1 1409.1)rotate(14)"/><ellipse rx="4.3" ry="3.6" transform="translate(695.8 1414.1)rotate(113)"/><ellipse rx="5.0" ry="3.9" transform="translate(714.2 1414.8)rotate(163)"/><ellipse rx="5.1" ry="3.6" transform="translate(721.1 1418.5)rotate(164)"/><ellipse rx="5.1" ry="3.9" transform="translate(730.5 1419.5)rotate(2)"/><ellipse rx="4.9" ry="3.7" transform="translate(740.1 1417.5)rotate(29)"/><ellipse rx="4.9" ry="3.8" transform="translate(759.1 1417.2)rotate(159)"/><ellipse rx="4.0" ry="3.6" transform="translate(762.4 1416.3)rotate(147)"/><ellipse rx="4.4" ry="3.6" transform="translate(771.1 1414.0)rotate(5)"/><ellipse rx="5.1" ry="3.6" transform="translate(780.0 1414.5)rotate(161)"/><ellipse rx="4.4" ry="3.7" transform="translate(695.3 1424.2)rotate(139)"/><ellipse rx="4.4" ry="3.4" transform="translate(706.7 1424.3)rotate(88)"/><ellipse rx="3.8" ry="3.9" transform="translate(714.5 1425.5)rotate(106)"/><ellipse rx="5.2" ry="3.4" transform="translate(724.0 1427.1)rotate(71)"/><ellipse rx="5.2" ry="3.2" transform="translate(740.0 1426.2)rotate(41)"/><ellipse rx="4.4" ry="3.4" transform="translate(766.6 1425.7)rotate(113)"/><ellipse rx="4.9" ry="3.4" transform="translate(774.3 1427.9)rotate(45)"/><ellipse rx="4.1" ry="3.9" transform="translate(783.3 1428.3)rotate(160)"/><ellipse rx="5.0" ry="3.3" transform="translate(706.6 1432.5)rotate(123)"/><ellipse rx="4.5" ry="3.8" transform="translate(712.7 1432.9)rotate(39)"/><ellipse rx="4.3" ry="3.2" transform="translate(721.7 1435.5)rotate(25)"/><ellipse rx="5.0" ry="3.7" transform="translate(739.0 1432.4)rotate(4)"/><ellipse rx="4.3" ry="3.8" transform="translate(765.5 1433.8)rotate(114)"/><ellipse rx="4.9" ry="3.0" transform="translate(773.3 1433.0)rotate(116)"/><ellipse rx="4.6" ry="3.1" transform="translate(780.0 1435.2)rotate(88)"/><ellipse rx="4.0" ry="3.6" transform="translate(741.5 1441.9)rotate(21)"/><ellipse rx="4.1" ry="3.6" transform="translate(765.3 1441.1)rotate(147)"/><ellipse rx="4.2" ry="3.3" transform="translate(774.1 1440.6)rotate(164)"/><ellipse rx="4.5" ry="4.0" transform="translate(783.2 1440.8)rotate(139)"/><ellipse rx="4.0" ry="3.3" transform="translate(741.2 1454.0)rotate(20)"/><ellipse rx="4.8" ry="3.7" transform="translate(758.4 1452.0)rotate(85)"/><ellipse rx="4.5" ry="3.3" transform="translate(764.0 1450.6)rotate(59)"/><ellipse rx="3.8" ry="3.2" transform="translate(781.2 1450.7)rotate(156)"/><ellipse rx="7.4" ry="7.9" transform="translate(752.3 1426.6)rotate(10)"/><ellipse rx="8.0" ry="6.6" transform="translate(753.6 1443.4)rotate(0)"/></g></g>
<g clip-path="url(#cH2)"><g filter="url(#b10)" fill="url(#ng2)"><ellipse rx="5.1" ry="4.3" transform="translate(699.6 1468.7)rotate(41)"/><ellipse rx="5.5" ry="4.1" transform="translate(726.2 1468.7)rotate(133)"/><ellipse rx="5.3" ry="4.0" transform="translate(718.3 1478.5)rotate(50)"/><ellipse rx="5.4" ry="4.4" transform="translate(738.9 1480.5)rotate(124)"/><ellipse rx="5.3" ry="3.9" transform="translate(697.7 1486.4)rotate(160)"/><ellipse rx="5.8" ry="3.7" transform="translate(770.4 1490.3)rotate(122)"/><ellipse rx="5.7" ry="4.3" transform="translate(707.5 1492.3)rotate(174)"/><ellipse rx="5.8" ry="3.8" transform="translate(718.3 1493.2)rotate(179)"/><ellipse rx="5.1" ry="4.0" transform="translate(738.0 1491.3)rotate(176)"/><ellipse rx="4.8" ry="4.0" transform="translate(698.7 1503.1)rotate(113)"/><ellipse rx="5.0" ry="3.9" transform="translate(728.1 1506.0)rotate(143)"/><ellipse rx="5.5" ry="4.3" transform="translate(752.7 1507.0)rotate(142)"/><ellipse rx="5.8" ry="4.5" transform="translate(766.4 1507.0)rotate(148)"/><ellipse rx="6.0" ry="4.1" transform="translate(778.2 1507.0)rotate(126)"/><ellipse rx="5.3" ry="4.6" transform="translate(711.4 1509.0)rotate(118)"/><ellipse rx="5.2" ry="4.3" transform="translate(745.8 1512.9)rotate(53)"/><ellipse rx="4.8" ry="4.0" transform="translate(774.3 1514.9)rotate(25)"/><ellipse rx="4.6" ry="3.7" transform="translate(699.6 1517.8)rotate(82)"/><ellipse rx="5.7" ry="3.6" transform="translate(753.7 1517.8)rotate(115)"/><ellipse rx="4.8" ry="4.1" transform="translate(760.6 1522.7)rotate(53)"/><ellipse rx="5.2" ry="4.3" transform="translate(767.4 1523.7)rotate(74)"/><ellipse rx="5.1" ry="4.3" transform="translate(709.5 1525.7)rotate(21)"/><ellipse rx="5.1" ry="4.3" transform="translate(698.7 1528.6)rotate(150)"/><ellipse rx="6.0" ry="3.9" transform="translate(738.9 1526.6)rotate(113)"/><ellipse rx="5.0" ry="4.3" transform="translate(716.3 1533.5)rotate(152)"/><ellipse rx="4.8" ry="3.9" transform="translate(744.8 1533.5)rotate(169)"/><ellipse rx="5.1" ry="4.2" transform="translate(734.0 1536.5)rotate(147)"/><ellipse rx="5.0" ry="4.4" transform="translate(703.6 1542.4)rotate(1)"/><ellipse rx="5.1" ry="3.8" transform="translate(730.1 1546.3)rotate(62)"/><ellipse rx="4.9" ry="3.6" transform="translate(780.2 1546.3)rotate(145)"/><ellipse rx="4.8" ry="4.2" transform="translate(772.3 1551.2)rotate(100)"/></g></g>
<g clip-path="url(#cD2)"><g filter="url(#b20)" fill="#4a1a1e" opacity="0.22"><ellipse rx="7.1" ry="6.4" transform="translate(790.6 1470.8)rotate(41)"/><ellipse rx="7.7" ry="6.1" transform="translate(817.2 1470.8)rotate(133)"/><ellipse rx="7.5" ry="6.0" transform="translate(809.3 1479.2)rotate(50)"/><ellipse rx="7.6" ry="6.6" transform="translate(829.9 1478.5)rotate(124)"/><ellipse rx="7.4" ry="5.9" transform="translate(788.7 1487.9)rotate(160)"/><ellipse rx="8.1" ry="5.6" transform="translate(861.4 1487.9)rotate(122)"/><ellipse rx="8.0" ry="6.4" transform="translate(798.5 1494.8)rotate(174)"/><ellipse rx="8.2" ry="5.8" transform="translate(809.3 1492.1)rotate(179)"/><ellipse rx="7.1" ry="6.0" transform="translate(829.0 1489.8)rotate(176)"/><ellipse rx="6.8" ry="6.0" transform="translate(789.7 1501.4)rotate(113)"/><ellipse rx="7.0" ry="5.8" transform="translate(819.1 1505.4)rotate(143)"/><ellipse rx="7.6" ry="6.5" transform="translate(843.7 1508.7)rotate(142)"/><ellipse rx="8.1" ry="6.7" transform="translate(857.4 1509.1)rotate(148)"/><ellipse rx="8.4" ry="6.1" transform="translate(869.2 1508.5)rotate(126)"/><ellipse rx="7.4" ry="6.9" transform="translate(802.4 1510.3)rotate(118)"/><ellipse rx="7.3" ry="6.4" transform="translate(836.8 1511.4)rotate(53)"/><ellipse rx="6.7" ry="6.0" transform="translate(865.3 1513.8)rotate(25)"/><ellipse rx="6.4" ry="5.5" transform="translate(790.6 1516.6)rotate(82)"/><ellipse rx="7.9" ry="5.5" transform="translate(844.7 1517.4)rotate(115)"/><ellipse rx="6.7" ry="6.2" transform="translate(851.6 1525.0)rotate(53)"/><ellipse rx="7.3" ry="6.5" transform="translate(858.4 1526.7)rotate(74)"/><ellipse rx="7.2" ry="6.5" transform="translate(800.5 1523.2)rotate(21)"/><ellipse rx="7.1" ry="6.5" transform="translate(789.7 1531.4)rotate(150)"/><ellipse rx="8.4" ry="5.8" transform="translate(829.9 1529.2)rotate(113)"/><ellipse rx="7.1" ry="6.5" transform="translate(807.3 1533.3)rotate(152)"/><ellipse rx="6.7" ry="5.9" transform="translate(835.8 1534.7)rotate(169)"/><ellipse rx="7.1" ry="6.3" transform="translate(825.0 1538.2)rotate(147)"/><ellipse rx="7.0" ry="6.6" transform="translate(794.6 1540.5)rotate(1)"/><ellipse rx="7.1" ry="5.7" transform="translate(821.1 1547.0)rotate(62)"/><ellipse rx="6.9" ry="5.4" transform="translate(871.2 1549.2)rotate(145)"/><ellipse rx="6.8" ry="6.3" transform="translate(863.3 1553.5)rotate(100)"/></g></g>
<g clip-path="url(#cB1)"><g fill="none" stroke="#a6a6a6" stroke-width="0.9" opacity="0.72" filter="url(#b5)"><ellipse rx="6.4" ry="6.2" transform="translate(892.2 1363.3)rotate(145)"/><ellipse rx="6.0" ry="6.6" transform="translate(915.2 1361.8)rotate(133)"/><ellipse rx="7.7" ry="5.0" transform="translate(932.8 1361.4)rotate(167)"/><ellipse rx="6.3" ry="6.5" transform="translate(948.9 1365.1)rotate(161)"/><ellipse rx="7.8" ry="5.5" transform="translate(965.5 1366.0)rotate(66)"/><ellipse rx="7.0" ry="5.8" transform="translate(894.2 1372.3)rotate(135)"/><ellipse rx="7.2" ry="5.3" transform="translate(910.7 1371.4)rotate(19)"/><ellipse rx="8.0" ry="5.8" transform="translate(933.0 1375.3)rotate(159)"/><ellipse rx="7.7" ry="4.9" transform="translate(951.9 1372.2)rotate(46)"/><ellipse rx="6.4" ry="6.5" transform="translate(968.6 1372.2)rotate(95)"/><ellipse rx="7.7" ry="5.3" transform="translate(891.0 1381.7)rotate(96)"/><ellipse rx="7.2" ry="5.3" transform="translate(909.1 1383.4)rotate(73)"/><ellipse rx="7.3" ry="5.0" transform="translate(923.1 1383.5)rotate(97)"/><ellipse rx="7.4" ry="6.3" transform="translate(942.2 1378.5)rotate(139)"/><ellipse rx="6.6" ry="4.9" transform="translate(957.4 1382.4)rotate(70)"/><ellipse rx="8.0" ry="5.3" transform="translate(891.5 1391.6)rotate(126)"/><ellipse rx="6.1" ry="4.9" transform="translate(911.0 1387.8)rotate(147)"/><ellipse rx="6.4" ry="4.9" transform="translate(924.5 1389.6)rotate(78)"/><ellipse rx="8.0" ry="5.0" transform="translate(941.9 1390.9)rotate(86)"/><ellipse rx="7.4" ry="5.2" transform="translate(960.8 1391.3)rotate(165)"/><ellipse rx="6.2" ry="5.8" transform="translate(882.0 1398.4)rotate(14)"/><ellipse rx="7.3" ry="6.0" transform="translate(898.2 1398.1)rotate(47)"/><ellipse rx="7.9" ry="5.6" transform="translate(923.9 1398.3)rotate(79)"/><ellipse rx="7.9" ry="6.0" transform="translate(939.3 1400.9)rotate(3)"/><ellipse rx="6.9" ry="6.4" transform="translate(956.5 1397.9)rotate(67)"/><ellipse rx="7.7" ry="6.4" transform="translate(889.9 1409.8)rotate(159)"/><ellipse rx="6.9" ry="6.2" transform="translate(925.7 1408.7)rotate(61)"/><ellipse rx="6.5" ry="4.9" transform="translate(951.4 1406.1)rotate(7)"/><ellipse rx="7.5" ry="5.7" transform="translate(966.7 1409.1)rotate(14)"/><ellipse rx="7.7" ry="6.2" transform="translate(899.8 1414.8)rotate(163)"/><ellipse rx="7.9" ry="6.2" transform="translate(916.1 1419.5)rotate(2)"/><ellipse rx="7.6" ry="6.1" transform="translate(944.7 1417.2)rotate(159)"/><ellipse rx="6.8" ry="5.8" transform="translate(956.7 1414.0)rotate(5)"/><ellipse rx="6.8" ry="5.9" transform="translate(880.9 1424.2)rotate(139)"/><ellipse rx="6.0" ry="6.2" transform="translate(900.1 1425.5)rotate(106)"/><ellipse rx="8.1" ry="5.1" transform="translate(925.6 1426.2)rotate(41)"/><ellipse rx="7.5" ry="5.5" transform="translate(959.9 1427.9)rotate(45)"/><ellipse rx="7.7" ry="5.3" transform="translate(892.2 1432.5)rotate(123)"/><ellipse rx="6.7" ry="5.1" transform="translate(907.3 1435.5)rotate(25)"/><ellipse rx="6.6" ry="6.1" transform="translate(951.1 1433.8)rotate(114)"/><ellipse rx="7.2" ry="5.0" transform="translate(965.6 1435.2)rotate(88)"/><ellipse rx="6.3" ry="5.8" transform="translate(950.9 1441.1)rotate(147)"/><ellipse rx="7.0" ry="6.4" transform="translate(968.8 1440.8)rotate(139)"/><ellipse rx="7.4" ry="5.9" transform="translate(944.0 1452.0)rotate(85)"/><ellipse rx="6.0" ry="5.2" transform="translate(966.8 1450.7)rotate(156)"/><ellipse rx="12.4" ry="10.6" transform="translate(939.2 1443.4)rotate(0)"/></g><g fill="none" stroke="#6c6c6c" stroke-width="0.7" opacity="0.65" filter="url(#b5)" transform="translate(0.9 0.9)"><ellipse rx="6.4" ry="6.2" transform="translate(892.2 1363.3)rotate(145)"/><ellipse rx="6.0" ry="6.6" transform="translate(915.2 1361.8)rotate(133)"/><ellipse rx="7.7" ry="5.0" transform="translate(932.8 1361.4)rotate(167)"/><ellipse rx="6.3" ry="6.5" transform="translate(948.9 1365.1)rotate(161)"/><ellipse rx="7.8" ry="5.5" transform="translate(965.5 1366.0)rotate(66)"/><ellipse rx="7.0" ry="5.8" transform="translate(894.2 1372.3)rotate(135)"/><ellipse rx="7.2" ry="5.3" transform="translate(910.7 1371.4)rotate(19)"/><ellipse rx="8.0" ry="5.8" transform="translate(933.0 1375.3)rotate(159)"/><ellipse rx="7.7" ry="4.9" transform="translate(951.9 1372.2)rotate(46)"/><ellipse rx="6.4" ry="6.5" transform="translate(968.6 1372.2)rotate(95)"/><ellipse rx="7.7" ry="5.3" transform="translate(891.0 1381.7)rotate(96)"/><ellipse rx="7.2" ry="5.3" transform="translate(909.1 1383.4)rotate(73)"/><ellipse rx="7.3" ry="5.0" transform="translate(923.1 1383.5)rotate(97)"/><ellipse rx="7.4" ry="6.3" transform="translate(942.2 1378.5)rotate(139)"/><ellipse rx="6.6" ry="4.9" transform="translate(957.4 1382.4)rotate(70)"/><ellipse rx="8.0" ry="5.3" transform="translate(891.5 1391.6)rotate(126)"/><ellipse rx="6.1" ry="4.9" transform="translate(911.0 1387.8)rotate(147)"/><ellipse rx="6.4" ry="4.9" transform="translate(924.5 1389.6)rotate(78)"/><ellipse rx="8.0" ry="5.0" transform="translate(941.9 1390.9)rotate(86)"/><ellipse rx="7.4" ry="5.2" transform="translate(960.8 1391.3)rotate(165)"/><ellipse rx="6.2" ry="5.8" transform="translate(882.0 1398.4)rotate(14)"/><ellipse rx="7.3" ry="6.0" transform="translate(898.2 1398.1)rotate(47)"/><ellipse rx="7.9" ry="5.6" transform="translate(923.9 1398.3)rotate(79)"/><ellipse rx="7.9" ry="6.0" transform="translate(939.3 1400.9)rotate(3)"/><ellipse rx="6.9" ry="6.4" transform="translate(956.5 1397.9)rotate(67)"/><ellipse rx="7.7" ry="6.4" transform="translate(889.9 1409.8)rotate(159)"/><ellipse rx="6.9" ry="6.2" transform="translate(925.7 1408.7)rotate(61)"/><ellipse rx="6.5" ry="4.9" transform="translate(951.4 1406.1)rotate(7)"/><ellipse rx="7.5" ry="5.7" transform="translate(966.7 1409.1)rotate(14)"/><ellipse rx="7.7" ry="6.2" transform="translate(899.8 1414.8)rotate(163)"/><ellipse rx="7.9" ry="6.2" transform="translate(916.1 1419.5)rotate(2)"/><ellipse rx="7.6" ry="6.1" transform="translate(944.7 1417.2)rotate(159)"/><ellipse rx="6.8" ry="5.8" transform="translate(956.7 1414.0)rotate(5)"/><ellipse rx="6.8" ry="5.9" transform="translate(880.9 1424.2)rotate(139)"/><ellipse rx="6.0" ry="6.2" transform="translate(900.1 1425.5)rotate(106)"/><ellipse rx="8.1" ry="5.1" transform="translate(925.6 1426.2)rotate(41)"/><ellipse rx="7.5" ry="5.5" transform="translate(959.9 1427.9)rotate(45)"/><ellipse rx="7.7" ry="5.3" transform="translate(892.2 1432.5)rotate(123)"/><ellipse rx="6.7" ry="5.1" transform="translate(907.3 1435.5)rotate(25)"/><ellipse rx="6.6" ry="6.1" transform="translate(951.1 1433.8)rotate(114)"/><ellipse rx="7.2" ry="5.0" transform="translate(965.6 1435.2)rotate(88)"/><ellipse rx="6.3" ry="5.8" transform="translate(950.9 1441.1)rotate(147)"/><ellipse rx="7.0" ry="6.4" transform="translate(968.8 1440.8)rotate(139)"/><ellipse rx="7.4" ry="5.9" transform="translate(944.0 1452.0)rotate(85)"/><ellipse rx="6.0" ry="5.2" transform="translate(966.8 1450.7)rotate(156)"/><ellipse rx="12.4" ry="10.6" transform="translate(939.2 1443.4)rotate(0)"/></g></g>
<g clip-path="url(#cM1)"><g fill="none" stroke="#a2a2aa" stroke-width="0.8" opacity="0.6" filter="url(#b5)"><ellipse rx="6.4" ry="6.2" transform="translate(985.6 1363.3)rotate(145)"/><ellipse rx="6.0" ry="6.6" transform="translate(1008.6 1361.8)rotate(133)"/><ellipse rx="7.7" ry="5.0" transform="translate(1026.2 1361.4)rotate(167)"/><ellipse rx="6.3" ry="6.5" transform="translate(1042.3 1365.1)rotate(161)"/><ellipse rx="7.8" ry="5.5" transform="translate(1058.9 1366.0)rotate(66)"/><ellipse rx="7.0" ry="5.8" transform="translate(987.6 1372.3)rotate(135)"/><ellipse rx="7.2" ry="5.3" transform="translate(1004.1 1371.4)rotate(19)"/><ellipse rx="8.0" ry="5.8" transform="translate(1026.4 1375.3)rotate(159)"/><ellipse rx="7.7" ry="4.9" transform="translate(1045.3 1372.2)rotate(46)"/><ellipse rx="6.4" ry="6.5" transform="translate(1062.0 1372.2)rotate(95)"/><ellipse rx="7.7" ry="5.3" transform="translate(984.4 1381.7)rotate(96)"/><ellipse rx="7.2" ry="5.3" transform="translate(1002.5 1383.4)rotate(73)"/><ellipse rx="7.3" ry="5.0" transform="translate(1016.5 1383.5)rotate(97)"/><ellipse rx="7.4" ry="6.3" transform="translate(1035.6 1378.5)rotate(139)"/><ellipse rx="6.6" ry="4.9" transform="translate(1050.8 1382.4)rotate(70)"/><ellipse rx="8.0" ry="5.3" transform="translate(984.9 1391.6)rotate(126)"/><ellipse rx="6.1" ry="4.9" transform="translate(1004.4 1387.8)rotate(147)"/><ellipse rx="6.4" ry="4.9" transform="translate(1017.9 1389.6)rotate(78)"/><ellipse rx="8.0" ry="5.0" transform="translate(1035.3 1390.9)rotate(86)"/><ellipse rx="7.4" ry="5.2" transform="translate(1054.2 1391.3)rotate(165)"/><ellipse rx="6.2" ry="5.8" transform="translate(975.4 1398.4)rotate(14)"/><ellipse rx="7.3" ry="6.0" transform="translate(991.6 1398.1)rotate(47)"/><ellipse rx="7.9" ry="5.6" transform="translate(1017.3 1398.3)rotate(79)"/><ellipse rx="7.9" ry="6.0" transform="translate(1032.7 1400.9)rotate(3)"/><ellipse rx="6.9" ry="6.4" transform="translate(1049.9 1397.9)rotate(67)"/><ellipse rx="7.7" ry="6.4" transform="translate(983.3 1409.8)rotate(159)"/><ellipse rx="6.9" ry="6.2" transform="translate(1019.1 1408.7)rotate(61)"/><ellipse rx="6.5" ry="4.9" transform="translate(1044.8 1406.1)rotate(7)"/><ellipse rx="7.5" ry="5.7" transform="translate(1060.1 1409.1)rotate(14)"/><ellipse rx="7.7" ry="6.2" transform="translate(993.2 1414.8)rotate(163)"/><ellipse rx="7.9" ry="6.2" transform="translate(1009.5 1419.5)rotate(2)"/><ellipse rx="7.6" ry="6.1" transform="translate(1038.1 1417.2)rotate(159)"/><ellipse rx="6.8" ry="5.8" transform="translate(1050.1 1414.0)rotate(5)"/><ellipse rx="6.8" ry="5.9" transform="translate(974.3 1424.2)rotate(139)"/><ellipse rx="6.0" ry="6.2" transform="translate(993.5 1425.5)rotate(106)"/><ellipse rx="8.1" ry="5.1" transform="translate(1019.0 1426.2)rotate(41)"/><ellipse rx="7.5" ry="5.5" transform="translate(1053.3 1427.9)rotate(45)"/><ellipse rx="7.7" ry="5.3" transform="translate(985.6 1432.5)rotate(123)"/><ellipse rx="6.7" ry="5.1" transform="translate(1000.7 1435.5)rotate(25)"/><ellipse rx="6.6" ry="6.1" transform="translate(1044.5 1433.8)rotate(114)"/><ellipse rx="7.2" ry="5.0" transform="translate(1059.0 1435.2)rotate(88)"/><ellipse rx="6.3" ry="5.8" transform="translate(1044.3 1441.1)rotate(147)"/><ellipse rx="7.0" ry="6.4" transform="translate(1062.2 1440.8)rotate(139)"/><ellipse rx="7.4" ry="5.9" transform="translate(1037.4 1452.0)rotate(85)"/><ellipse rx="6.0" ry="5.2" transform="translate(1060.2 1450.7)rotate(156)"/><ellipse rx="12.4" ry="10.6" transform="translate(1032.6 1443.4)rotate(0)"/></g><g filter="url(#b5)" fill="#6462d2" opacity="0.72"><ellipse rx="4.1" ry="3.9" transform="translate(985.6 1363.3)rotate(145)"/><ellipse rx="3.8" ry="3.4" transform="translate(993.3 1361.9)rotate(105)"/><ellipse rx="3.9" ry="4.1" transform="translate(1008.6 1361.8)rotate(133)"/><ellipse rx="4.3" ry="3.5" transform="translate(1019.2 1360.7)rotate(21)"/><ellipse rx="4.9" ry="3.1" transform="translate(1026.2 1361.4)rotate(167)"/><ellipse rx="4.5" ry="3.2" transform="translate(1035.6 1362.5)rotate(7)"/><ellipse rx="4.1" ry="4.1" transform="translate(1042.3 1365.1)rotate(161)"/><ellipse rx="4.8" ry="3.1" transform="translate(1053.7 1363.9)rotate(86)"/><ellipse rx="5.0" ry="3.5" transform="translate(1058.9 1366.0)rotate(66)"/><ellipse rx="4.3" ry="3.0" transform="translate(975.8 1375.3)rotate(17)"/><ellipse rx="4.5" ry="3.6" transform="translate(987.6 1372.3)rotate(135)"/><ellipse rx="4.7" ry="3.2" transform="translate(993.9 1372.7)rotate(31)"/><ellipse rx="4.6" ry="3.3" transform="translate(1004.1 1371.4)rotate(19)"/><ellipse rx="4.8" ry="3.7" transform="translate(1020.1 1371.6)rotate(162)"/><ellipse rx="5.1" ry="3.6" transform="translate(1026.4 1375.3)rotate(159)"/><ellipse rx="5.0" ry="3.2" transform="translate(1034.7 1370.8)rotate(12)"/><ellipse rx="5.0" ry="3.1" transform="translate(1045.3 1372.2)rotate(46)"/><ellipse rx="3.9" ry="3.4" transform="translate(1051.7 1370.4)rotate(162)"/><ellipse rx="4.2" ry="4.1" transform="translate(1062.0 1372.2)rotate(95)"/><ellipse rx="5.0" ry="3.9" transform="translate(973.8 1379.5)rotate(159)"/><ellipse rx="5.0" ry="3.3" transform="translate(984.4 1381.7)rotate(96)"/><ellipse rx="4.8" ry="4.0" transform="translate(994.8 1378.3)rotate(4)"/><ellipse rx="4.6" ry="3.3" transform="translate(1002.5 1383.4)rotate(73)"/><ellipse rx="3.9" ry="3.1" transform="translate(1012.4 1379.1)rotate(5)"/><ellipse rx="4.7" ry="3.1" transform="translate(1016.5 1383.5)rotate(97)"/><ellipse rx="4.0" ry="3.2" transform="translate(1026.9 1379.6)rotate(68)"/><ellipse rx="4.8" ry="4.0" transform="translate(1035.6 1378.5)rotate(139)"/><ellipse rx="3.9" ry="3.8" transform="translate(1041.0 1381.0)rotate(32)"/><ellipse rx="4.2" ry="3.0" transform="translate(1050.8 1382.4)rotate(70)"/><ellipse rx="4.5" ry="3.6" transform="translate(1062.9 1380.0)rotate(171)"/><ellipse rx="5.2" ry="3.3" transform="translate(984.9 1391.6)rotate(126)"/><ellipse rx="4.9" ry="4.1" transform="translate(993.6 1387.5)rotate(64)"/><ellipse rx="3.9" ry="3.1" transform="translate(1004.4 1387.8)rotate(147)"/><ellipse rx="3.8" ry="3.7" transform="translate(1009.8 1390.9)rotate(80)"/><ellipse rx="4.1" ry="3.1" transform="translate(1017.9 1389.6)rotate(78)"/><ellipse rx="4.8" ry="3.5" transform="translate(1028.1 1392.1)rotate(43)"/><ellipse rx="5.1" ry="3.1" transform="translate(1035.3 1390.9)rotate(86)"/><ellipse rx="4.9" ry="3.7" transform="translate(1045.0 1392.5)rotate(137)"/><ellipse rx="4.8" ry="3.3" transform="translate(1054.2 1391.3)rotate(165)"/><ellipse rx="5.1" ry="4.1" transform="translate(1061.3 1392.1)rotate(1)"/><ellipse rx="4.0" ry="3.6" transform="translate(975.4 1398.4)rotate(14)"/><ellipse rx="4.4" ry="3.1" transform="translate(987.3 1400.5)rotate(172)"/><ellipse rx="4.7" ry="3.7" transform="translate(991.6 1398.1)rotate(47)"/><ellipse rx="5.0" ry="3.2" transform="translate(1000.7 1397.6)rotate(123)"/><ellipse rx="5.1" ry="3.5" transform="translate(1017.3 1398.3)rotate(79)"/><ellipse rx="4.3" ry="3.3" transform="translate(1025.7 1397.1)rotate(34)"/><ellipse rx="5.1" ry="3.8" transform="translate(1032.7 1400.9)rotate(3)"/><ellipse rx="4.8" ry="3.3" transform="translate(1041.2 1399.7)rotate(1)"/><ellipse rx="4.4" ry="4.0" transform="translate(1049.9 1397.9)rotate(67)"/><ellipse rx="3.9" ry="3.2" transform="translate(978.2 1408.1)rotate(73)"/><ellipse rx="5.0" ry="4.0" transform="translate(983.3 1409.8)rotate(159)"/><ellipse rx="4.8" ry="3.8" transform="translate(999.3 1410.3)rotate(34)"/><ellipse rx="4.5" ry="3.9" transform="translate(1019.1 1408.7)rotate(61)"/><ellipse rx="4.7" ry="4.0" transform="translate(1026.1 1406.7)rotate(13)"/><ellipse rx="4.2" ry="3.1" transform="translate(1044.8 1406.1)rotate(7)"/><ellipse rx="4.0" ry="3.1" transform="translate(1053.2 1408.9)rotate(168)"/><ellipse rx="4.8" ry="3.6" transform="translate(1060.1 1409.1)rotate(14)"/><ellipse rx="4.3" ry="3.6" transform="translate(974.8 1414.1)rotate(113)"/><ellipse rx="5.0" ry="3.9" transform="translate(993.2 1414.8)rotate(163)"/><ellipse rx="5.1" ry="3.6" transform="translate(1000.1 1418.5)rotate(164)"/><ellipse rx="5.1" ry="3.9" transform="translate(1009.5 1419.5)rotate(2)"/><ellipse rx="4.9" ry="3.7" transform="translate(1019.1 1417.5)rotate(29)"/><ellipse rx="4.9" ry="3.8" transform="translate(1038.1 1417.2)rotate(159)"/><ellipse rx="4.0" ry="3.6" transform="translate(1041.4 1416.3)rotate(147)"/><ellipse rx="4.4" ry="3.6" transform="translate(1050.1 1414.0)rotate(5)"/><ellipse rx="5.1" ry="3.6" transform="translate(1059.0 1414.5)rotate(161)"/><ellipse rx="4.4" ry="3.7" transform="translate(974.3 1424.2)rotate(139)"/><ellipse rx="4.4" ry="3.4" transform="translate(985.7 1424.3)rotate(88)"/><ellipse rx="3.8" ry="3.9" transform="translate(993.5 1425.5)rotate(106)"/><ellipse rx="5.2" ry="3.4" transform="translate(1003.0 1427.1)rotate(71)"/><ellipse rx="5.2" ry="3.2" transform="translate(1019.0 1426.2)rotate(41)"/><ellipse rx="4.4" ry="3.4" transform="translate(1045.6 1425.7)rotate(113)"/><ellipse rx="4.9" ry="3.4" transform="translate(1053.3 1427.9)rotate(45)"/><ellipse rx="4.1" ry="3.9" transform="translate(1062.3 1428.3)rotate(160)"/><ellipse rx="5.0" ry="3.3" transform="translate(985.6 1432.5)rotate(123)"/><ellipse rx="4.5" ry="3.8" transform="translate(991.7 1432.9)rotate(39)"/><ellipse rx="4.3" ry="3.2" transform="translate(1000.7 1435.5)rotate(25)"/><ellipse rx="5.0" ry="3.7" transform="translate(1018.0 1432.4)rotate(4)"/><ellipse rx="4.3" ry="3.8" transform="translate(1044.5 1433.8)rotate(114)"/><ellipse rx="4.9" ry="3.0" transform="translate(1052.3 1433.0)rotate(116)"/><ellipse rx="4.6" ry="3.1" transform="translate(1059.0 1435.2)rotate(88)"/><ellipse rx="4.0" ry="3.6" transform="translate(1020.5 1441.9)rotate(21)"/><ellipse rx="4.1" ry="3.6" transform="translate(1044.3 1441.1)rotate(147)"/><ellipse rx="4.2" ry="3.3" transform="translate(1053.1 1440.6)rotate(164)"/><ellipse rx="4.5" ry="4.0" transform="translate(1062.2 1440.8)rotate(139)"/><ellipse rx="4.0" ry="3.3" transform="translate(1020.2 1454.0)rotate(20)"/><ellipse rx="4.8" ry="3.7" transform="translate(1037.4 1452.0)rotate(85)"/><ellipse rx="4.5" ry="3.3" transform="translate(1043.0 1450.6)rotate(59)"/><ellipse rx="3.8" ry="3.2" transform="translate(1060.2 1450.7)rotate(156)"/><ellipse rx="7.4" ry="7.9" transform="translate(1031.3 1426.6)rotate(10)"/><ellipse rx="8.0" ry="6.6" transform="translate(1032.6 1443.4)rotate(0)"/></g></g>
<g clip-path="url(#cB2)"><g fill="none" stroke="#9c9c9c" stroke-width="0.9" opacity="0.72" filter="url(#b5)"><ellipse rx="12.2" ry="7.3" transform="translate(885.2 1468.7)rotate(41)"/><ellipse rx="12.8" ry="6.8" transform="translate(903.9 1478.5)rotate(50)"/><ellipse rx="12.7" ry="6.7" transform="translate(883.3 1486.4)rotate(160)"/><ellipse rx="13.6" ry="7.3" transform="translate(893.1 1492.3)rotate(174)"/><ellipse rx="12.1" ry="6.8" transform="translate(923.6 1491.3)rotate(176)"/><ellipse rx="12.0" ry="6.6" transform="translate(913.7 1506.0)rotate(143)"/><ellipse rx="14.0" ry="7.6" transform="translate(952.0 1507.0)rotate(148)"/><ellipse rx="12.8" ry="7.8" transform="translate(897.0 1509.0)rotate(118)"/><ellipse rx="11.5" ry="6.8" transform="translate(959.9 1514.9)rotate(25)"/><ellipse rx="13.6" ry="6.2" transform="translate(939.3 1517.8)rotate(115)"/><ellipse rx="12.5" ry="7.3" transform="translate(953.0 1523.7)rotate(74)"/><ellipse rx="12.2" ry="7.3" transform="translate(884.3 1528.6)rotate(150)"/><ellipse rx="12.1" ry="7.3" transform="translate(901.9 1533.5)rotate(152)"/><ellipse rx="12.2" ry="7.2" transform="translate(919.6 1536.5)rotate(147)"/><ellipse rx="12.2" ry="6.4" transform="translate(915.7 1546.3)rotate(62)"/><ellipse rx="11.6" ry="7.1" transform="translate(957.9 1551.2)rotate(100)"/></g><g fill="none" stroke="#646464" stroke-width="0.7" opacity="0.65" filter="url(#b5)" transform="translate(0.9 0.9)"><ellipse rx="12.2" ry="7.3" transform="translate(885.2 1468.7)rotate(41)"/><ellipse rx="12.8" ry="6.8" transform="translate(903.9 1478.5)rotate(50)"/><ellipse rx="12.7" ry="6.7" transform="translate(883.3 1486.4)rotate(160)"/><ellipse rx="13.6" ry="7.3" transform="translate(893.1 1492.3)rotate(174)"/><ellipse rx="12.1" ry="6.8" transform="translate(923.6 1491.3)rotate(176)"/><ellipse rx="12.0" ry="6.6" transform="translate(913.7 1506.0)rotate(143)"/><ellipse rx="14.0" ry="7.6" transform="translate(952.0 1507.0)rotate(148)"/><ellipse rx="12.8" ry="7.8" transform="translate(897.0 1509.0)rotate(118)"/><ellipse rx="11.5" ry="6.8" transform="translate(959.9 1514.9)rotate(25)"/><ellipse rx="13.6" ry="6.2" transform="translate(939.3 1517.8)rotate(115)"/><ellipse rx="12.5" ry="7.3" transform="translate(953.0 1523.7)rotate(74)"/><ellipse rx="12.2" ry="7.3" transform="translate(884.3 1528.6)rotate(150)"/><ellipse rx="12.1" ry="7.3" transform="translate(901.9 1533.5)rotate(152)"/><ellipse rx="12.2" ry="7.2" transform="translate(919.6 1536.5)rotate(147)"/><ellipse rx="12.2" ry="6.4" transform="translate(915.7 1546.3)rotate(62)"/><ellipse rx="11.6" ry="7.1" transform="translate(957.9 1551.2)rotate(100)"/></g></g>
<g clip-path="url(#cM2)"><g fill="none" stroke="#9a9aa2" stroke-width="0.8" opacity="0.6" filter="url(#b5)"><ellipse rx="12.2" ry="7.3" transform="translate(978.6 1468.7)rotate(41)"/><ellipse rx="12.8" ry="6.8" transform="translate(997.3 1478.5)rotate(50)"/><ellipse rx="12.7" ry="6.7" transform="translate(976.7 1486.4)rotate(160)"/><ellipse rx="13.6" ry="7.3" transform="translate(986.5 1492.3)rotate(174)"/><ellipse rx="12.1" ry="6.8" transform="translate(1017.0 1491.3)rotate(176)"/><ellipse rx="12.0" ry="6.6" transform="translate(1007.1 1506.0)rotate(143)"/><ellipse rx="14.0" ry="7.6" transform="translate(1045.4 1507.0)rotate(148)"/><ellipse rx="12.8" ry="7.8" transform="translate(990.4 1509.0)rotate(118)"/><ellipse rx="11.5" ry="6.8" transform="translate(1053.3 1514.9)rotate(25)"/><ellipse rx="13.6" ry="6.2" transform="translate(1032.7 1517.8)rotate(115)"/><ellipse rx="12.5" ry="7.3" transform="translate(1046.4 1523.7)rotate(74)"/><ellipse rx="12.2" ry="7.3" transform="translate(977.7 1528.6)rotate(150)"/><ellipse rx="12.1" ry="7.3" transform="translate(995.3 1533.5)rotate(152)"/><ellipse rx="12.2" ry="7.2" transform="translate(1013.0 1536.5)rotate(147)"/><ellipse rx="12.2" ry="6.4" transform="translate(1009.1 1546.3)rotate(62)"/><ellipse rx="11.6" ry="7.1" transform="translate(1051.3 1551.2)rotate(100)"/></g><g filter="url(#b10)" fill="#5a54ee" opacity="0.82"><ellipse rx="5.1" ry="4.3" transform="translate(978.6 1468.7)rotate(41)"/><ellipse rx="5.5" ry="4.1" transform="translate(1005.2 1468.7)rotate(133)"/><ellipse rx="5.3" ry="4.0" transform="translate(997.3 1478.5)rotate(50)"/><ellipse rx="5.4" ry="4.4" transform="translate(1017.9 1480.5)rotate(124)"/><ellipse rx="5.3" ry="3.9" transform="translate(976.7 1486.4)rotate(160)"/><ellipse rx="5.8" ry="3.7" transform="translate(1049.4 1490.3)rotate(122)"/><ellipse rx="5.7" ry="4.3" transform="translate(986.5 1492.3)rotate(174)"/><ellipse rx="5.8" ry="3.8" transform="translate(997.3 1493.2)rotate(179)"/><ellipse rx="5.1" ry="4.0" transform="translate(1017.0 1491.3)rotate(176)"/><ellipse rx="4.8" ry="4.0" transform="translate(977.7 1503.1)rotate(113)"/><ellipse rx="5.0" ry="3.9" transform="translate(1007.1 1506.0)rotate(143)"/><ellipse rx="5.5" ry="4.3" transform="translate(1031.7 1507.0)rotate(142)"/><ellipse rx="5.8" ry="4.5" transform="translate(1045.4 1507.0)rotate(148)"/><ellipse rx="6.0" ry="4.1" transform="translate(1057.2 1507.0)rotate(126)"/><ellipse rx="5.3" ry="4.6" transform="translate(990.4 1509.0)rotate(118)"/><ellipse rx="5.2" ry="4.3" transform="translate(1024.8 1512.9)rotate(53)"/><ellipse rx="4.8" ry="4.0" transform="translate(1053.3 1514.9)rotate(25)"/><ellipse rx="4.6" ry="3.7" transform="translate(978.6 1517.8)rotate(82)"/><ellipse rx="5.7" ry="3.6" transform="translate(1032.7 1517.8)rotate(115)"/><ellipse rx="4.8" ry="4.1" transform="translate(1039.6 1522.7)rotate(53)"/><ellipse rx="5.2" ry="4.3" transform="translate(1046.4 1523.7)rotate(74)"/><ellipse rx="5.1" ry="4.3" transform="translate(988.5 1525.7)rotate(21)"/><ellipse rx="5.1" ry="4.3" transform="translate(977.7 1528.6)rotate(150)"/><ellipse rx="6.0" ry="3.9" transform="translate(1017.9 1526.6)rotate(113)"/><ellipse rx="5.0" ry="4.3" transform="translate(995.3 1533.5)rotate(152)"/><ellipse rx="4.8" ry="3.9" transform="translate(1023.8 1533.5)rotate(169)"/><ellipse rx="5.1" ry="4.2" transform="translate(1013.0 1536.5)rotate(147)"/><ellipse rx="5.0" ry="4.4" transform="translate(982.6 1542.4)rotate(1)"/><ellipse rx="5.1" ry="3.8" transform="translate(1009.1 1546.3)rotate(62)"/><ellipse rx="4.9" ry="3.6" transform="translate(1059.2 1546.3)rotate(145)"/><ellipse rx="4.8" ry="4.2" transform="translate(1051.3 1551.2)rotate(100)"/></g></g>
<rect x="878.8" y="1359" width="186.1" height="195.2" filter="url(#gr)"/>
<path d="M785.9,1359V1456.9" stroke="#7a7a86" stroke-width="0.7"/><path d="M878.7,1358V1456.9" stroke="#4a4ae6" stroke-width="0.9"/>
<path d="M878.8,1457.5H1064.9M972.2,1359V1457.5M879.2,1359V1457.5" stroke="#111" stroke-width="0.9" fill="none"/>
<path d="M693.2,1554.2H1064.9" stroke="#555" stroke-width="0.5"/>
<g font-family="'Liberation Sans',sans-serif" font-size="3.4" fill="#eee"><path d="M695.3,1546.3h11.4M695.3,1545.3999999999999v1.8M706.6999999999999,1545.3999999999999v1.8" stroke="#e8e8e8" stroke-width="0.5" fill="none"/><text x="695.5" y="1551.8999999999999">20 µm</text><path d="M789.3,1546.3h11.4M789.3,1545.3999999999999v1.8M800.6999999999999,1545.3999999999999v1.8" stroke="#e8e8e8" stroke-width="0.5" fill="none"/><text x="789.5" y="1551.8999999999999">20 µm</text><path d="M881,1547h11.4M881,1546.1v1.8M892.4,1546.1v1.8" stroke="#e8e8e8" stroke-width="0.5" fill="none"/><text x="881.2" y="1552.6">20 µm</text><path d="M974.5,1547h11.4M974.5,1546.1v1.8M985.9,1546.1v1.8" stroke="#e8e8e8" stroke-width="0.5" fill="none"/><text x="974.7" y="1552.6">20 µm</text><path d="M695.4,1449.6h11" stroke="#c8c8c8" stroke-width="0.35" fill="none" opacity="0.7"/><text x="697.4" y="1454.1999999999998" font-size="2.8">20 µm</text><path d="M787.8,1448.6h11" stroke="#c8c8c8" stroke-width="0.35" fill="none" opacity="0.7"/><text x="789.8" y="1453.1999999999998" font-size="2.8">20 µm</text><path d="M881,1450h11" stroke="#c8c8c8" stroke-width="0.35" fill="none" opacity="0.7"/><text x="883" y="1454.6" font-size="2.8">20 µm</text><path d="M974,1449.6h11" stroke="#c8c8c8" stroke-width="0.35" fill="none" opacity="0.7"/><text x="976" y="1454.1999999999998" font-size="2.8">20 µm</text></g>
</svg>
<div class="t" style="left:33.40px;top:15.52px;font-size:34px;line-height:44.2px;font-family:'Liberation Serif', serif;font-weight:bold;color:#3a2e6e;transform:scaleX(1.1449);-webkit-text-stroke:0.35px #3a2e6e;">Science &amp; Humanities</div>
<div class="t" style="left:33.60px;top:56.72px;font-size:34px;line-height:44.2px;font-family:'Liberation Serif', serif;color:#3a2e6e;transform:scaleX(1.0243);-webkit-text-stroke:0.55px #3a2e6e;">7th Scientific &amp; Research</div>
<div class="t" style="left:33.60px;top:95.03px;font-size:34px;line-height:44.2px;font-family:'Liberation Serif', serif;color:#3a2e6e;transform:scaleX(1.0068);-webkit-text-stroke:0.55px #3a2e6e;">Day~ Poster Competition</div>
<div class="t" style="left:35.20px;top:248.10px;font-size:29.4px;line-height:38.22px;transform:scaleX(1.1173);">UG-S09-AlBathi 2016</div>
<div class="t" style="left:6.60px;top:334.90px;font-size:28.4px;line-height:36.92px;font-weight:bold;transform:scaleX(1.1255);">Proteomic Analysis and Drug Delivery of Colorectal Cancer: Identificatio</div>
<div class="t" style="left:15.40px;top:379.20px;font-size:28.4px;line-height:36.92px;font-weight:bold;transform:scaleX(1.1330);">of biomarkers and targeted drug delivery using liposomes nanoparticle</div>
<div class="t" style="left:91.00px;top:421.48px;font-size:21.5px;line-height:27.95px;transform:scaleX(1.0424);"><u>Rahaf Saleh Al-Bathi</u>, Kholoud Al-Amoudi, Zakia Shinawari, Niveen Khashab*, Ayodele Alaiya*</div>
<div class="t" style="left:19.10px;top:482.19px;font-size:26.6px;line-height:34.58px;font-weight:bold;color:#254d84;transform:scaleX(0.8618);-webkit-text-stroke:0.9px #254d84;">Introduction:</div>
<div class="t" style="left:22.00px;top:856.89px;font-size:26.6px;line-height:34.58px;font-weight:bold;color:#254d84;transform:scaleX(0.8188);-webkit-text-stroke:0.9px #254d84;">Aim:</div>
<div class="t" style="left:21.30px;top:1234.59px;font-size:26.6px;line-height:34.58px;font-weight:bold;color:#254d84;transform:scaleX(0.8439);-webkit-text-stroke:0.9px #254d84;">Methodology:</div>
<div class="t" style="left:636.10px;top:481.69px;font-size:26.6px;line-height:34.58px;font-weight:bold;color:#254d84;transform:scaleX(0.8168);-webkit-text-stroke:0.9px #254d84;">Results:</div>
<div class="t" style="left:632.90px;top:1622.99px;font-size:26.6px;line-height:34.58px;font-weight:bold;color:#254d84;transform:scaleX(0.8227);-webkit-text-stroke:0.9px #254d84;">Summery:</div>
<div class="t" style="left:638.40px;top:1838.19px;font-size:26.6px;line-height:34.58px;font-weight:bold;color:#254d84;transform:scaleX(0.8366);-webkit-text-stroke:0.9px #254d84;">Acknowledgment:</div>
<div class="t" style="left:47.20px;top:528.48px;font-size:21.8px;line-height:28.34px;transform:scaleX(1.0110);">Colorectal cancer (CRC) has been the second common</div>
<div class="t" style="left:24.80px;top:564.02px;font-size:21.8px;line-height:28.34px;transform:scaleX(1.0486);">cancer among men and the fourth commonest among</div>
<div class="t" style="left:24.80px;top:599.56px;font-size:21.8px;line-height:28.34px;transform:scaleX(1.0244);">women since 2012 in Saudi Arabia (Oncology Center</div>
<div class="t" style="left:24.80px;top:635.10px;font-size:21.8px;line-height:28.34px;">Research Unit, KFSHRC, Tumor Registry Annual Report</div>
<div class="t" style="left:24.80px;top:670.64px;font-size:21.8px;line-height:28.34px;transform:scaleX(1.0441);">2013). Therefore, developing an early detection and</div>
<div class="t" style="left:24.80px;top:706.18px;font-size:21.8px;line-height:28.34px;transform:scaleX(1.0706);">targeted treatment approach may offer potential cure for</div>
<div class="t" style="left:24.80px;top:741.72px;font-size:21.8px;line-height:28.34px;transform:scaleX(1.0333);">the disease and save human lives. Identification and</div>
<div class="t" style="left:24.80px;top:777.26px;font-size:21.8px;line-height:28.34px;transform:scaleX(1.0465);">quantification of the expressed proteins in cells are</div>
<div class="t" style="left:24.80px;top:812.80px;font-size:21.8px;line-height:28.34px;transform:scaleX(1.0328);">among greatest challenges in the post-genomic era.</div>
<div class="t" style="left:47.20px;top:904.08px;font-size:21.8px;line-height:28.34px;transform:scaleX(1.0352);">This project aims to analyze global protein expression</div>
<div class="t" style="left:24.80px;top:939.58px;font-size:21.8px;line-height:28.34px;transform:scaleX(1.0476);">patterns from patients diagnosed with colon cancer using</div>
<div class="t" style="left:24.80px;top:975.08px;font-size:21.8px;line-height:28.34px;transform:scaleX(1.0469);">a combination of proteomic techniques. The used</div>
<div class="t" style="left:24.80px;top:1010.58px;font-size:21.8px;line-height:28.34px;transform:scaleX(1.0567);">techniques are of clinical importance to improve the</div>
<div class="t" style="left:24.80px;top:1046.08px;font-size:21.8px;line-height:28.34px;transform:scaleX(1.0381);">diagnosis and management of colorectal cancer patients.</div>
<div class="t" style="left:24.80px;top:1081.58px;font-size:21.8px;line-height:28.34px;transform:scaleX(1.0422);">In addition, pH sensitive liposomal drug delivery system</div>
<div class="t" style="left:24.80px;top:1117.08px;font-size:21.8px;line-height:28.34px;transform:scaleX(1.0286);">was used and successfully targeted colorectal cancer cell</div>
<div class="t" style="left:24.80px;top:1152.58px;font-size:21.8px;line-height:28.34px;transform:scaleX(1.0485);">line HCT-116. This could be further functionalized to</div>
<div class="t" style="left:24.80px;top:1188.08px;font-size:21.8px;line-height:28.34px;transform:scaleX(1.0480);">target specific biomarkers.</div>
<div class="t" style="left:26.60px;top:1285.78px;font-size:21.8px;line-height:28.34px;font-weight:bold;transform:scaleX(0.9726);"><u>Proteomic analysis:</u></div>
<div class="t" style="left:50.20px;top:1315.41px;font-size:21.8px;line-height:28.34px;transform:scaleX(1.0517);">Twenty fresh -frozen tumor tissues were collected from</div>
<div class="t" style="left:26.60px;top:1345.04px;font-size:21.8px;line-height:28.34px;transform:scaleX(1.0181);">patients at KFSH&amp;RC. Samples were divided into four</div>
<div class="t" style="left:26.60px;top:1374.67px;font-size:21.8px;line-height:28.34px;transform:scaleX(1.0478);">groups; group 1, patients with good prognosis, group2,</div>
<div class="t" style="left:26.60px;top:1404.30px;font-size:21.8px;line-height:28.34px;transform:scaleX(1.0669);">patients with poor prognosis, group 3 patients without</div>
<div class="t" style="left:26.60px;top:1433.93px;font-size:21.8px;line-height:28.34px;transform:scaleX(1.0475);">lymph node metastasis, and group 4, patients with</div>
<div class="t" style="left:26.60px;top:1463.56px;font-size:21.8px;line-height:28.34px;transform:scaleX(1.0343);">positive node metastasis. The  analysis of  global protein</div>
<div class="t" style="left:26.60px;top:1493.19px;font-size:21.8px;line-height:28.34px;transform:scaleX(1.0489);">expression patterns from the patients by using</div>
<div class="t" style="left:26.60px;top:1522.82px;font-size:21.8px;line-height:28.34px;transform:scaleX(1.0622);">proteomics techniques including fluorescent differential</div>
<div class="t" style="left:26.60px;top:1552.45px;font-size:21.8px;line-height:28.34px;transform:scaleX(1.0559);">two-dimensional gel electrophoresis and high definition</div>
<div class="t" style="left:26.60px;top:1582.08px;font-size:21.8px;line-height:28.34px;transform:scaleX(1.0545);">liquid chromatography tandem mass spectrometry.</div>
<div class="t" style="left:26.60px;top:1611.71px;font-size:21.8px;line-height:28.34px;font-weight:bold;transform:scaleX(0.9834);"><u>Liopsomes preparation and drug delivery:</u></div>
<div class="t" style="left:43.60px;top:1641.34px;font-size:21.8px;line-height:28.34px;transform:scaleX(1.0393);">Generating pH sensitive liposomes nano-carriers with</div>
<div class="t" style="left:26.60px;top:1670.97px;font-size:21.8px;line-height:28.34px;transform:scaleX(1.0499);">the following techniques; the nanoparticles suspension</div>
<div class="t" style="left:26.60px;top:1700.60px;font-size:21.8px;line-height:28.34px;transform:scaleX(1.0046);">was prepared by a mixture of DPPC, DOPE-PAA and</div>
<div class="t" style="left:26.60px;top:1730.23px;font-size:21.8px;line-height:28.34px;transform:scaleX(1.0499);">cholesterol. First, the solvent was removed to form a</div>
<div class="t" style="left:26.60px;top:1759.86px;font-size:21.8px;line-height:28.34px;transform:scaleX(1.0471);">homogeneous lipid film. The anti-cancer drug</div>
<div class="t" style="left:26.60px;top:1789.49px;font-size:21.8px;line-height:28.34px;transform:scaleX(1.0296);">(Doxrubicin) was passively loaded inside the liposomes.</div>
<div class="t" style="left:26.60px;top:1819.12px;font-size:21.8px;line-height:28.34px;transform:scaleX(1.0337);">This was followed by freeze- thaw cycles and sonication.</div>
<div class="t" style="left:26.60px;top:1848.75px;font-size:21.8px;line-height:28.34px;transform:scaleX(1.0424);">Nanoparticles suspension was then extruded with 100</div>
<div class="t" style="left:26.60px;top:1878.38px;font-size:21.8px;line-height:28.34px;transform:scaleX(1.0513);">nm membrane, followed by the removal of free Dox using</div>
<div class="t" style="left:26.60px;top:1908.01px;font-size:21.8px;line-height:28.34px;transform:scaleX(1.0248);">G50 column.  Characterization and release studies have</div>
<div class="t" style="left:26.60px;top:1937.64px;font-size:21.8px;line-height:28.34px;transform:scaleX(1.0505);">been performed by zetesizer, fluorescent meter and</div>
<div class="t" style="left:26.60px;top:1967.27px;font-size:21.8px;line-height:28.34px;transform:scaleX(1.0426);">confocal microscopy.</div>
<div class="t" style="left:642.00px;top:1662.18px;font-size:21.8px;line-height:28.34px;transform:scaleX(1.0217);">The patients samples were analyzed using</div>
<div class="t" style="left:635.60px;top:1691.46px;font-size:21.8px;line-height:28.34px;transform:scaleX(1.0727);">proteomic techniques. To further target the</div>
<div class="t" style="left:635.60px;top:1720.74px;font-size:21.8px;line-height:28.34px;transform:scaleX(1.0478);">highly expressed protein in the colorectal</div>
<div class="t" style="left:635.60px;top:1750.02px;font-size:21.8px;line-height:28.34px;transform:scaleX(1.0283);">cancer cells, liposome nanocarrier was</div>
<div class="t" style="left:635.60px;top:1779.30px;font-size:21.8px;line-height:28.34px;transform:scaleX(1.0614);">designed to deliver the drug efficiently to the</div>
<div class="t" style="left:635.60px;top:1808.58px;font-size:21.8px;line-height:28.34px;transform:scaleX(0.9885);">cells.</div>
<div class="t" style="left:635.60px;top:1877.78px;font-size:21.8px;line-height:28.34px;transform:scaleX(1.0180);">Proteomics Unit, Stem Cell and Tissue</div>
<div class="t" style="left:635.60px;top:1907.03px;font-size:21.8px;line-height:28.34px;transform:scaleX(0.9871);">Re-Engineering Program, KFSH&amp;RC. And</div>
<div class="t" style="left:635.60px;top:1936.28px;font-size:21.8px;line-height:28.34px;transform:scaleX(1.0406);">Smart Hybrid Materials, Advanced</div>
<div class="t" style="left:635.60px;top:1965.53px;font-size:21.8px;line-height:28.34px;transform:scaleX(1.0368);">Membranes and Porous Materials (AMPMC),</div>
<div class="t" style="left:635.60px;top:1994.78px;font-size:21.8px;line-height:28.34px;transform:scaleX(0.9356);">KAUST.</div>
<div class="t" style="left:644.60px;top:825.14px;font-size:12.4px;line-height:16.12px;transform:scaleX(1.0201);"><b>Fig 1.</b> Unsupervised Hierarchical cluster analysis of 110 differentially</div>
<div class="t" style="left:644.60px;top:840.54px;font-size:12.4px;line-height:16.12px;transform:scaleX(1.0395);">expressed protein spots of four different groups of patient samples.</div>
<div class="t" style="left:644.60px;top:857.14px;font-size:12.4px;line-height:16.12px;transform:scaleX(1.0349);">Many of the samples with negative lymph node spread clusters shown to be</div>
<div class="t" style="left:644.60px;top:873.14px;font-size:12.4px;line-height:16.12px;transform:scaleX(1.0270);">relatively similar to the good prognosis samples.</div>
<div class="t" style="left:645.40px;top:1007.74px;font-size:12.4px;line-height:16.12px;transform:scaleX(1.0233);"><b>Fig 2.</b> Size distribution and zeta potential of pH sensitive liposomes.</div>
<div class="t" style="left:645.40px;top:1024.44px;font-size:12.4px;line-height:16.12px;transform:scaleX(1.0291);">The average diameter considered for this sample was given by the volume</div>
<div class="t" style="left:645.40px;top:1041.14px;font-size:12.4px;line-height:16.12px;transform:scaleX(1.0458);">distribution of a peak 151.5 nm for the size and -1.80 mV for the potential.</div>
<div class="t" style="left:674.50px;top:1270.24px;font-size:12.4px;line-height:16.12px;transform:scaleX(1.0218);"><b>Fig 3.</b> The kinetics of DOX release from the liposomes obtained  with</div>
<div class="t" style="left:649.00px;top:1285.54px;font-size:12.4px;line-height:16.12px;transform:scaleX(1.0246);">fluorescence meter at different pH values (pH=4.5, 5.5, and 7.4).  The highest</div>
<div class="t" style="left:770.40px;top:1302.54px;font-size:12.4px;line-height:16.12px;transform:scaleX(1.0403);">release obtained in the lowest pH.</div>
<div class="t" style="left:653.50px;top:1569.14px;font-size:12.4px;line-height:16.12px;transform:scaleX(1.0123);"><b>Fig 4.</b> Confocal images for Dox loaded liposomes incubated with HCT-116 cells</div>
<div class="t" style="left:655.70px;top:1584.34px;font-size:12.4px;line-height:16.12px;transform:scaleX(1.0441);">at different time points. The cellular uptake of the anionic liposomes showed</div>
<div class="t" style="left:767.30px;top:1600.74px;font-size:12.4px;line-height:16.12px;transform:scaleX(1.0360);">clearly inside the cells within 2 hours.</div>
<div class="t" style="left:707.00px;top:1332.34px;font-size:12.6px;line-height:16.38px;font-weight:bold;color:#1a1aff;transform:scaleX(0.9419);">Hoechst</div>
<div class="t" style="left:816.60px;top:1331.74px;font-size:12.6px;line-height:16.38px;font-weight:bold;color:#ff1a1a;transform:scaleX(0.9635);">DOX</div>
<div class="t" style="left:918.00px;top:1331.94px;font-size:12.6px;line-height:16.38px;font-weight:bold;transform:scaleX(0.8573);">BF</div>
<div class="t" style="left:1001.40px;top:1331.94px;font-size:12.6px;line-height:16.38px;font-weight:bold;transform:scaleX(0.9975);">Merge</div>
<div class="t" style="left:658.50px;top:1406.44px;font-size:12.6px;line-height:16.38px;font-weight:bold;transform:scaleX(1.0199);">1hr</div>
<div class="t" style="left:653.00px;top:1500.44px;font-size:12.6px;line-height:16.38px;font-weight:bold;transform:scaleX(0.9583);">2hrs</div>
<div class="t" style="left:446.70px;top:115.14px;font-size:10.9px;line-height:14.17px;font-weight:bold;color:#a39b94;transform:scaleX(0.7275);">King Abdullah University of</div>
<div class="t" style="left:460.00px;top:126.94px;font-size:10.9px;line-height:14.17px;font-weight:bold;color:#a39b94;transform:scaleX(0.7116);">Science and Technology</div>
<div class="t" style="left:661.90px;top:105.55px;font-size:12px;line-height:15.6px;font-family:'Liberation Serif', serif;font-weight:bold;color:#2c7a45;transform:scaleX(0.6274);">King Faisal Specialist Hospital &amp; Research Centre</div>
<div class="t" style="left:710.70px;top:118.33px;font-size:10.6px;line-height:13.78px;font-family:'Liberation Serif', serif;color:#4f8763;transform:scaleX(0.7424);">Gen. Org.</div>
<div class="t" style="left:892.50px;top:140.54px;font-size:11.6px;line-height:15.08px;color:#1b1464;transform:scaleX(1.3467);">ALFAISAL UNIVERSITY</div>
</div></body></html>
